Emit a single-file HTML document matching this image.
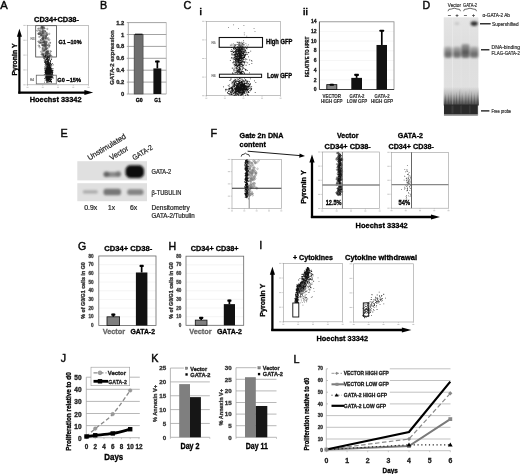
<!DOCTYPE html>
<html><head><meta charset="utf-8"><style>
html,body{margin:0;padding:0;background:#fff;width:520px;height:474px;overflow:hidden;}
svg{display:block;font-family:"Liberation Sans",sans-serif;will-change:transform;filter:blur(0.3px);}
</style></head><body>
<svg width="520" height="474" viewBox="0 0 520 474" font-family="Liberation Sans, sans-serif">
<text x="0.3" y="8.5" font-size="11.2" stroke="#111" stroke-width="0.45">A</text>
<text x="34" y="21.7" font-size="7.4" font-weight="bold" stroke="#000" stroke-width="0.32" textLength="45" lengthAdjust="spacingAndGlyphs">CD34+CD38-</text>
<rect x="27.5" y="25.4" width="61" height="59.4" fill="none" stroke="#9a9a9a" stroke-width="0.6"/>
<line x1="26.3" y1="84.8" x2="27.5" y2="84.8" stroke="#aaa" stroke-width="0.5"/>
<rect x="23.3" y="84.3" width="2.4" height="1" fill="#c8c8c8"/>
<line x1="26.3" y1="69.95" x2="27.5" y2="69.95" stroke="#aaa" stroke-width="0.5"/>
<rect x="23.3" y="69.45" width="2.4" height="1" fill="#c8c8c8"/>
<line x1="26.3" y1="55.1" x2="27.5" y2="55.1" stroke="#aaa" stroke-width="0.5"/>
<rect x="23.3" y="54.6" width="2.4" height="1" fill="#c8c8c8"/>
<line x1="26.3" y1="40.25" x2="27.5" y2="40.25" stroke="#aaa" stroke-width="0.5"/>
<rect x="23.3" y="39.75" width="2.4" height="1" fill="#c8c8c8"/>
<line x1="26.3" y1="25.4" x2="27.5" y2="25.4" stroke="#aaa" stroke-width="0.5"/>
<rect x="23.3" y="24.9" width="2.4" height="1" fill="#c8c8c8"/>
<line x1="27.5" y1="84.8" x2="27.5" y2="86" stroke="#aaa" stroke-width="0.5"/>
<rect x="26.5" y="86.8" width="2" height="1" fill="#c8c8c8"/>
<line x1="42.75" y1="84.8" x2="42.75" y2="86" stroke="#aaa" stroke-width="0.5"/>
<rect x="41.75" y="86.8" width="2" height="1" fill="#c8c8c8"/>
<line x1="58" y1="84.8" x2="58" y2="86" stroke="#aaa" stroke-width="0.5"/>
<rect x="57" y="86.8" width="2" height="1" fill="#c8c8c8"/>
<line x1="73.25" y1="84.8" x2="73.25" y2="86" stroke="#aaa" stroke-width="0.5"/>
<rect x="72.25" y="86.8" width="2" height="1" fill="#c8c8c8"/>
<line x1="88.5" y1="84.8" x2="88.5" y2="86" stroke="#aaa" stroke-width="0.5"/>
<rect x="87.5" y="86.8" width="2" height="1" fill="#c8c8c8"/>
<path d="M45.95 45.36a0.7 0.7 0 1 0 1.4 0a0.7 0.7 0 1 0 -1.4 0M46.37 53.33a0.7 0.7 0 1 0 1.4 0a0.7 0.7 0 1 0 -1.4 0M43.27 50.24a0.7 0.7 0 1 0 1.4 0a0.7 0.7 0 1 0 -1.4 0M38.58 33.67a0.7 0.7 0 1 0 1.4 0a0.7 0.7 0 1 0 -1.4 0M45.21 35.43a0.7 0.7 0 1 0 1.4 0a0.7 0.7 0 1 0 -1.4 0M47.84 53.26a0.7 0.7 0 1 0 1.4 0a0.7 0.7 0 1 0 -1.4 0M40.94 26.58a0.7 0.7 0 1 0 1.4 0a0.7 0.7 0 1 0 -1.4 0M46.46 52.19a0.7 0.7 0 1 0 1.4 0a0.7 0.7 0 1 0 -1.4 0M47 51.44a0.7 0.7 0 1 0 1.4 0a0.7 0.7 0 1 0 -1.4 0M45.65 41.58a0.7 0.7 0 1 0 1.4 0a0.7 0.7 0 1 0 -1.4 0M45.15 35.85a0.7 0.7 0 1 0 1.4 0a0.7 0.7 0 1 0 -1.4 0M41.32 35.61a0.7 0.7 0 1 0 1.4 0a0.7 0.7 0 1 0 -1.4 0M46.54 34.58a0.7 0.7 0 1 0 1.4 0a0.7 0.7 0 1 0 -1.4 0M39.94 40.16a0.7 0.7 0 1 0 1.4 0a0.7 0.7 0 1 0 -1.4 0M45.9 41.97a0.7 0.7 0 1 0 1.4 0a0.7 0.7 0 1 0 -1.4 0M45.12 42.96a0.7 0.7 0 1 0 1.4 0a0.7 0.7 0 1 0 -1.4 0M48.14 56.14a0.7 0.7 0 1 0 1.4 0a0.7 0.7 0 1 0 -1.4 0M49.94 51.18a0.7 0.7 0 1 0 1.4 0a0.7 0.7 0 1 0 -1.4 0M48.11 45.57a0.7 0.7 0 1 0 1.4 0a0.7 0.7 0 1 0 -1.4 0M42.66 56.78a0.7 0.7 0 1 0 1.4 0a0.7 0.7 0 1 0 -1.4 0M37.71 33.96a0.7 0.7 0 1 0 1.4 0a0.7 0.7 0 1 0 -1.4 0M44.23 30.94a0.7 0.7 0 1 0 1.4 0a0.7 0.7 0 1 0 -1.4 0M41.32 44.98a0.7 0.7 0 1 0 1.4 0a0.7 0.7 0 1 0 -1.4 0M41.46 28.41a0.7 0.7 0 1 0 1.4 0a0.7 0.7 0 1 0 -1.4 0M43.73 28.27a0.7 0.7 0 1 0 1.4 0a0.7 0.7 0 1 0 -1.4 0M39.18 42.26a0.7 0.7 0 1 0 1.4 0a0.7 0.7 0 1 0 -1.4 0M37.7 41.5a0.7 0.7 0 1 0 1.4 0a0.7 0.7 0 1 0 -1.4 0M46.13 54.62a0.7 0.7 0 1 0 1.4 0a0.7 0.7 0 1 0 -1.4 0M44.25 45.27a0.7 0.7 0 1 0 1.4 0a0.7 0.7 0 1 0 -1.4 0M42.95 41.96a0.7 0.7 0 1 0 1.4 0a0.7 0.7 0 1 0 -1.4 0M43.64 42.31a0.7 0.7 0 1 0 1.4 0a0.7 0.7 0 1 0 -1.4 0M40.09 34.66a0.7 0.7 0 1 0 1.4 0a0.7 0.7 0 1 0 -1.4 0M41.72 33.45a0.7 0.7 0 1 0 1.4 0a0.7 0.7 0 1 0 -1.4 0M41.79 48.06a0.7 0.7 0 1 0 1.4 0a0.7 0.7 0 1 0 -1.4 0M37.77 33.69a0.7 0.7 0 1 0 1.4 0a0.7 0.7 0 1 0 -1.4 0M44.33 37.89a0.7 0.7 0 1 0 1.4 0a0.7 0.7 0 1 0 -1.4 0M41.15 26.96a0.7 0.7 0 1 0 1.4 0a0.7 0.7 0 1 0 -1.4 0M46.13 51.34a0.7 0.7 0 1 0 1.4 0a0.7 0.7 0 1 0 -1.4 0M39.32 32.9a0.7 0.7 0 1 0 1.4 0a0.7 0.7 0 1 0 -1.4 0M40.73 34.94a0.7 0.7 0 1 0 1.4 0a0.7 0.7 0 1 0 -1.4 0M42.56 54.2a0.7 0.7 0 1 0 1.4 0a0.7 0.7 0 1 0 -1.4 0M41.2 41.97a0.7 0.7 0 1 0 1.4 0a0.7 0.7 0 1 0 -1.4 0M45.64 52.5a0.7 0.7 0 1 0 1.4 0a0.7 0.7 0 1 0 -1.4 0M42.06 45.36a0.7 0.7 0 1 0 1.4 0a0.7 0.7 0 1 0 -1.4 0M45.6 49.06a0.7 0.7 0 1 0 1.4 0a0.7 0.7 0 1 0 -1.4 0M42.63 30.24a0.7 0.7 0 1 0 1.4 0a0.7 0.7 0 1 0 -1.4 0M49.2 42.61a0.7 0.7 0 1 0 1.4 0a0.7 0.7 0 1 0 -1.4 0M39.82 42.77a0.7 0.7 0 1 0 1.4 0a0.7 0.7 0 1 0 -1.4 0M47.62 53.31a0.7 0.7 0 1 0 1.4 0a0.7 0.7 0 1 0 -1.4 0M42.68 37.32a0.7 0.7 0 1 0 1.4 0a0.7 0.7 0 1 0 -1.4 0M43.95 44.69a0.7 0.7 0 1 0 1.4 0a0.7 0.7 0 1 0 -1.4 0M37.65 28.55a0.7 0.7 0 1 0 1.4 0a0.7 0.7 0 1 0 -1.4 0M41.8 38.6a0.7 0.7 0 1 0 1.4 0a0.7 0.7 0 1 0 -1.4 0M44.76 36.42a0.7 0.7 0 1 0 1.4 0a0.7 0.7 0 1 0 -1.4 0M41.75 31.09a0.7 0.7 0 1 0 1.4 0a0.7 0.7 0 1 0 -1.4 0M45.19 51.34a0.7 0.7 0 1 0 1.4 0a0.7 0.7 0 1 0 -1.4 0M42.22 37.87a0.7 0.7 0 1 0 1.4 0a0.7 0.7 0 1 0 -1.4 0M48.82 55.72a0.7 0.7 0 1 0 1.4 0a0.7 0.7 0 1 0 -1.4 0M43.9 44.68a0.7 0.7 0 1 0 1.4 0a0.7 0.7 0 1 0 -1.4 0M38.08 45.59a0.7 0.7 0 1 0 1.4 0a0.7 0.7 0 1 0 -1.4 0M42.3 45.38a0.7 0.7 0 1 0 1.4 0a0.7 0.7 0 1 0 -1.4 0M39.03 47.3a0.7 0.7 0 1 0 1.4 0a0.7 0.7 0 1 0 -1.4 0M41.85 39.72a0.7 0.7 0 1 0 1.4 0a0.7 0.7 0 1 0 -1.4 0M45.98 34.61a0.7 0.7 0 1 0 1.4 0a0.7 0.7 0 1 0 -1.4 0M43.24 38.82a0.7 0.7 0 1 0 1.4 0a0.7 0.7 0 1 0 -1.4 0M38.57 30.65a0.7 0.7 0 1 0 1.4 0a0.7 0.7 0 1 0 -1.4 0M43.12 55.64a0.7 0.7 0 1 0 1.4 0a0.7 0.7 0 1 0 -1.4 0M45.32 33.64a0.7 0.7 0 1 0 1.4 0a0.7 0.7 0 1 0 -1.4 0M44.75 47.04a0.7 0.7 0 1 0 1.4 0a0.7 0.7 0 1 0 -1.4 0M42.78 35.64a0.7 0.7 0 1 0 1.4 0a0.7 0.7 0 1 0 -1.4 0M45.09 53.52a0.7 0.7 0 1 0 1.4 0a0.7 0.7 0 1 0 -1.4 0M44.38 46.79a0.7 0.7 0 1 0 1.4 0a0.7 0.7 0 1 0 -1.4 0M44.07 31.25a0.7 0.7 0 1 0 1.4 0a0.7 0.7 0 1 0 -1.4 0M46.59 52.33a0.7 0.7 0 1 0 1.4 0a0.7 0.7 0 1 0 -1.4 0M46.13 54.81a0.7 0.7 0 1 0 1.4 0a0.7 0.7 0 1 0 -1.4 0M42.55 54.07a0.7 0.7 0 1 0 1.4 0a0.7 0.7 0 1 0 -1.4 0M45.24 44.12a0.7 0.7 0 1 0 1.4 0a0.7 0.7 0 1 0 -1.4 0M40.11 31.84a0.7 0.7 0 1 0 1.4 0a0.7 0.7 0 1 0 -1.4 0M45.12 32.32a0.7 0.7 0 1 0 1.4 0a0.7 0.7 0 1 0 -1.4 0M42.04 54.82a0.7 0.7 0 1 0 1.4 0a0.7 0.7 0 1 0 -1.4 0M43.41 42.71a0.7 0.7 0 1 0 1.4 0a0.7 0.7 0 1 0 -1.4 0M42.09 32.74a0.7 0.7 0 1 0 1.4 0a0.7 0.7 0 1 0 -1.4 0M41.7 52.98a0.7 0.7 0 1 0 1.4 0a0.7 0.7 0 1 0 -1.4 0M48.84 45.34a0.7 0.7 0 1 0 1.4 0a0.7 0.7 0 1 0 -1.4 0M47.81 44.06a0.7 0.7 0 1 0 1.4 0a0.7 0.7 0 1 0 -1.4 0M41.74 38.84a0.7 0.7 0 1 0 1.4 0a0.7 0.7 0 1 0 -1.4 0M45.23 38.57a0.7 0.7 0 1 0 1.4 0a0.7 0.7 0 1 0 -1.4 0M43.4 33.64a0.7 0.7 0 1 0 1.4 0a0.7 0.7 0 1 0 -1.4 0M45.92 52.72a0.7 0.7 0 1 0 1.4 0a0.7 0.7 0 1 0 -1.4 0M43.24 41.22a0.7 0.7 0 1 0 1.4 0a0.7 0.7 0 1 0 -1.4 0M43.99 43.03a0.7 0.7 0 1 0 1.4 0a0.7 0.7 0 1 0 -1.4 0M39.84 36.3a0.7 0.7 0 1 0 1.4 0a0.7 0.7 0 1 0 -1.4 0M43.95 49.83a0.7 0.7 0 1 0 1.4 0a0.7 0.7 0 1 0 -1.4 0M40.93 27.38a0.7 0.7 0 1 0 1.4 0a0.7 0.7 0 1 0 -1.4 0M46.18 38.38a0.7 0.7 0 1 0 1.4 0a0.7 0.7 0 1 0 -1.4 0M42.34 27.42a0.7 0.7 0 1 0 1.4 0a0.7 0.7 0 1 0 -1.4 0M41.84 30.08a0.7 0.7 0 1 0 1.4 0a0.7 0.7 0 1 0 -1.4 0M49.78 55.1a0.7 0.7 0 1 0 1.4 0a0.7 0.7 0 1 0 -1.4 0M42.76 47.66a0.7 0.7 0 1 0 1.4 0a0.7 0.7 0 1 0 -1.4 0M42.18 39.69a0.7 0.7 0 1 0 1.4 0a0.7 0.7 0 1 0 -1.4 0M38.75 42.83a0.7 0.7 0 1 0 1.4 0a0.7 0.7 0 1 0 -1.4 0M49.46 53.17a0.7 0.7 0 1 0 1.4 0a0.7 0.7 0 1 0 -1.4 0M45.45 37.41a0.7 0.7 0 1 0 1.4 0a0.7 0.7 0 1 0 -1.4 0M46.43 44.73a0.7 0.7 0 1 0 1.4 0a0.7 0.7 0 1 0 -1.4 0M46.18 48.46a0.7 0.7 0 1 0 1.4 0a0.7 0.7 0 1 0 -1.4 0M43.2 37.14a0.7 0.7 0 1 0 1.4 0a0.7 0.7 0 1 0 -1.4 0M44.22 41.79a0.7 0.7 0 1 0 1.4 0a0.7 0.7 0 1 0 -1.4 0M44.06 49.45a0.7 0.7 0 1 0 1.4 0a0.7 0.7 0 1 0 -1.4 0M44.84 53.61a0.7 0.7 0 1 0 1.4 0a0.7 0.7 0 1 0 -1.4 0M42.13 31.91a0.7 0.7 0 1 0 1.4 0a0.7 0.7 0 1 0 -1.4 0M49.58 55.41a0.7 0.7 0 1 0 1.4 0a0.7 0.7 0 1 0 -1.4 0M42.82 26.67a0.7 0.7 0 1 0 1.4 0a0.7 0.7 0 1 0 -1.4 0M44.53 48.89a0.7 0.7 0 1 0 1.4 0a0.7 0.7 0 1 0 -1.4 0M43.38 51.14a0.7 0.7 0 1 0 1.4 0a0.7 0.7 0 1 0 -1.4 0M40.2 31.8a0.7 0.7 0 1 0 1.4 0a0.7 0.7 0 1 0 -1.4 0M47.51 38.16a0.7 0.7 0 1 0 1.4 0a0.7 0.7 0 1 0 -1.4 0M46.34 51.72a0.7 0.7 0 1 0 1.4 0a0.7 0.7 0 1 0 -1.4 0M41.55 26.89a0.7 0.7 0 1 0 1.4 0a0.7 0.7 0 1 0 -1.4 0M43.19 46.37a0.7 0.7 0 1 0 1.4 0a0.7 0.7 0 1 0 -1.4 0M41.87 50.25a0.7 0.7 0 1 0 1.4 0a0.7 0.7 0 1 0 -1.4 0M43.43 42.25a0.7 0.7 0 1 0 1.4 0a0.7 0.7 0 1 0 -1.4 0M46.93 48.02a0.7 0.7 0 1 0 1.4 0a0.7 0.7 0 1 0 -1.4 0M41.26 33.3a0.7 0.7 0 1 0 1.4 0a0.7 0.7 0 1 0 -1.4 0M41.58 33.65a0.7 0.7 0 1 0 1.4 0a0.7 0.7 0 1 0 -1.4 0M42.34 38.3a0.7 0.7 0 1 0 1.4 0a0.7 0.7 0 1 0 -1.4 0M42.4 32.18a0.7 0.7 0 1 0 1.4 0a0.7 0.7 0 1 0 -1.4 0M38.56 36.95a0.7 0.7 0 1 0 1.4 0a0.7 0.7 0 1 0 -1.4 0M44.93 54.5a0.7 0.7 0 1 0 1.4 0a0.7 0.7 0 1 0 -1.4 0M41.57 44a0.7 0.7 0 1 0 1.4 0a0.7 0.7 0 1 0 -1.4 0M45.22 37.19a0.7 0.7 0 1 0 1.4 0a0.7 0.7 0 1 0 -1.4 0M40.44 35.1a0.7 0.7 0 1 0 1.4 0a0.7 0.7 0 1 0 -1.4 0M47.14 55.51a0.7 0.7 0 1 0 1.4 0a0.7 0.7 0 1 0 -1.4 0M47.42 39.77a0.7 0.7 0 1 0 1.4 0a0.7 0.7 0 1 0 -1.4 0M44.87 56.38a0.7 0.7 0 1 0 1.4 0a0.7 0.7 0 1 0 -1.4 0M42 42.45a0.7 0.7 0 1 0 1.4 0a0.7 0.7 0 1 0 -1.4 0M44.16 43.28a0.7 0.7 0 1 0 1.4 0a0.7 0.7 0 1 0 -1.4 0M45.33 54.83a0.7 0.7 0 1 0 1.4 0a0.7 0.7 0 1 0 -1.4 0M41.96 49.21a0.7 0.7 0 1 0 1.4 0a0.7 0.7 0 1 0 -1.4 0M45.16 44.04a0.7 0.7 0 1 0 1.4 0a0.7 0.7 0 1 0 -1.4 0M48.66 39.77a0.7 0.7 0 1 0 1.4 0a0.7 0.7 0 1 0 -1.4 0M44.55 53.04a0.7 0.7 0 1 0 1.4 0a0.7 0.7 0 1 0 -1.4 0M42.6 38.98a0.7 0.7 0 1 0 1.4 0a0.7 0.7 0 1 0 -1.4 0M42.63 54.65a0.7 0.7 0 1 0 1.4 0a0.7 0.7 0 1 0 -1.4 0M42.47 28.54a0.7 0.7 0 1 0 1.4 0a0.7 0.7 0 1 0 -1.4 0M39.87 40.2a0.7 0.7 0 1 0 1.4 0a0.7 0.7 0 1 0 -1.4 0M40.65 42.53a0.7 0.7 0 1 0 1.4 0a0.7 0.7 0 1 0 -1.4 0M49.03 55.65a0.7 0.7 0 1 0 1.4 0a0.7 0.7 0 1 0 -1.4 0M39.98 34.44a0.7 0.7 0 1 0 1.4 0a0.7 0.7 0 1 0 -1.4 0M47.85 50.82a0.7 0.7 0 1 0 1.4 0a0.7 0.7 0 1 0 -1.4 0M48.46 46.82a0.7 0.7 0 1 0 1.4 0a0.7 0.7 0 1 0 -1.4 0M45.23 48.39a0.7 0.7 0 1 0 1.4 0a0.7 0.7 0 1 0 -1.4 0M45.63 45.61a0.7 0.7 0 1 0 1.4 0a0.7 0.7 0 1 0 -1.4 0M50.94 56.26a0.7 0.7 0 1 0 1.4 0a0.7 0.7 0 1 0 -1.4 0M42.27 36.98a0.7 0.7 0 1 0 1.4 0a0.7 0.7 0 1 0 -1.4 0M41.49 38.27a0.7 0.7 0 1 0 1.4 0a0.7 0.7 0 1 0 -1.4 0M38.56 33.12a0.7 0.7 0 1 0 1.4 0a0.7 0.7 0 1 0 -1.4 0M41.64 27.85a0.7 0.7 0 1 0 1.4 0a0.7 0.7 0 1 0 -1.4 0M46.25 33.08a0.7 0.7 0 1 0 1.4 0a0.7 0.7 0 1 0 -1.4 0M48.01 54.32a0.7 0.7 0 1 0 1.4 0a0.7 0.7 0 1 0 -1.4 0M42.54 51.17a0.7 0.7 0 1 0 1.4 0a0.7 0.7 0 1 0 -1.4 0M39.5 30.42a0.7 0.7 0 1 0 1.4 0a0.7 0.7 0 1 0 -1.4 0M42.66 45.19a0.7 0.7 0 1 0 1.4 0a0.7 0.7 0 1 0 -1.4 0M44.25 41.3a0.7 0.7 0 1 0 1.4 0a0.7 0.7 0 1 0 -1.4 0M43.42 44.63a0.7 0.7 0 1 0 1.4 0a0.7 0.7 0 1 0 -1.4 0M44.85 46.59a0.7 0.7 0 1 0 1.4 0a0.7 0.7 0 1 0 -1.4 0M43.48 35.71a0.7 0.7 0 1 0 1.4 0a0.7 0.7 0 1 0 -1.4 0M44.82 55.71a0.7 0.7 0 1 0 1.4 0a0.7 0.7 0 1 0 -1.4 0M43.29 40.7a0.7 0.7 0 1 0 1.4 0a0.7 0.7 0 1 0 -1.4 0M44.68 45.89a0.7 0.7 0 1 0 1.4 0a0.7 0.7 0 1 0 -1.4 0M43.93 45.45a0.7 0.7 0 1 0 1.4 0a0.7 0.7 0 1 0 -1.4 0M43.49 32.63a0.7 0.7 0 1 0 1.4 0a0.7 0.7 0 1 0 -1.4 0M46.63 28.93a0.7 0.7 0 1 0 1.4 0a0.7 0.7 0 1 0 -1.4 0M44.75 39.27a0.7 0.7 0 1 0 1.4 0a0.7 0.7 0 1 0 -1.4 0M44.89 49.7a0.7 0.7 0 1 0 1.4 0a0.7 0.7 0 1 0 -1.4 0M40.42 51.73a0.7 0.7 0 1 0 1.4 0a0.7 0.7 0 1 0 -1.4 0M45.63 48.07a0.7 0.7 0 1 0 1.4 0a0.7 0.7 0 1 0 -1.4 0M36.55 30.63a0.7 0.7 0 1 0 1.4 0a0.7 0.7 0 1 0 -1.4 0M41.61 54.52a0.7 0.7 0 1 0 1.4 0a0.7 0.7 0 1 0 -1.4 0M47.22 51.2a0.7 0.7 0 1 0 1.4 0a0.7 0.7 0 1 0 -1.4 0M47.16 53.52a0.7 0.7 0 1 0 1.4 0a0.7 0.7 0 1 0 -1.4 0M43.25 42.37a0.7 0.7 0 1 0 1.4 0a0.7 0.7 0 1 0 -1.4 0M40.8 54.34a0.7 0.7 0 1 0 1.4 0a0.7 0.7 0 1 0 -1.4 0M40.51 28.72a0.7 0.7 0 1 0 1.4 0a0.7 0.7 0 1 0 -1.4 0M39.6 28.12a0.7 0.7 0 1 0 1.4 0a0.7 0.7 0 1 0 -1.4 0M43.11 27.71a0.7 0.7 0 1 0 1.4 0a0.7 0.7 0 1 0 -1.4 0M48.53 33.83a0.7 0.7 0 1 0 1.4 0a0.7 0.7 0 1 0 -1.4 0M43 34.73a0.7 0.7 0 1 0 1.4 0a0.7 0.7 0 1 0 -1.4 0" fill="none" stroke="#444" stroke-width="0.4"/>
<path d="M46.65 45.36h0.8v0.8h-0.8zM47.07 53.33h0.8v0.8h-0.8zM43.97 50.24h0.8v0.8h-0.8zM39.28 33.67h0.8v0.8h-0.8zM45.91 35.43h0.8v0.8h-0.8zM48.54 53.26h0.8v0.8h-0.8zM41.64 26.58h0.8v0.8h-0.8zM47.16 52.19h0.8v0.8h-0.8zM47.7 51.44h0.8v0.8h-0.8zM46.35 41.58h0.8v0.8h-0.8zM45.85 35.85h0.8v0.8h-0.8zM42.02 35.61h0.8v0.8h-0.8zM47.24 34.58h0.8v0.8h-0.8zM40.64 40.16h0.8v0.8h-0.8zM46.6 41.97h0.8v0.8h-0.8zM45.82 42.96h0.8v0.8h-0.8zM48.84 56.14h0.8v0.8h-0.8zM50.64 51.18h0.8v0.8h-0.8zM48.81 45.57h0.8v0.8h-0.8zM43.36 56.78h0.8v0.8h-0.8zM38.41 33.96h0.8v0.8h-0.8zM44.93 30.94h0.8v0.8h-0.8zM42.02 44.98h0.8v0.8h-0.8zM42.16 28.41h0.8v0.8h-0.8zM44.43 28.27h0.8v0.8h-0.8zM39.88 42.26h0.8v0.8h-0.8zM38.4 41.5h0.8v0.8h-0.8zM46.83 54.62h0.8v0.8h-0.8zM44.95 45.27h0.8v0.8h-0.8zM43.65 41.96h0.8v0.8h-0.8zM44.34 42.31h0.8v0.8h-0.8zM40.79 34.66h0.8v0.8h-0.8zM42.42 33.45h0.8v0.8h-0.8zM42.49 48.06h0.8v0.8h-0.8zM38.47 33.69h0.8v0.8h-0.8zM45.03 37.89h0.8v0.8h-0.8zM41.85 26.96h0.8v0.8h-0.8zM46.83 51.34h0.8v0.8h-0.8zM40.02 32.9h0.8v0.8h-0.8zM41.43 34.94h0.8v0.8h-0.8zM43.26 54.2h0.8v0.8h-0.8zM41.9 41.97h0.8v0.8h-0.8zM46.34 52.5h0.8v0.8h-0.8zM42.76 45.36h0.8v0.8h-0.8zM46.3 49.06h0.8v0.8h-0.8zM43.33 30.24h0.8v0.8h-0.8zM49.9 42.61h0.8v0.8h-0.8zM40.52 42.77h0.8v0.8h-0.8zM48.32 53.31h0.8v0.8h-0.8zM43.38 37.32h0.8v0.8h-0.8zM44.65 44.69h0.8v0.8h-0.8zM38.35 28.55h0.8v0.8h-0.8zM42.5 38.6h0.8v0.8h-0.8zM45.46 36.42h0.8v0.8h-0.8zM42.45 31.09h0.8v0.8h-0.8zM45.89 51.34h0.8v0.8h-0.8zM42.92 37.87h0.8v0.8h-0.8zM49.52 55.72h0.8v0.8h-0.8zM44.6 44.68h0.8v0.8h-0.8zM38.78 45.59h0.8v0.8h-0.8z" fill="#444"/>
<path d="M47.25 57.58h0.8v0.8h-0.8zM49.82 65.86h0.8v0.8h-0.8zM51.2 64.53h0.8v0.8h-0.8zM46.71 56.41h0.8v0.8h-0.8zM43.91 58.33h0.8v0.8h-0.8zM45.03 55.42h0.8v0.8h-0.8zM45.69 64.07h0.8v0.8h-0.8zM47.02 64.5h0.8v0.8h-0.8zM48.12 65.88h0.8v0.8h-0.8zM44.01 62.17h0.8v0.8h-0.8zM48.08 61.84h0.8v0.8h-0.8zM44.95 62.34h0.8v0.8h-0.8zM47.86 61.6h0.8v0.8h-0.8zM47.74 64.94h0.8v0.8h-0.8zM46.88 61.78h0.8v0.8h-0.8zM46.88 58.16h0.8v0.8h-0.8zM46.35 61.21h0.8v0.8h-0.8zM45.49 56.36h0.8v0.8h-0.8zM44.73 63.98h0.8v0.8h-0.8zM47.49 62.52h0.8v0.8h-0.8zM50.27 60h0.8v0.8h-0.8zM51.14 64.43h0.8v0.8h-0.8zM49.88 63.36h0.8v0.8h-0.8zM48.2 59.48h0.8v0.8h-0.8zM45.47 55.19h0.8v0.8h-0.8zM49.15 56.98h0.8v0.8h-0.8zM46.68 57h0.8v0.8h-0.8zM46.84 59.05h0.8v0.8h-0.8zM46.68 60.02h0.8v0.8h-0.8zM48.05 64.87h0.8v0.8h-0.8zM46.18 58.2h0.8v0.8h-0.8zM47.71 65.25h0.8v0.8h-0.8zM45.68 62.5h0.8v0.8h-0.8zM47.15 64.63h0.8v0.8h-0.8zM50.98 59.17h0.8v0.8h-0.8zM47.27 64.11h0.8v0.8h-0.8zM47.77 58.05h0.8v0.8h-0.8zM47.92 56.64h0.8v0.8h-0.8zM45.81 63.83h0.8v0.8h-0.8zM47.18 63.07h0.8v0.8h-0.8zM48.38 57.11h0.8v0.8h-0.8zM47.36 57.59h0.8v0.8h-0.8zM48.12 65.24h0.8v0.8h-0.8zM49.54 58.55h0.8v0.8h-0.8zM46.4 62.03h0.8v0.8h-0.8zM46.83 57.02h0.8v0.8h-0.8zM46.84 63.65h0.8v0.8h-0.8zM49.21 55.74h0.8v0.8h-0.8zM43.96 61.31h0.8v0.8h-0.8zM45.41 55.34h0.8v0.8h-0.8zM46.43 60.4h0.8v0.8h-0.8zM48.9 64.13h0.8v0.8h-0.8zM47.66 56.39h0.8v0.8h-0.8zM49.28 58.61h0.8v0.8h-0.8zM44.97 63.2h0.8v0.8h-0.8zM48.69 61.89h0.8v0.8h-0.8zM46.47 58.8h0.8v0.8h-0.8zM46.31 61.6h0.8v0.8h-0.8zM48.1 60.18h0.8v0.8h-0.8zM46.23 64.47h0.8v0.8h-0.8zM43.41 57.95h0.8v0.8h-0.8zM47.01 63.09h0.8v0.8h-0.8zM44.91 62.03h0.8v0.8h-0.8zM46.51 63.16h0.8v0.8h-0.8zM47.7 58.88h0.8v0.8h-0.8zM48.12 62.76h0.8v0.8h-0.8zM50.25 63.24h0.8v0.8h-0.8zM46.74 59.37h0.8v0.8h-0.8zM43.93 55.73h0.8v0.8h-0.8zM46.66 66.19h0.8v0.8h-0.8zM46.01 63.14h0.8v0.8h-0.8zM44.74 58.39h0.8v0.8h-0.8zM48.34 62.63h0.8v0.8h-0.8zM45.82 58.47h0.8v0.8h-0.8zM43.84 60h0.8v0.8h-0.8zM48.97 65.39h0.8v0.8h-0.8zM46.98 60.78h0.8v0.8h-0.8zM47.54 57.19h0.8v0.8h-0.8zM47.14 57.88h0.8v0.8h-0.8zM47.69 56.18h0.8v0.8h-0.8zM46.89 57.81h0.8v0.8h-0.8zM49.01 58.35h0.8v0.8h-0.8zM47.48 56.87h0.8v0.8h-0.8zM47.26 55.92h0.8v0.8h-0.8zM47.9 60.45h0.8v0.8h-0.8zM44.35 57.32h0.8v0.8h-0.8zM47.33 63.64h0.8v0.8h-0.8zM47.44 64.02h0.8v0.8h-0.8zM47.26 58.32h0.8v0.8h-0.8zM45.05 60.78h0.8v0.8h-0.8zM50.04 61.05h0.8v0.8h-0.8zM46.79 55.71h0.8v0.8h-0.8zM44.63 55.93h0.8v0.8h-0.8zM44.92 64.92h0.8v0.8h-0.8zM46.73 59.76h0.8v0.8h-0.8zM47.55 63.39h0.8v0.8h-0.8zM45.38 54.95h0.8v0.8h-0.8zM47.55 61.53h0.8v0.8h-0.8zM46.71 64.77h0.8v0.8h-0.8zM48.74 65.05h0.8v0.8h-0.8zM45.28 54.99h0.8v0.8h-0.8zM47.22 61.26h0.8v0.8h-0.8zM48.72 59.07h0.8v0.8h-0.8zM52.01 63.31h0.8v0.8h-0.8zM44.9 56.09h0.8v0.8h-0.8zM46.11 58.44h0.8v0.8h-0.8zM46.29 63.77h0.8v0.8h-0.8zM48.54 60.04h0.8v0.8h-0.8zM45.23 59.9h0.8v0.8h-0.8zM47.13 65.7h0.8v0.8h-0.8zM46.93 58.07h0.8v0.8h-0.8zM44.9 55.97h0.8v0.8h-0.8zM45.46 59.11h0.8v0.8h-0.8zM45.92 56.92h0.8v0.8h-0.8zM43.05 55.49h0.8v0.8h-0.8zM44.89 61.43h0.8v0.8h-0.8zM47.23 65.69h0.8v0.8h-0.8zM47.62 61.16h0.8v0.8h-0.8zM47.15 63.13h0.8v0.8h-0.8zM43.97 58.75h0.8v0.8h-0.8zM46.57 62.17h0.8v0.8h-0.8zM48.99 63.75h0.8v0.8h-0.8zM48.33 61.15h0.8v0.8h-0.8zM47.57 63.64h0.8v0.8h-0.8zM45.82 61.27h0.8v0.8h-0.8zM47.87 57.21h0.8v0.8h-0.8zM46.39 61.43h0.8v0.8h-0.8zM45.25 60.26h0.8v0.8h-0.8zM45.39 55.92h0.8v0.8h-0.8zM49.89 61.7h0.8v0.8h-0.8zM48.1 62.88h0.8v0.8h-0.8zM48.67 56.67h0.8v0.8h-0.8zM46.5 60.63h0.8v0.8h-0.8zM49.2 62.71h0.8v0.8h-0.8zM46.08 59.32h0.8v0.8h-0.8zM46.64 58.11h0.8v0.8h-0.8zM51.29 58.38h0.8v0.8h-0.8zM48.62 60.08h0.8v0.8h-0.8zM46.68 62.02h0.8v0.8h-0.8zM47.19 60.13h0.8v0.8h-0.8zM47.22 55.69h0.8v0.8h-0.8zM49.78 64.79h0.8v0.8h-0.8zM47.05 64.63h0.8v0.8h-0.8zM43.69 56.44h0.8v0.8h-0.8zM46.4 57.06h0.8v0.8h-0.8zM46.79 57.06h0.8v0.8h-0.8zM47.96 64.18h0.8v0.8h-0.8zM50.1 64.98h0.8v0.8h-0.8zM47.1 55.77h0.8v0.8h-0.8zM48.38 59.53h0.8v0.8h-0.8zM44.92 57.21h0.8v0.8h-0.8zM48.68 60.23h0.8v0.8h-0.8zM51.45 64.65h0.8v0.8h-0.8zM47.92 56.06h0.8v0.8h-0.8zM47.19 56.76h0.8v0.8h-0.8zM47.49 60.77h0.8v0.8h-0.8zM50.32 60.74h0.8v0.8h-0.8zM46.04 64.07h0.8v0.8h-0.8zM46.97 58.82h0.8v0.8h-0.8zM47.83 73.41h0.8v0.8h-0.8zM49.71 64.21h0.8v0.8h-0.8zM47.74 70.18h0.8v0.8h-0.8zM47.03 73.47h0.8v0.8h-0.8zM47.87 67.72h0.8v0.8h-0.8zM46.09 69.36h0.8v0.8h-0.8zM48.49 71.46h0.8v0.8h-0.8zM52.2 74.44h0.8v0.8h-0.8zM50.13 72.31h0.8v0.8h-0.8zM46.53 69.27h0.8v0.8h-0.8zM46.9 76.31h0.8v0.8h-0.8zM47.65 70.73h0.8v0.8h-0.8zM49.91 70.9h0.8v0.8h-0.8zM46.99 67.21h0.8v0.8h-0.8zM47.2 69.7h0.8v0.8h-0.8zM49.72 75.74h0.8v0.8h-0.8zM49.68 66.21h0.8v0.8h-0.8zM47.7 72.7h0.8v0.8h-0.8zM46.51 76.01h0.8v0.8h-0.8zM45.82 71.42h0.8v0.8h-0.8zM47.18 74.01h0.8v0.8h-0.8zM44.73 68.31h0.8v0.8h-0.8zM49.5 78.5h0.8v0.8h-0.8zM47.29 77.62h0.8v0.8h-0.8zM49.07 73.99h0.8v0.8h-0.8zM51.29 65.63h0.8v0.8h-0.8zM50.18 68.61h0.8v0.8h-0.8zM46.46 77.1h0.8v0.8h-0.8zM49.69 80.2h0.8v0.8h-0.8zM50.15 74.25h0.8v0.8h-0.8zM47.11 78.24h0.8v0.8h-0.8zM46.77 70.45h0.8v0.8h-0.8zM48.12 72.2h0.8v0.8h-0.8zM45.74 73h0.8v0.8h-0.8zM50.65 74.78h0.8v0.8h-0.8zM44.45 66.58h0.8v0.8h-0.8zM46.53 76.95h0.8v0.8h-0.8zM47.87 78.55h0.8v0.8h-0.8zM47.94 68.18h0.8v0.8h-0.8zM48.57 67.31h0.8v0.8h-0.8zM48.73 74.47h0.8v0.8h-0.8zM47.96 70.25h0.8v0.8h-0.8zM50.12 63.04h0.8v0.8h-0.8zM44.88 76.4h0.8v0.8h-0.8zM48.3 73.65h0.8v0.8h-0.8zM47.16 71h0.8v0.8h-0.8zM48.51 81.88h0.8v0.8h-0.8zM48.65 73.58h0.8v0.8h-0.8zM46.84 69.84h0.8v0.8h-0.8zM47.27 73.42h0.8v0.8h-0.8zM49.57 68.63h0.8v0.8h-0.8zM48.86 69.8h0.8v0.8h-0.8zM47.21 74.62h0.8v0.8h-0.8zM51.56 70.67h0.8v0.8h-0.8zM51.99 71.11h0.8v0.8h-0.8zM45.96 80.01h0.8v0.8h-0.8zM48.78 76.61h0.8v0.8h-0.8zM52.31 76.37h0.8v0.8h-0.8zM49.55 75.22h0.8v0.8h-0.8zM48.65 75.03h0.8v0.8h-0.8zM47.97 79.12h0.8v0.8h-0.8zM47.43 72.92h0.8v0.8h-0.8zM47.96 80.79h0.8v0.8h-0.8zM47.42 69h0.8v0.8h-0.8zM49.49 71.93h0.8v0.8h-0.8zM47.66 67.21h0.8v0.8h-0.8zM47.59 71.56h0.8v0.8h-0.8zM46.38 75.18h0.8v0.8h-0.8zM48.22 79.1h0.8v0.8h-0.8zM46.87 70.21h0.8v0.8h-0.8zM48.01 73.02h0.8v0.8h-0.8zM49.97 71.49h0.8v0.8h-0.8zM48.89 69.9h0.8v0.8h-0.8zM49.11 68h0.8v0.8h-0.8zM48.87 73.25h0.8v0.8h-0.8zM48.39 65.73h0.8v0.8h-0.8zM48.1 73.46h0.8v0.8h-0.8zM47.81 73.09h0.8v0.8h-0.8zM49.51 70.24h0.8v0.8h-0.8zM46.57 68.75h0.8v0.8h-0.8zM50.45 67.19h0.8v0.8h-0.8zM48.35 80.86h0.8v0.8h-0.8zM47.1 67.36h0.8v0.8h-0.8zM47.52 79.54h0.8v0.8h-0.8zM47.22 75.52h0.8v0.8h-0.8zM48.56 71.47h0.8v0.8h-0.8zM47.15 68.14h0.8v0.8h-0.8zM50.13 77.38h0.8v0.8h-0.8zM47.05 80.26h0.8v0.8h-0.8zM44.66 69.08h0.8v0.8h-0.8zM47.13 71.75h0.8v0.8h-0.8zM45.09 77.42h0.8v0.8h-0.8zM48.24 74.41h0.8v0.8h-0.8zM49.99 81.4h0.8v0.8h-0.8zM49.34 70.61h0.8v0.8h-0.8zM46.16 75.28h0.8v0.8h-0.8zM47.08 67.75h0.8v0.8h-0.8zM51.15 81.8h0.8v0.8h-0.8zM48.81 69.93h0.8v0.8h-0.8zM48.31 63.73h0.8v0.8h-0.8zM49.99 72.47h0.8v0.8h-0.8zM52.22 72.41h0.8v0.8h-0.8zM50.37 81.05h0.8v0.8h-0.8zM48.52 71.58h0.8v0.8h-0.8zM48.87 72.95h0.8v0.8h-0.8zM49.29 75.49h0.8v0.8h-0.8zM47.32 79.66h0.8v0.8h-0.8zM46.61 72.73h0.8v0.8h-0.8zM48.38 77.37h0.8v0.8h-0.8zM46.78 75.18h0.8v0.8h-0.8zM48.2 71.76h0.8v0.8h-0.8zM48.45 73.33h0.8v0.8h-0.8zM52.05 73.12h0.8v0.8h-0.8zM46.94 69.15h0.8v0.8h-0.8zM48.11 78.1h0.8v0.8h-0.8zM48.04 67.18h0.8v0.8h-0.8zM49 77.92h0.8v0.8h-0.8zM49.97 77.01h0.8v0.8h-0.8zM47.52 72.61h0.8v0.8h-0.8zM46.99 69.79h0.8v0.8h-0.8zM45.67 72.05h0.8v0.8h-0.8zM46.82 74.99h0.8v0.8h-0.8zM49.16 76.12h0.8v0.8h-0.8zM48.37 74.21h0.8v0.8h-0.8zM46.68 77.17h0.8v0.8h-0.8zM47.7 70.66h0.8v0.8h-0.8zM48.35 73.99h0.8v0.8h-0.8zM49.11 66.41h0.8v0.8h-0.8zM47.35 76.21h0.8v0.8h-0.8zM47.9 73.64h0.8v0.8h-0.8zM45.39 71.25h0.8v0.8h-0.8zM46.46 77.88h0.8v0.8h-0.8zM50.89 75.9h0.8v0.8h-0.8zM47.76 73.17h0.8v0.8h-0.8zM48.65 66.89h0.8v0.8h-0.8zM47.7 77.48h0.8v0.8h-0.8zM48.2 70.82h0.8v0.8h-0.8zM48.29 73.31h0.8v0.8h-0.8zM48.17 71.95h0.8v0.8h-0.8zM45.3 74.47h0.8v0.8h-0.8zM48.06 75.71h0.8v0.8h-0.8zM46.93 78.41h0.8v0.8h-0.8zM47.42 68.85h0.8v0.8h-0.8zM48.66 79.6h0.8v0.8h-0.8zM49.33 69.09h0.8v0.8h-0.8zM49.73 74.16h0.8v0.8h-0.8zM47.51 77.87h0.8v0.8h-0.8zM49.78 76h0.8v0.8h-0.8zM50.18 69.06h0.8v0.8h-0.8zM50.12 70.05h0.8v0.8h-0.8zM50.52 71.06h0.8v0.8h-0.8zM48.07 72.79h0.8v0.8h-0.8zM48.02 77.82h0.8v0.8h-0.8zM49.62 67.57h0.8v0.8h-0.8zM46.11 74.96h0.8v0.8h-0.8zM48.64 75.56h0.8v0.8h-0.8zM47.45 75.34h0.8v0.8h-0.8zM47.71 74.96h0.8v0.8h-0.8zM45.51 79.38h0.8v0.8h-0.8zM46.88 75.05h0.8v0.8h-0.8zM48.27 76.6h0.8v0.8h-0.8zM49.72 75.37h0.8v0.8h-0.8zM49.88 80.53h0.8v0.8h-0.8zM48.17 65.02h0.8v0.8h-0.8zM48 78.38h0.8v0.8h-0.8zM46.97 71.9h0.8v0.8h-0.8zM48.94 71.82h0.8v0.8h-0.8zM47.9 68.93h0.8v0.8h-0.8zM49.27 65.15h0.8v0.8h-0.8zM51.1 71.4h0.8v0.8h-0.8zM48.25 70.11h0.8v0.8h-0.8zM45.9 75.08h0.8v0.8h-0.8zM46.92 66.82h0.8v0.8h-0.8zM45.97 79.01h0.8v0.8h-0.8zM46.38 74.14h0.8v0.8h-0.8zM50.39 71.96h0.8v0.8h-0.8zM48.66 70.02h0.8v0.8h-0.8zM45.87 69.69h0.8v0.8h-0.8zM49.35 68.25h0.8v0.8h-0.8zM50.32 70.71h0.8v0.8h-0.8zM47.72 73.03h0.8v0.8h-0.8zM47.22 72.26h0.8v0.8h-0.8zM47.76 67.06h0.8v0.8h-0.8zM48.76 71.88h0.8v0.8h-0.8zM49.32 69.25h0.8v0.8h-0.8zM50.19 73.67h0.8v0.8h-0.8zM50.24 80.83h0.8v0.8h-0.8zM50.2 75.63h0.8v0.8h-0.8zM50.48 71.68h0.8v0.8h-0.8zM49.36 66.18h0.8v0.8h-0.8zM45.85 67.06h0.8v0.8h-0.8zM48.09 65.92h0.8v0.8h-0.8zM48.8 76.05h0.8v0.8h-0.8zM47.69 69.79h0.8v0.8h-0.8zM49.76 73.26h0.8v0.8h-0.8zM47.72 70.39h0.8v0.8h-0.8zM46.82 73.38h0.8v0.8h-0.8zM50.61 78.89h0.8v0.8h-0.8zM49.37 70.12h0.8v0.8h-0.8zM48.65 71.57h0.8v0.8h-0.8zM49.78 69.61h0.8v0.8h-0.8zM50 76.67h0.8v0.8h-0.8zM48.85 68.69h0.8v0.8h-0.8zM44.37 68.24h0.8v0.8h-0.8zM47.22 67.17h0.8v0.8h-0.8zM47.57 67.08h0.8v0.8h-0.8zM46.73 74.98h0.8v0.8h-0.8zM50.21 68.82h0.8v0.8h-0.8zM47.52 77h0.8v0.8h-0.8zM46.48 74.05h0.8v0.8h-0.8zM51.54 68.37h0.8v0.8h-0.8zM47.58 71.84h0.8v0.8h-0.8zM46.33 72.02h0.8v0.8h-0.8zM48.68 70.1h0.8v0.8h-0.8zM48.98 81.11h0.8v0.8h-0.8zM47.17 64.99h0.8v0.8h-0.8zM49.56 74.6h0.8v0.8h-0.8zM47.52 74.39h0.8v0.8h-0.8zM46.82 70.57h0.8v0.8h-0.8zM48.59 73.63h0.8v0.8h-0.8zM49.53 76.69h0.8v0.8h-0.8zM47.29 73.64h0.8v0.8h-0.8zM48.83 74.75h0.8v0.8h-0.8zM48.15 75.91h0.8v0.8h-0.8zM52.82 64.47h0.8v0.8h-0.8zM47.17 79.21h0.8v0.8h-0.8zM48.22 77.12h0.8v0.8h-0.8zM48.1 77.26h0.8v0.8h-0.8zM49.45 67.09h0.8v0.8h-0.8zM49.73 72.5h0.8v0.8h-0.8zM50.33 69.59h0.8v0.8h-0.8zM48.83 70.53h0.8v0.8h-0.8zM47.34 77.06h0.8v0.8h-0.8zM47.44 69.62h0.8v0.8h-0.8zM49.12 72.45h0.8v0.8h-0.8zM49.23 64.98h0.8v0.8h-0.8zM50.54 72.33h0.8v0.8h-0.8zM48.97 73.38h0.8v0.8h-0.8zM50 70.04h0.8v0.8h-0.8zM50.73 69.98h0.8v0.8h-0.8zM48.56 80.92h0.8v0.8h-0.8zM45.92 67.92h0.8v0.8h-0.8zM46.41 68.59h0.8v0.8h-0.8zM46 69.6h0.8v0.8h-0.8zM50.85 78.04h0.8v0.8h-0.8zM46.94 81.83h0.8v0.8h-0.8zM50.27 74.4h0.8v0.8h-0.8zM49.24 69.99h0.8v0.8h-0.8zM51.04 71.2h0.8v0.8h-0.8zM49.9 77.47h0.8v0.8h-0.8zM48.14 69.17h0.8v0.8h-0.8zM47.98 79.1h0.8v0.8h-0.8zM48.44 78.95h0.8v0.8h-0.8zM48.58 73.29h0.8v0.8h-0.8zM47.45 75.71h0.8v0.8h-0.8zM48.25 76.15h0.8v0.8h-0.8zM50.87 79.53h0.8v0.8h-0.8zM45.58 68.58h0.8v0.8h-0.8zM48.71 77.96h0.8v0.8h-0.8zM46.85 71.42h0.8v0.8h-0.8zM48.6 69.78h0.8v0.8h-0.8zM49.64 73.43h0.8v0.8h-0.8zM48.21 72.1h0.8v0.8h-0.8zM49.54 68.85h0.8v0.8h-0.8zM45.76 66.29h0.8v0.8h-0.8zM50.07 69.04h0.8v0.8h-0.8zM47.33 79.1h0.8v0.8h-0.8zM49.3 81.24h0.8v0.8h-0.8zM48.59 75.73h0.8v0.8h-0.8zM44.16 77.98h0.8v0.8h-0.8zM47.09 70.83h0.8v0.8h-0.8zM48.65 72.68h0.8v0.8h-0.8zM50.79 74.19h0.8v0.8h-0.8zM48.76 68.46h0.8v0.8h-0.8zM48.71 68.84h0.8v0.8h-0.8zM46.04 73.41h0.8v0.8h-0.8zM50.59 71.65h0.8v0.8h-0.8zM51.19 68.53h0.8v0.8h-0.8zM48.35 74.62h0.8v0.8h-0.8zM47.95 71.89h0.8v0.8h-0.8zM45.71 77.29h0.8v0.8h-0.8zM49.71 72.98h0.8v0.8h-0.8zM52.62 71.74h0.8v0.8h-0.8zM49.45 73.54h0.8v0.8h-0.8zM50.32 72.28h0.8v0.8h-0.8zM49.17 70.19h0.8v0.8h-0.8zM46.72 71.31h0.8v0.8h-0.8zM50.44 76.15h0.8v0.8h-0.8zM46.32 75.72h0.8v0.8h-0.8zM47.96 78.4h0.8v0.8h-0.8zM48.75 65.89h0.8v0.8h-0.8zM49.71 71.35h0.8v0.8h-0.8zM48.97 71.26h0.8v0.8h-0.8zM48.92 73.72h0.8v0.8h-0.8zM47.08 71.1h0.8v0.8h-0.8zM46.24 70.84h0.8v0.8h-0.8zM48.4 76.29h0.8v0.8h-0.8zM47.16 73.75h0.8v0.8h-0.8zM46.21 68.1h0.8v0.8h-0.8zM46.27 78.6h0.8v0.8h-0.8zM47.52 77.19h0.8v0.8h-0.8zM45.34 70.59h0.8v0.8h-0.8zM46.14 76.49h0.8v0.8h-0.8zM45.68 69.91h0.8v0.8h-0.8zM48.59 77.73h0.8v0.8h-0.8zM48.95 72.09h0.8v0.8h-0.8zM51.51 69.63h0.8v0.8h-0.8zM45.9 71.43h0.8v0.8h-0.8zM47.21 69.78h0.8v0.8h-0.8zM49.76 73.81h0.8v0.8h-0.8zM47.95 73.74h0.8v0.8h-0.8zM47.78 73.15h0.8v0.8h-0.8zM51.03 70.66h0.8v0.8h-0.8zM46.45 73.39h0.8v0.8h-0.8zM46.19 65.04h0.8v0.8h-0.8zM48.84 74.03h0.8v0.8h-0.8zM48.79 77.75h0.8v0.8h-0.8zM46.11 74.15h0.8v0.8h-0.8zM46.72 71.36h0.8v0.8h-0.8zM49.16 72.24h0.8v0.8h-0.8zM49.22 72.44h0.8v0.8h-0.8zM47.27 70.69h0.8v0.8h-0.8zM49.3 70.55h0.8v0.8h-0.8zM49.21 69.12h0.8v0.8h-0.8zM45.45 77.99h0.8v0.8h-0.8zM47.8 72.93h0.8v0.8h-0.8zM48.96 77.02h0.8v0.8h-0.8zM47.38 71.95h0.8v0.8h-0.8zM44.88 73.3h0.8v0.8h-0.8zM47.85 72.28h0.8v0.8h-0.8zM49.5 74.94h0.8v0.8h-0.8zM50.83 76.47h0.8v0.8h-0.8zM44.79 74.01h0.8v0.8h-0.8zM52.48 70.17h0.8v0.8h-0.8zM46.5 69.72h0.8v0.8h-0.8zM49.83 79.97h0.8v0.8h-0.8zM50.27 71.82h0.8v0.8h-0.8zM49.87 71.78h0.8v0.8h-0.8zM48.54 79.15h0.8v0.8h-0.8zM46.44 77.57h0.8v0.8h-0.8zM49.3 75.24h0.8v0.8h-0.8zM47.16 71.32h0.8v0.8h-0.8zM52.83 74.65h0.8v0.8h-0.8zM49.43 75.3h0.8v0.8h-0.8zM51.21 72.28h0.8v0.8h-0.8zM46.84 67.06h0.8v0.8h-0.8zM50.65 67.39h0.8v0.8h-0.8zM50.84 74.71h0.8v0.8h-0.8zM50.79 74.65h0.8v0.8h-0.8zM48.27 71.99h0.8v0.8h-0.8zM46.38 68.08h0.8v0.8h-0.8zM48.02 66.95h0.8v0.8h-0.8zM44.78 71.62h0.8v0.8h-0.8zM45.58 66.88h0.8v0.8h-0.8zM48.45 76.78h0.8v0.8h-0.8zM46.71 77.84h0.8v0.8h-0.8zM48.13 76.69h0.8v0.8h-0.8zM51.39 70.51h0.8v0.8h-0.8zM50.38 69.34h0.8v0.8h-0.8zM50.23 70.5h0.8v0.8h-0.8zM47.05 72.26h0.8v0.8h-0.8zM47.76 77.06h0.8v0.8h-0.8zM49.76 75.57h0.8v0.8h-0.8zM46.31 75.47h0.8v0.8h-0.8zM47.85 73.9h0.8v0.8h-0.8zM46.19 75.78h0.8v0.8h-0.8zM48.49 79.08h0.8v0.8h-0.8zM50.91 68.53h0.8v0.8h-0.8zM47.1 71.08h0.8v0.8h-0.8zM48.66 67.17h0.8v0.8h-0.8zM46.86 79.8h0.8v0.8h-0.8zM46.46 78.45h0.8v0.8h-0.8zM46.32 76.16h0.8v0.8h-0.8zM50.63 67.97h0.8v0.8h-0.8zM52.08 73.73h0.8v0.8h-0.8zM49.07 72.01h0.8v0.8h-0.8zM47.15 73.34h0.8v0.8h-0.8zM49.43 72.21h0.8v0.8h-0.8zM47.77 75.18h0.8v0.8h-0.8zM49.58 71.34h0.8v0.8h-0.8zM48.77 76.59h0.8v0.8h-0.8zM48.75 74.01h0.8v0.8h-0.8zM49.27 71.77h0.8v0.8h-0.8zM47.37 72.53h0.8v0.8h-0.8zM47.65 71.15h0.8v0.8h-0.8zM45.55 76.42h0.8v0.8h-0.8zM47.59 71.86h0.8v0.8h-0.8zM46.02 74.24h0.8v0.8h-0.8zM48.07 71.35h0.8v0.8h-0.8zM46.77 66.76h0.8v0.8h-0.8zM48.46 76.81h0.8v0.8h-0.8zM49.03 68.56h0.8v0.8h-0.8zM46.03 75.85h0.8v0.8h-0.8zM47 74.76h0.8v0.8h-0.8zM46.79 66.04h0.8v0.8h-0.8zM49.49 69.03h0.8v0.8h-0.8zM51.03 70.84h0.8v0.8h-0.8zM49.66 69.55h0.8v0.8h-0.8zM47.74 68.04h0.8v0.8h-0.8zM50.64 76.11h0.8v0.8h-0.8zM45.88 71.99h0.8v0.8h-0.8zM50.7 74.62h0.8v0.8h-0.8zM47.25 71.19h0.8v0.8h-0.8zM43.85 74.28h0.8v0.8h-0.8zM52.54 69.85h0.8v0.8h-0.8zM50.82 72.89h0.8v0.8h-0.8zM46.65 75.44h0.8v0.8h-0.8zM48.57 73.19h0.8v0.8h-0.8zM47.96 71.08h0.8v0.8h-0.8zM48.46 68.44h0.8v0.8h-0.8zM45.93 73.7h0.8v0.8h-0.8zM47.21 74.45h0.8v0.8h-0.8zM49.05 71.91h0.8v0.8h-0.8zM48.66 69.77h0.8v0.8h-0.8zM50.22 75.28h0.8v0.8h-0.8zM52.06 71.73h0.8v0.8h-0.8zM47.15 74.41h0.8v0.8h-0.8zM48.71 74.59h0.8v0.8h-0.8zM45.23 62.22h0.8v0.8h-0.8zM46.29 73.52h0.8v0.8h-0.8zM50.43 70.03h0.8v0.8h-0.8zM46.79 78.82h0.8v0.8h-0.8zM49.15 71.93h0.8v0.8h-0.8zM48.2 69.73h0.8v0.8h-0.8zM46.63 72.08h0.8v0.8h-0.8zM47.74 73.7h0.8v0.8h-0.8zM47.48 70.65h0.8v0.8h-0.8zM47.52 72.78h0.8v0.8h-0.8zM49.51 67.31h0.8v0.8h-0.8zM49.34 72.05h0.8v0.8h-0.8zM47.38 76.26h0.8v0.8h-0.8zM46.85 81.27h0.8v0.8h-0.8zM48.75 75.97h0.8v0.8h-0.8zM48.14 74.14h0.8v0.8h-0.8zM49.95 77.97h0.8v0.8h-0.8zM52.55 77.28h0.8v0.8h-0.8zM49.65 79.99h0.8v0.8h-0.8zM48.24 77.55h0.8v0.8h-0.8zM48.02 72.5h0.8v0.8h-0.8zM46.93 74.09h0.8v0.8h-0.8zM46.85 73.75h0.8v0.8h-0.8zM46.69 74.27h0.8v0.8h-0.8zM47.67 73.84h0.8v0.8h-0.8zM47.62 69.71h0.8v0.8h-0.8zM49.49 64.16h0.8v0.8h-0.8zM47.66 70.18h0.8v0.8h-0.8zM47.98 64.49h0.8v0.8h-0.8zM46.35 73.29h0.8v0.8h-0.8zM50.93 73.02h0.8v0.8h-0.8zM49.11 65.96h0.8v0.8h-0.8zM51.16 75.89h0.8v0.8h-0.8zM49.58 76.64h0.8v0.8h-0.8zM50.68 73.4h0.8v0.8h-0.8zM47.9 80h0.8v0.8h-0.8zM49.45 80.86h0.8v0.8h-0.8zM52.63 67.93h0.8v0.8h-0.8zM46.34 77.35h0.8v0.8h-0.8zM50.18 74.85h0.8v0.8h-0.8zM51.02 74.76h0.8v0.8h-0.8zM48.97 76.92h0.8v0.8h-0.8zM49.52 69.98h0.8v0.8h-0.8zM50.35 70.51h0.8v0.8h-0.8zM47.23 69.53h0.8v0.8h-0.8zM48.97 69.83h0.8v0.8h-0.8zM46.88 72.59h0.8v0.8h-0.8zM47.19 66.9h0.8v0.8h-0.8zM47.29 68.61h0.8v0.8h-0.8zM48.07 75.43h0.8v0.8h-0.8zM48.54 72.7h0.8v0.8h-0.8zM49.04 74.61h0.8v0.8h-0.8zM45.98 65.07h0.8v0.8h-0.8zM51.54 69.71h0.8v0.8h-0.8zM50.19 70.67h0.8v0.8h-0.8zM49.49 73.14h0.8v0.8h-0.8zM47.71 70.54h0.8v0.8h-0.8zM48.15 76.92h0.8v0.8h-0.8zM49.2 72.76h0.8v0.8h-0.8zM48.97 73.07h0.8v0.8h-0.8zM45.55 73.06h0.8v0.8h-0.8zM49.51 75.97h0.8v0.8h-0.8zM45.27 77.71h0.8v0.8h-0.8zM49.93 74.93h0.8v0.8h-0.8zM48.91 73.65h0.8v0.8h-0.8zM48.12 73.18h0.8v0.8h-0.8zM50.55 75.19h0.8v0.8h-0.8zM46.36 77.26h0.8v0.8h-0.8zM48.57 76.97h0.8v0.8h-0.8zM50.7 74.58h0.8v0.8h-0.8zM47.98 76.68h0.8v0.8h-0.8zM47.61 73.5h0.8v0.8h-0.8zM48.49 78.26h0.8v0.8h-0.8zM47.57 72.89h0.8v0.8h-0.8zM50.84 64.28h0.8v0.8h-0.8zM46.81 78.62h0.8v0.8h-0.8zM49.74 73.45h0.8v0.8h-0.8zM46.24 68.08h0.8v0.8h-0.8zM49.4 72.17h0.8v0.8h-0.8zM48.13 69.29h0.8v0.8h-0.8zM44.05 81.82h0.8v0.8h-0.8zM48.29 75.09h0.8v0.8h-0.8zM46.55 66.41h0.8v0.8h-0.8zM47.57 75.29h0.8v0.8h-0.8zM50.83 71.33h0.8v0.8h-0.8zM46.46 81.05h0.8v0.8h-0.8zM46.56 68.58h0.8v0.8h-0.8zM50.67 63.56h0.8v0.8h-0.8zM48.49 73.28h0.8v0.8h-0.8zM50.84 71.54h0.8v0.8h-0.8zM48.83 71.25h0.8v0.8h-0.8zM46.85 64.01h0.8v0.8h-0.8zM48.19 74.79h0.8v0.8h-0.8zM50.32 80.03h0.8v0.8h-0.8zM49.85 64.98h0.8v0.8h-0.8zM48.3 77.92h0.8v0.8h-0.8zM48.38 70.61h0.8v0.8h-0.8zM47.35 74.83h0.8v0.8h-0.8zM51.48 72.21h0.8v0.8h-0.8zM48.31 77.64h0.8v0.8h-0.8zM46.44 75.21h0.8v0.8h-0.8zM47.52 70.51h0.8v0.8h-0.8zM49.49 75.98h0.8v0.8h-0.8zM49.36 70.86h0.8v0.8h-0.8zM48.07 65.49h0.8v0.8h-0.8zM47.2 81.53h0.8v0.8h-0.8zM48.34 71.53h0.8v0.8h-0.8zM45.55 70.44h0.8v0.8h-0.8zM46.16 74.42h0.8v0.8h-0.8zM49.61 66.45h0.8v0.8h-0.8zM47.51 67.31h0.8v0.8h-0.8zM48.92 70.9h0.8v0.8h-0.8zM50.3 70.82h0.8v0.8h-0.8zM49.37 73.3h0.8v0.8h-0.8zM48.33 77.71h0.8v0.8h-0.8zM51.8 71.01h0.8v0.8h-0.8zM49.4 75.07h0.8v0.8h-0.8zM47.72 75.53h0.8v0.8h-0.8zM49.5 68.45h0.8v0.8h-0.8zM48.97 73.96h0.8v0.8h-0.8zM46.89 69.04h0.8v0.8h-0.8zM48.42 77.47h0.8v0.8h-0.8zM48.03 74.91h0.8v0.8h-0.8zM45.07 73.07h0.8v0.8h-0.8zM48.02 67.37h0.8v0.8h-0.8zM47.83 73.49h0.8v0.8h-0.8zM47.58 69.78h0.8v0.8h-0.8zM45.59 75.97h0.8v0.8h-0.8zM47.72 72.5h0.8v0.8h-0.8zM48.23 69.59h0.8v0.8h-0.8zM48.47 76.89h0.8v0.8h-0.8zM46.43 76.03h0.8v0.8h-0.8zM49.34 70.51h0.8v0.8h-0.8zM46.3 77.88h0.8v0.8h-0.8zM47.93 71.75h0.8v0.8h-0.8zM50.45 71.7h0.8v0.8h-0.8zM47.16 73.52h0.8v0.8h-0.8zM47.46 69.84h0.8v0.8h-0.8zM50.07 71.15h0.8v0.8h-0.8zM47.67 72.33h0.8v0.8h-0.8zM47.81 79.43h0.8v0.8h-0.8zM48.66 79.3h0.8v0.8h-0.8zM50.03 71.91h0.8v0.8h-0.8zM44.68 79.76h0.8v0.8h-0.8zM46.94 72.82h0.8v0.8h-0.8zM46.64 74.6h0.8v0.8h-0.8zM46.52 76.71h0.8v0.8h-0.8zM46.9 74.23h0.8v0.8h-0.8zM48.79 74.02h0.8v0.8h-0.8zM46.84 67.97h0.8v0.8h-0.8zM48.5 78.48h0.8v0.8h-0.8zM48.96 71.27h0.8v0.8h-0.8zM47.1 71.72h0.8v0.8h-0.8zM50.98 77.2h0.8v0.8h-0.8zM48.83 76.44h0.8v0.8h-0.8zM47.26 76.36h0.8v0.8h-0.8zM48.19 77.11h0.8v0.8h-0.8zM46.8 80.1h0.8v0.8h-0.8zM48.74 72.81h0.8v0.8h-0.8zM49.71 76.94h0.8v0.8h-0.8zM46.96 69.88h0.8v0.8h-0.8zM47.96 71.51h0.8v0.8h-0.8zM50.12 77.44h0.8v0.8h-0.8zM47.49 74.64h0.8v0.8h-0.8zM48.61 67.4h0.8v0.8h-0.8zM46.63 74.52h0.8v0.8h-0.8zM46.96 72.23h0.8v0.8h-0.8zM47.46 69.56h0.8v0.8h-0.8zM51.78 74.82h0.8v0.8h-0.8zM47.65 71.3h0.8v0.8h-0.8zM47.45 66.4h0.8v0.8h-0.8zM47.4 68.33h0.8v0.8h-0.8zM48.04 80.43h0.8v0.8h-0.8zM49.35 66.64h0.8v0.8h-0.8zM48.6 73.94h0.8v0.8h-0.8zM51.59 75.56h0.8v0.8h-0.8zM48.64 75.68h0.8v0.8h-0.8zM50.62 67.85h0.8v0.8h-0.8zM48.74 71.65h0.8v0.8h-0.8zM49.27 73.59h0.8v0.8h-0.8zM45.99 76.36h0.8v0.8h-0.8zM48.1 70.29h0.8v0.8h-0.8zM48.19 68.11h0.8v0.8h-0.8zM47.91 77.21h0.8v0.8h-0.8zM44.86 77.64h0.8v0.8h-0.8zM49.71 74.55h0.8v0.8h-0.8zM47.68 70.44h0.8v0.8h-0.8zM47.6 74.71h0.8v0.8h-0.8zM47.89 73.46h0.8v0.8h-0.8zM47.94 76.52h0.8v0.8h-0.8zM48.95 67.75h0.8v0.8h-0.8zM46.27 73.49h0.8v0.8h-0.8zM46.81 72.33h0.8v0.8h-0.8zM48.77 68.34h0.8v0.8h-0.8zM48.53 73.91h0.8v0.8h-0.8zM47.7 73.15h0.8v0.8h-0.8zM47.38 71.28h0.8v0.8h-0.8zM46.96 74.66h0.8v0.8h-0.8zM48.21 67.04h0.8v0.8h-0.8zM50.19 72.77h0.8v0.8h-0.8zM46.61 74.81h0.8v0.8h-0.8zM50.74 74.19h0.8v0.8h-0.8zM49.65 77.52h0.8v0.8h-0.8zM47.58 67.96h0.8v0.8h-0.8zM49.55 66.67h0.8v0.8h-0.8zM45.95 74h0.8v0.8h-0.8zM45.53 74.91h0.8v0.8h-0.8zM46.24 81.9h0.8v0.8h-0.8zM47.64 75.59h0.8v0.8h-0.8zM47.78 69.33h0.8v0.8h-0.8zM47.48 76.39h0.8v0.8h-0.8zM48.46 69.45h0.8v0.8h-0.8zM44.88 66.76h0.8v0.8h-0.8zM46.03 74.37h0.8v0.8h-0.8zM47.24 76h0.8v0.8h-0.8zM47.64 75.37h0.8v0.8h-0.8zM46.45 80.61h0.8v0.8h-0.8zM46.11 74.19h0.8v0.8h-0.8zM46.69 78.11h0.8v0.8h-0.8zM48.28 68.69h0.8v0.8h-0.8zM49.24 67.15h0.8v0.8h-0.8zM49.2 78.99h0.8v0.8h-0.8zM46.71 79.19h0.8v0.8h-0.8zM47.03 75.15h0.8v0.8h-0.8zM46.83 73.95h0.8v0.8h-0.8zM49.02 73.7h0.8v0.8h-0.8zM45.04 70.11h0.8v0.8h-0.8zM50.28 79.46h0.8v0.8h-0.8zM47.52 75.77h0.8v0.8h-0.8zM47.05 75.12h0.8v0.8h-0.8zM48.84 74.58h0.8v0.8h-0.8zM49.95 77.4h0.8v0.8h-0.8zM48.85 75.12h0.8v0.8h-0.8zM49.98 76.13h0.8v0.8h-0.8zM48.51 68.09h0.8v0.8h-0.8zM50.27 75.14h0.8v0.8h-0.8zM48.14 70.82h0.8v0.8h-0.8zM50.6 72.46h0.8v0.8h-0.8zM48.56 76.75h0.8v0.8h-0.8zM48.44 77.02h0.8v0.8h-0.8zM46.83 75.62h0.8v0.8h-0.8zM47.84 66.21h0.8v0.8h-0.8zM49.54 75.11h0.8v0.8h-0.8zM46.2 68.03h0.8v0.8h-0.8zM49.34 69.54h0.8v0.8h-0.8zM48.86 75.3h0.8v0.8h-0.8zM48.74 71.76h0.8v0.8h-0.8zM44.77 76.4h0.8v0.8h-0.8zM49.34 76.26h0.8v0.8h-0.8zM47.08 76.04h0.8v0.8h-0.8zM48.44 69.24h0.8v0.8h-0.8zM44.5 70.3h0.8v0.8h-0.8zM49.37 68.53h0.8v0.8h-0.8zM47.24 70.76h0.8v0.8h-0.8zM49.69 68.41h0.8v0.8h-0.8zM45.35 70.23h0.8v0.8h-0.8zM49.41 72.12h0.8v0.8h-0.8zM47.92 68.8h0.8v0.8h-0.8zM49.59 67.04h0.8v0.8h-0.8zM46.82 67.28h0.8v0.8h-0.8zM47.31 74.91h0.8v0.8h-0.8zM51.89 73.25h0.8v0.8h-0.8zM46.97 77.31h0.8v0.8h-0.8zM47.17 77.39h0.8v0.8h-0.8zM47.86 71.57h0.8v0.8h-0.8zM46.66 75.81h0.8v0.8h-0.8zM50.2 66.95h0.8v0.8h-0.8zM47.17 78.02h0.8v0.8h-0.8zM45.54 72.1h0.8v0.8h-0.8zM50.18 68.11h0.8v0.8h-0.8zM50.07 74.6h0.8v0.8h-0.8zM49.61 65.15h0.8v0.8h-0.8zM50.15 69.73h0.8v0.8h-0.8zM46.91 76.14h0.8v0.8h-0.8zM48.03 73.32h0.8v0.8h-0.8zM46.09 70.94h0.8v0.8h-0.8zM46.03 76.99h0.8v0.8h-0.8zM49.87 68.64h0.8v0.8h-0.8zM47.22 74.2h0.8v0.8h-0.8zM51.95 70.91h0.8v0.8h-0.8zM48.42 69.44h0.8v0.8h-0.8zM47.28 74.95h0.8v0.8h-0.8zM49.58 68.83h0.8v0.8h-0.8zM51.18 80.99h0.8v0.8h-0.8zM49.08 70.54h0.8v0.8h-0.8zM46.35 81.36h0.8v0.8h-0.8zM48.89 68.41h0.8v0.8h-0.8zM50.5 75.54h0.8v0.8h-0.8zM47.51 67.96h0.8v0.8h-0.8zM47.06 67.37h0.8v0.8h-0.8zM49.93 73.67h0.8v0.8h-0.8zM48.52 75.85h0.8v0.8h-0.8zM46.54 67.65h0.8v0.8h-0.8zM47.69 77.97h0.8v0.8h-0.8zM47.09 69.65h0.8v0.8h-0.8zM48.77 73.55h0.8v0.8h-0.8zM48.48 74.6h0.8v0.8h-0.8zM50.14 75.5h0.8v0.8h-0.8zM49.44 65.45h0.8v0.8h-0.8zM45.8 79.8h0.8v0.8h-0.8zM48.95 75.36h0.8v0.8h-0.8zM49.74 71.21h0.8v0.8h-0.8zM49.03 68.7h0.8v0.8h-0.8zM49.95 65.88h0.8v0.8h-0.8zM47.42 67.28h0.8v0.8h-0.8zM46.78 75.29h0.8v0.8h-0.8zM49.79 71.57h0.8v0.8h-0.8zM46.6 68.25h0.8v0.8h-0.8zM44.84 70.79h0.8v0.8h-0.8zM49.94 79.57h0.8v0.8h-0.8zM47.14 71.61h0.8v0.8h-0.8zM47.81 70.55h0.8v0.8h-0.8zM46.06 78.67h0.8v0.8h-0.8zM46.18 74.94h0.8v0.8h-0.8zM46.45 73.19h0.8v0.8h-0.8zM47.72 70.45h0.8v0.8h-0.8zM48.89 66.48h0.8v0.8h-0.8zM44.62 68.08h0.8v0.8h-0.8zM49.5 70.98h0.8v0.8h-0.8zM46.41 72.08h0.8v0.8h-0.8zM46.59 74.5h0.8v0.8h-0.8zM49.38 75.32h0.8v0.8h-0.8zM48.18 73.94h0.8v0.8h-0.8zM45.84 73.93h0.8v0.8h-0.8zM51.25 68.77h0.8v0.8h-0.8zM46.92 63.95h0.8v0.8h-0.8zM48.7 70.81h0.8v0.8h-0.8zM48.62 68.99h0.8v0.8h-0.8zM50.56 70.26h0.8v0.8h-0.8zM47.57 71.85h0.8v0.8h-0.8zM49.91 67.78h0.8v0.8h-0.8zM47.11 68.34h0.8v0.8h-0.8zM50.1 72.58h0.8v0.8h-0.8zM47.08 73.49h0.8v0.8h-0.8zM47.72 70.24h0.8v0.8h-0.8zM51.33 75.09h0.8v0.8h-0.8zM48.81 72.08h0.8v0.8h-0.8zM48.48 68.72h0.8v0.8h-0.8zM51.89 73.17h0.8v0.8h-0.8zM48.88 80.91h0.8v0.8h-0.8zM46.99 70.17h0.8v0.8h-0.8zM49.48 77.9h0.8v0.8h-0.8zM46.41 78.79h0.8v0.8h-0.8zM50.11 79.29h0.8v0.8h-0.8zM50.23 69.54h0.8v0.8h-0.8zM47.38 81.46h0.8v0.8h-0.8zM47.3 73.49h0.8v0.8h-0.8zM48.58 71.93h0.8v0.8h-0.8zM48.32 72.03h0.8v0.8h-0.8zM46.74 75.53h0.8v0.8h-0.8zM49.21 73.21h0.8v0.8h-0.8zM45.03 72.26h0.8v0.8h-0.8zM47.61 78.39h0.8v0.8h-0.8zM47.65 69.96h0.8v0.8h-0.8zM47.86 68.62h0.8v0.8h-0.8zM48.79 76.33h0.8v0.8h-0.8zM46.34 75.96h0.8v0.8h-0.8zM49.24 77.59h0.8v0.8h-0.8zM48.01 68.5h0.8v0.8h-0.8zM47.26 77.54h0.8v0.8h-0.8zM46.11 75.02h0.8v0.8h-0.8zM46.41 80.4h0.8v0.8h-0.8zM48.88 67.76h0.8v0.8h-0.8zM46.76 73.92h0.8v0.8h-0.8zM48.4 71.83h0.8v0.8h-0.8zM50 66.32h0.8v0.8h-0.8zM49.95 70h0.8v0.8h-0.8zM50.8 77.73h0.8v0.8h-0.8zM47.83 71.03h0.8v0.8h-0.8zM46.56 69.97h0.8v0.8h-0.8zM49.93 76.65h0.8v0.8h-0.8zM48.8 77.15h0.8v0.8h-0.8zM50.1 77.14h0.8v0.8h-0.8zM48.32 69.68h0.8v0.8h-0.8zM50.21 72.76h0.8v0.8h-0.8zM49.65 77.33h0.8v0.8h-0.8zM49.45 70.24h0.8v0.8h-0.8zM49.11 69.85h0.8v0.8h-0.8zM48.94 76.48h0.8v0.8h-0.8zM48.67 79.56h0.8v0.8h-0.8zM48.66 68.16h0.8v0.8h-0.8zM49.88 62.09h0.8v0.8h-0.8zM47.48 66.91h0.8v0.8h-0.8zM51.08 68.75h0.8v0.8h-0.8zM48.13 72.42h0.8v0.8h-0.8zM49.88 75.59h0.8v0.8h-0.8zM48.16 72.38h0.8v0.8h-0.8zM47.91 70.06h0.8v0.8h-0.8zM51.55 73.64h0.8v0.8h-0.8zM47.81 68.96h0.8v0.8h-0.8zM46.26 72.8h0.8v0.8h-0.8zM47.16 70.31h0.8v0.8h-0.8zM51.75 76.43h0.8v0.8h-0.8zM48.63 69.49h0.8v0.8h-0.8zM49.8 68.81h0.8v0.8h-0.8zM46.7 71.16h0.8v0.8h-0.8zM48.86 66.09h0.8v0.8h-0.8zM49.37 69.93h0.8v0.8h-0.8zM51.18 69.9h0.8v0.8h-0.8zM47.19 76.71h0.8v0.8h-0.8zM49.27 71.21h0.8v0.8h-0.8zM48.78 69.68h0.8v0.8h-0.8zM46.67 67.37h0.8v0.8h-0.8zM48.27 68.06h0.8v0.8h-0.8zM47.88 72.72h0.8v0.8h-0.8zM44.58 72.1h0.8v0.8h-0.8zM49.26 77.76h0.8v0.8h-0.8zM49.16 70.36h0.8v0.8h-0.8zM47.6 77.45h0.8v0.8h-0.8zM46.16 74.08h0.8v0.8h-0.8zM50.67 72.98h0.8v0.8h-0.8zM48.73 64.57h0.8v0.8h-0.8zM49.93 67.58h0.8v0.8h-0.8zM50.56 76.11h0.8v0.8h-0.8zM47.47 78.87h0.8v0.8h-0.8zM49.6 73.87h0.8v0.8h-0.8zM47.91 76.2h0.8v0.8h-0.8zM48.2 71.29h0.8v0.8h-0.8zM48.16 71.44h0.8v0.8h-0.8zM48.3 70.22h0.8v0.8h-0.8zM50.08 77.09h0.8v0.8h-0.8zM48.5 74.44h0.8v0.8h-0.8zM48.05 72.02h0.8v0.8h-0.8zM47.86 71.62h0.8v0.8h-0.8zM48.85 75.34h0.8v0.8h-0.8zM46.87 74.36h0.8v0.8h-0.8zM47.5 69.51h0.8v0.8h-0.8zM48.22 80.21h0.8v0.8h-0.8zM47.39 74.08h0.8v0.8h-0.8zM48.11 73.04h0.8v0.8h-0.8zM47.32 79.2h0.8v0.8h-0.8zM51.51 77.3h0.8v0.8h-0.8zM50.43 72.63h0.8v0.8h-0.8zM49.02 75.25h0.8v0.8h-0.8zM48.21 68.51h0.8v0.8h-0.8zM51.81 70.31h0.8v0.8h-0.8zM48.82 63.51h0.8v0.8h-0.8zM48.16 78.13h0.8v0.8h-0.8zM48.79 65.03h0.8v0.8h-0.8zM48.79 75.86h0.8v0.8h-0.8zM50.56 69.51h0.8v0.8h-0.8zM48.27 68.89h0.8v0.8h-0.8zM51.66 72.18h0.8v0.8h-0.8zM46.89 74.12h0.8v0.8h-0.8zM49.41 75.57h0.8v0.8h-0.8zM46.7 80.44h0.8v0.8h-0.8zM51.21 74.51h0.8v0.8h-0.8zM47.77 76.7h0.8v0.8h-0.8zM48.21 70.49h0.8v0.8h-0.8zM49.78 76h0.8v0.8h-0.8zM50.31 73.64h0.8v0.8h-0.8zM46.52 71.05h0.8v0.8h-0.8zM47.75 72.6h0.8v0.8h-0.8zM46.07 72.74h0.8v0.8h-0.8zM48.52 73.8h0.8v0.8h-0.8zM48.14 74.69h0.8v0.8h-0.8zM47.74 70.86h0.8v0.8h-0.8zM47.2 69.89h0.8v0.8h-0.8zM47.68 76.14h0.8v0.8h-0.8zM47.11 65.87h0.8v0.8h-0.8zM49.15 70.4h0.8v0.8h-0.8zM50.73 79.52h0.8v0.8h-0.8zM48.11 70.09h0.8v0.8h-0.8zM47.63 75.89h0.8v0.8h-0.8zM49.09 66.07h0.8v0.8h-0.8zM48.07 62.13h0.8v0.8h-0.8zM46.64 79.03h0.8v0.8h-0.8zM49.41 79.54h0.8v0.8h-0.8zM48.46 76.85h0.8v0.8h-0.8zM48.04 72.07h0.8v0.8h-0.8zM48.89 74.5h0.8v0.8h-0.8zM47.91 69.23h0.8v0.8h-0.8zM45.81 76.4h0.8v0.8h-0.8zM49.25 68.3h0.8v0.8h-0.8zM48.76 71.85h0.8v0.8h-0.8zM48.05 77.18h0.8v0.8h-0.8zM49.88 68.32h0.8v0.8h-0.8zM50.25 71.47h0.8v0.8h-0.8zM46.55 73.69h0.8v0.8h-0.8zM47.05 67.36h0.8v0.8h-0.8zM50.78 77.89h0.8v0.8h-0.8zM50.57 74.43h0.8v0.8h-0.8zM47.12 66.63h0.8v0.8h-0.8zM46.41 72.8h0.8v0.8h-0.8zM47.28 69.74h0.8v0.8h-0.8zM47.5 70.24h0.8v0.8h-0.8zM45.77 73.32h0.8v0.8h-0.8zM48.35 70.02h0.8v0.8h-0.8zM46.25 77.05h0.8v0.8h-0.8zM46.36 70.04h0.8v0.8h-0.8zM49.77 77.12h0.8v0.8h-0.8zM47.21 72.82h0.8v0.8h-0.8zM48.19 76.59h0.8v0.8h-0.8zM49.31 70.73h0.8v0.8h-0.8zM49.6 70.88h0.8v0.8h-0.8zM47.76 68.16h0.8v0.8h-0.8zM48.37 75.43h0.8v0.8h-0.8zM46.98 76.94h0.8v0.8h-0.8zM51.1 81.9h0.8v0.8h-0.8zM49.34 78.42h0.8v0.8h-0.8zM46.53 74.05h0.8v0.8h-0.8zM48.31 72.11h0.8v0.8h-0.8zM49.44 74.63h0.8v0.8h-0.8zM49.07 72.88h0.8v0.8h-0.8zM51.23 79.15h0.8v0.8h-0.8zM50.5 76.96h0.8v0.8h-0.8zM47.44 69.49h0.8v0.8h-0.8zM48.16 70.11h0.8v0.8h-0.8zM46.25 78.74h0.8v0.8h-0.8zM48.7 74.29h0.8v0.8h-0.8zM48.54 72.03h0.8v0.8h-0.8zM52.63 77.98h0.8v0.8h-0.8z" fill="#111"/>
<rect x="35.7" y="25.7" width="20.7" height="31.3" fill="none" stroke="#444" stroke-width="0.8"/>
<rect x="36.3" y="75.2" width="20" height="8.7" fill="none" stroke="#666" stroke-width="0.8"/>
<text x="30.5" y="40" font-size="3.2" fill="#777" stroke="#777" stroke-width="0.2">R3</text>
<text x="30" y="80.5" font-size="3.2" fill="#777" stroke="#777" stroke-width="0.2">R4</text>
<text x="58.4" y="44.1" font-size="5.9" font-weight="bold" stroke="#000" stroke-width="0.32" textLength="23.2" lengthAdjust="spacingAndGlyphs">G1 ~10%</text>
<text x="57.3" y="82" font-size="5.9" font-weight="bold" stroke="#000" stroke-width="0.32" textLength="23.6" lengthAdjust="spacingAndGlyphs">G0 ~15%</text>
<line x1="19.4" y1="93.6" x2="19.4" y2="35.8" stroke="#000" stroke-width="2.2"/>
<path d="M19.4 28.8L16.9 36.8L21.9 36.8z" fill="#000"/>
<line x1="18.3" y1="92.6" x2="85.4" y2="92.6" stroke="#000" stroke-width="2.2"/>
<path d="M93.2 92.6L84.4 90.1L84.4 95.1z" fill="#000"/>
<text x="16.8" y="75.6" font-size="7.6" font-weight="bold" stroke="#000" stroke-width="0.32" textLength="32.3" lengthAdjust="spacingAndGlyphs" transform="rotate(-90 16.8 75.6)">Pyronin Y</text>
<text x="29.7" y="101.5" font-size="8" font-weight="bold" stroke="#000" stroke-width="0.32" textLength="51.8" lengthAdjust="spacingAndGlyphs">Hoechst 33342</text>
<text x="100.1" y="8.5" font-size="10.8" stroke="#111" stroke-width="0.45">B</text>
<line x1="126.8" y1="94" x2="166.3" y2="94" stroke="#8c8c8c" stroke-width="0.8"/>
<text x="124.2" y="96" font-size="5.8" font-weight="bold" fill="#222" stroke="#222" stroke-width="0.32" text-anchor="end">0</text>
<line x1="126.8" y1="82.1" x2="166.3" y2="82.1" stroke="#8c8c8c" stroke-width="0.8"/>
<text x="124.2" y="84.1" font-size="5.8" font-weight="bold" fill="#222" stroke="#222" stroke-width="0.32" text-anchor="end">0.2</text>
<line x1="126.8" y1="70.2" x2="166.3" y2="70.2" stroke="#8c8c8c" stroke-width="0.8"/>
<text x="124.2" y="72.2" font-size="5.8" font-weight="bold" fill="#222" stroke="#222" stroke-width="0.32" text-anchor="end">0.4</text>
<line x1="126.8" y1="58.3" x2="166.3" y2="58.3" stroke="#8c8c8c" stroke-width="0.8"/>
<text x="124.2" y="60.3" font-size="5.8" font-weight="bold" fill="#222" stroke="#222" stroke-width="0.32" text-anchor="end">0.6</text>
<line x1="126.8" y1="46.4" x2="166.3" y2="46.4" stroke="#8c8c8c" stroke-width="0.8"/>
<text x="124.2" y="48.4" font-size="5.8" font-weight="bold" fill="#222" stroke="#222" stroke-width="0.32" text-anchor="end">0.8</text>
<line x1="126.8" y1="34.5" x2="166.3" y2="34.5" stroke="#8c8c8c" stroke-width="0.8"/>
<text x="124.2" y="36.5" font-size="5.8" font-weight="bold" fill="#222" stroke="#222" stroke-width="0.32" text-anchor="end">1</text>
<line x1="126.8" y1="22.6" x2="166.3" y2="22.6" stroke="#8c8c8c" stroke-width="0.8"/>
<text x="124.2" y="24.6" font-size="5.8" font-weight="bold" fill="#222" stroke="#222" stroke-width="0.32" text-anchor="end">1.2</text>
<line x1="128.3" y1="22.5" x2="128.3" y2="94" stroke="#999" stroke-width="0.8"/>
<line x1="166.3" y1="22.5" x2="166.3" y2="94" stroke="#aaa" stroke-width="0.7"/>
<rect x="134.1" y="34.5" width="9" height="59.5" fill="#6e6e6e" stroke="#333" stroke-width="0.5"/>
<line x1="135" y1="34.2" x2="142.5" y2="34.2" stroke="#000" stroke-width="1"/>
<rect x="153.4" y="68.41" width="7.9" height="25.59" fill="#111"/>
<line x1="157.35" y1="68.41" x2="157.35" y2="60.68" stroke="#000" stroke-width="1.7"/>
<rect x="155.05" y="60.38" width="4.6" height="2.2" fill="#000" rx="0.6"/>
<text x="139.2" y="101.8" font-size="6" font-weight="bold" stroke="#000" stroke-width="0.32" textLength="7" lengthAdjust="spacingAndGlyphs" text-anchor="middle">G0</text>
<text x="157.6" y="101.8" font-size="6" font-weight="bold" stroke="#000" stroke-width="0.32" textLength="6.5" lengthAdjust="spacingAndGlyphs" text-anchor="middle">G1</text>
<text x="113.9" y="84.8" font-size="6.2" font-weight="bold" fill="#333" stroke="#333" stroke-width="0.32" textLength="54.5" lengthAdjust="spacingAndGlyphs" transform="rotate(-90 113.9 84.8)">GATA-2 expression</text>
<text x="183.4" y="8.5" font-size="10.8" stroke="#111" stroke-width="0.45">C</text>
<text x="199.5" y="14.6" font-size="8.6" font-weight="bold" stroke="#000" stroke-width="0.32">i</text>
<rect x="206.3" y="21.3" width="74.3" height="74.4" fill="none" stroke="#9a9a9a" stroke-width="0.6"/>
<line x1="205.1" y1="95.7" x2="206.3" y2="95.7" stroke="#aaa" stroke-width="0.5"/>
<rect x="202.1" y="95.2" width="2.4" height="1" fill="#c8c8c8"/>
<line x1="205.1" y1="77.1" x2="206.3" y2="77.1" stroke="#aaa" stroke-width="0.5"/>
<rect x="202.1" y="76.6" width="2.4" height="1" fill="#c8c8c8"/>
<line x1="205.1" y1="58.5" x2="206.3" y2="58.5" stroke="#aaa" stroke-width="0.5"/>
<rect x="202.1" y="58" width="2.4" height="1" fill="#c8c8c8"/>
<line x1="205.1" y1="39.9" x2="206.3" y2="39.9" stroke="#aaa" stroke-width="0.5"/>
<rect x="202.1" y="39.4" width="2.4" height="1" fill="#c8c8c8"/>
<line x1="205.1" y1="21.3" x2="206.3" y2="21.3" stroke="#aaa" stroke-width="0.5"/>
<rect x="202.1" y="20.8" width="2.4" height="1" fill="#c8c8c8"/>
<line x1="206.3" y1="95.7" x2="206.3" y2="96.9" stroke="#aaa" stroke-width="0.5"/>
<rect x="205.3" y="97.7" width="2" height="1" fill="#c8c8c8"/>
<line x1="224.88" y1="95.7" x2="224.88" y2="96.9" stroke="#aaa" stroke-width="0.5"/>
<rect x="223.88" y="97.7" width="2" height="1" fill="#c8c8c8"/>
<line x1="243.45" y1="95.7" x2="243.45" y2="96.9" stroke="#aaa" stroke-width="0.5"/>
<rect x="242.45" y="97.7" width="2" height="1" fill="#c8c8c8"/>
<line x1="262.03" y1="95.7" x2="262.03" y2="96.9" stroke="#aaa" stroke-width="0.5"/>
<rect x="261.03" y="97.7" width="2" height="1" fill="#c8c8c8"/>
<line x1="280.6" y1="95.7" x2="280.6" y2="96.9" stroke="#aaa" stroke-width="0.5"/>
<rect x="279.6" y="97.7" width="2" height="1" fill="#c8c8c8"/>
<path d="M253.65 28.05h0.8v0.8h-0.8zM238.1 27.91h0.8v0.8h-0.8zM246.37 35.65h0.8v0.8h-0.8zM254.59 31.29h0.8v0.8h-0.8zM243.86 32.42h0.8v0.8h-0.8zM243.49 25.25h0.8v0.8h-0.8zM228.13 26.96h0.8v0.8h-0.8zM243.9 34.41h0.8v0.8h-0.8zM233.23 24.56h0.8v0.8h-0.8zM241.51 44.84h0.8v0.8h-0.8zM241.76 43.35h0.8v0.8h-0.8zM240.04 44.58h0.8v0.8h-0.8zM243.17 40.02h0.8v0.8h-0.8zM243.69 44.63h0.8v0.8h-0.8zM234.56 45.37h0.8v0.8h-0.8zM243.51 42.4h0.8v0.8h-0.8zM241.45 41.76h0.8v0.8h-0.8zM241.27 43.76h0.8v0.8h-0.8zM235.04 45.57h0.8v0.8h-0.8zM246.43 44.65h0.8v0.8h-0.8zM240.46 45.45h0.8v0.8h-0.8zM234.11 45.77h0.8v0.8h-0.8zM240.82 46.86h0.8v0.8h-0.8zM238.12 45.37h0.8v0.8h-0.8zM232.5 44.79h0.8v0.8h-0.8zM230.8 44.85h0.8v0.8h-0.8zM240.53 46.13h0.8v0.8h-0.8zM239.32 42.5h0.8v0.8h-0.8zM238.55 43.23h0.8v0.8h-0.8zM240.58 45.16h0.8v0.8h-0.8zM241.78 43.25h0.8v0.8h-0.8zM231.51 43.75h0.8v0.8h-0.8zM238.36 42.59h0.8v0.8h-0.8zM236.35 43.98h0.8v0.8h-0.8zM234.81 45.35h0.8v0.8h-0.8zM237.42 46.49h0.8v0.8h-0.8zM239.03 44.52h0.8v0.8h-0.8zM233.97 44.35h0.8v0.8h-0.8zM247.16 46.5h0.8v0.8h-0.8zM235.49 45.49h0.8v0.8h-0.8zM233.09 43.5h0.8v0.8h-0.8zM241.77 44.19h0.8v0.8h-0.8zM241.26 44.86h0.8v0.8h-0.8zM243.29 41.74h0.8v0.8h-0.8zM235.19 44h0.8v0.8h-0.8zM237.19 45.95h0.8v0.8h-0.8zM242.21 44.78h0.8v0.8h-0.8zM241.87 43.81h0.8v0.8h-0.8zM239.41 45.86h0.8v0.8h-0.8zM243.05 44.68h0.8v0.8h-0.8zM239.81 42.22h0.8v0.8h-0.8zM242.9 46.39h0.8v0.8h-0.8zM234.17 45.89h0.8v0.8h-0.8zM233.52 45.69h0.8v0.8h-0.8zM242.45 46.52h0.8v0.8h-0.8zM234.22 46.7h0.8v0.8h-0.8zM238.35 44.46h0.8v0.8h-0.8zM239.13 41.78h0.8v0.8h-0.8zM237.65 41.73h0.8v0.8h-0.8zM244.79 45.92h0.8v0.8h-0.8zM229.89 44.7h0.8v0.8h-0.8zM242.86 43.63h0.8v0.8h-0.8zM248.22 44.56h0.8v0.8h-0.8zM239.59 44.55h0.8v0.8h-0.8zM239.43 43.83h0.8v0.8h-0.8zM242.26 43.1h0.8v0.8h-0.8zM234.99 44.96h0.8v0.8h-0.8zM239.83 43.29h0.8v0.8h-0.8zM238.79 41.9h0.8v0.8h-0.8zM241.63 43.05h0.8v0.8h-0.8zM240.1 45.94h0.8v0.8h-0.8zM242.01 46.02h0.8v0.8h-0.8zM237.9 44.06h0.8v0.8h-0.8zM239.69 44.6h0.8v0.8h-0.8zM236.95 43.89h0.8v0.8h-0.8zM236.98 42.28h0.8v0.8h-0.8zM238.96 45.25h0.8v0.8h-0.8zM245.47 42.99h0.8v0.8h-0.8zM238.99 44.22h0.8v0.8h-0.8zM234.24 46.27h0.8v0.8h-0.8zM243.69 44.01h0.8v0.8h-0.8zM236.66 41.72h0.8v0.8h-0.8zM241.43 42.6h0.8v0.8h-0.8zM239.44 44.7h0.8v0.8h-0.8zM240.45 45.19h0.8v0.8h-0.8z" fill="#555"/>
<path d="M238.66 53.62h0.8v0.8h-0.8zM242.61 49.2h0.8v0.8h-0.8zM242.57 61.73h0.8v0.8h-0.8zM240.16 57.11h0.8v0.8h-0.8zM239.1 58.07h0.8v0.8h-0.8zM238.09 47.02h0.8v0.8h-0.8zM240.98 48.05h0.8v0.8h-0.8zM242.31 57.86h0.8v0.8h-0.8zM239.22 52.13h0.8v0.8h-0.8zM240.62 51.84h0.8v0.8h-0.8zM237.83 54.5h0.8v0.8h-0.8zM233.92 47.35h0.8v0.8h-0.8zM235.4 56.48h0.8v0.8h-0.8zM241.76 53.08h0.8v0.8h-0.8zM240.61 55.16h0.8v0.8h-0.8zM244.72 49.98h0.8v0.8h-0.8zM239.2 55.31h0.8v0.8h-0.8zM242.11 49.83h0.8v0.8h-0.8zM243.76 57.29h0.8v0.8h-0.8zM242.58 58.08h0.8v0.8h-0.8zM236.81 57.1h0.8v0.8h-0.8zM238.34 55.32h0.8v0.8h-0.8zM239.47 55.85h0.8v0.8h-0.8zM240.71 56.76h0.8v0.8h-0.8zM242.69 51.77h0.8v0.8h-0.8zM237.27 53.43h0.8v0.8h-0.8zM246.1 51.72h0.8v0.8h-0.8zM237.95 46.74h0.8v0.8h-0.8zM238.27 50.58h0.8v0.8h-0.8zM238.14 55.96h0.8v0.8h-0.8zM236.45 59.38h0.8v0.8h-0.8zM240.5 50.2h0.8v0.8h-0.8zM239.07 48.93h0.8v0.8h-0.8zM244.98 59.53h0.8v0.8h-0.8zM241.19 49.03h0.8v0.8h-0.8zM238.2 53.23h0.8v0.8h-0.8zM233.91 49.02h0.8v0.8h-0.8zM238.68 57.43h0.8v0.8h-0.8zM235.94 60.62h0.8v0.8h-0.8zM242.43 46.54h0.8v0.8h-0.8zM238.89 60.02h0.8v0.8h-0.8zM245 51.73h0.8v0.8h-0.8zM241.65 59.69h0.8v0.8h-0.8zM242.01 51.29h0.8v0.8h-0.8zM239.75 55.26h0.8v0.8h-0.8zM241.35 57.17h0.8v0.8h-0.8zM236.44 60.76h0.8v0.8h-0.8zM240.77 56.13h0.8v0.8h-0.8zM248.44 51.93h0.8v0.8h-0.8zM238.68 50.66h0.8v0.8h-0.8zM238.08 51.67h0.8v0.8h-0.8zM236.51 49.26h0.8v0.8h-0.8zM233.79 51.76h0.8v0.8h-0.8zM239.22 53.8h0.8v0.8h-0.8zM240.08 52.87h0.8v0.8h-0.8zM248.03 56.41h0.8v0.8h-0.8zM235.8 50.84h0.8v0.8h-0.8zM242.8 55.54h0.8v0.8h-0.8zM241.25 47.48h0.8v0.8h-0.8zM240.44 50.29h0.8v0.8h-0.8zM238.92 59.46h0.8v0.8h-0.8zM244.73 55.67h0.8v0.8h-0.8zM241.22 47.71h0.8v0.8h-0.8zM240.25 52.73h0.8v0.8h-0.8zM243.5 57.27h0.8v0.8h-0.8zM242.24 55.23h0.8v0.8h-0.8zM240.67 54.72h0.8v0.8h-0.8zM240.19 49.14h0.8v0.8h-0.8zM245.33 50.13h0.8v0.8h-0.8zM240.84 53.43h0.8v0.8h-0.8zM238.69 57.14h0.8v0.8h-0.8zM235.92 49.27h0.8v0.8h-0.8zM237.77 47.95h0.8v0.8h-0.8zM235.23 58.15h0.8v0.8h-0.8zM239.4 48.81h0.8v0.8h-0.8zM239.94 57.85h0.8v0.8h-0.8zM231.63 54.09h0.8v0.8h-0.8zM239.08 56.96h0.8v0.8h-0.8zM241.35 60.85h0.8v0.8h-0.8zM239.61 56.1h0.8v0.8h-0.8zM235.57 56.49h0.8v0.8h-0.8zM243.58 48.87h0.8v0.8h-0.8zM236.5 49.87h0.8v0.8h-0.8zM234.59 55.9h0.8v0.8h-0.8zM235.12 59.9h0.8v0.8h-0.8zM238.96 59.26h0.8v0.8h-0.8zM243.2 54.4h0.8v0.8h-0.8zM239.76 53.91h0.8v0.8h-0.8zM234.71 57.53h0.8v0.8h-0.8zM236.64 53.09h0.8v0.8h-0.8zM235.78 52.72h0.8v0.8h-0.8zM238.36 48.29h0.8v0.8h-0.8zM232.62 57.46h0.8v0.8h-0.8zM239.41 48.18h0.8v0.8h-0.8zM241.33 55.31h0.8v0.8h-0.8zM238.47 46.61h0.8v0.8h-0.8zM240.66 57.93h0.8v0.8h-0.8zM235.63 48.37h0.8v0.8h-0.8zM233.77 56.8h0.8v0.8h-0.8zM243.17 51.02h0.8v0.8h-0.8zM242.71 58.3h0.8v0.8h-0.8zM237.36 49.38h0.8v0.8h-0.8zM243.34 53.3h0.8v0.8h-0.8zM237.83 50.85h0.8v0.8h-0.8zM240.74 54.39h0.8v0.8h-0.8zM237.38 54.95h0.8v0.8h-0.8zM241.87 48.02h0.8v0.8h-0.8zM236.21 55.58h0.8v0.8h-0.8zM235.63 49.42h0.8v0.8h-0.8zM233.78 48.48h0.8v0.8h-0.8zM239.93 53.03h0.8v0.8h-0.8zM238.81 49.93h0.8v0.8h-0.8zM244.18 56.32h0.8v0.8h-0.8zM237.48 57.45h0.8v0.8h-0.8zM244.12 55.53h0.8v0.8h-0.8zM240.22 50.83h0.8v0.8h-0.8zM232.74 54.73h0.8v0.8h-0.8zM236.84 58.13h0.8v0.8h-0.8zM241.21 51.33h0.8v0.8h-0.8zM239.06 48.21h0.8v0.8h-0.8zM234.08 53.92h0.8v0.8h-0.8zM241.44 48.82h0.8v0.8h-0.8zM236.74 54.41h0.8v0.8h-0.8zM243.76 54.04h0.8v0.8h-0.8zM238.73 46.77h0.8v0.8h-0.8zM242.71 60.76h0.8v0.8h-0.8zM236.67 57.87h0.8v0.8h-0.8zM233.93 56.82h0.8v0.8h-0.8zM235 47.67h0.8v0.8h-0.8zM236.82 51.17h0.8v0.8h-0.8zM235.31 50.54h0.8v0.8h-0.8zM243.32 51.13h0.8v0.8h-0.8zM243.82 47.94h0.8v0.8h-0.8zM239.98 54.96h0.8v0.8h-0.8zM235.28 54.03h0.8v0.8h-0.8zM238.57 54.64h0.8v0.8h-0.8zM236.53 50.72h0.8v0.8h-0.8zM244.23 58.81h0.8v0.8h-0.8zM240.14 53.84h0.8v0.8h-0.8zM237.56 50.12h0.8v0.8h-0.8zM231.76 52.74h0.8v0.8h-0.8zM236.22 57.34h0.8v0.8h-0.8zM234.98 51.65h0.8v0.8h-0.8zM240.33 51.87h0.8v0.8h-0.8zM239.35 50.02h0.8v0.8h-0.8zM236.11 55.99h0.8v0.8h-0.8zM237.6 50.99h0.8v0.8h-0.8zM244.64 50.28h0.8v0.8h-0.8zM235.55 49.66h0.8v0.8h-0.8zM235.7 55.5h0.8v0.8h-0.8zM238.18 50.6h0.8v0.8h-0.8zM237.46 55.8h0.8v0.8h-0.8zM240.91 49.84h0.8v0.8h-0.8zM245.24 54.61h0.8v0.8h-0.8zM232.59 54.68h0.8v0.8h-0.8zM238.93 58.42h0.8v0.8h-0.8zM239.15 57.7h0.8v0.8h-0.8zM238.7 50.41h0.8v0.8h-0.8zM238.33 52.25h0.8v0.8h-0.8zM237.77 47.19h0.8v0.8h-0.8zM242.62 60.55h0.8v0.8h-0.8zM237.33 54.99h0.8v0.8h-0.8zM238.54 59.27h0.8v0.8h-0.8zM239 51.56h0.8v0.8h-0.8zM238.38 59.89h0.8v0.8h-0.8zM242.6 53.42h0.8v0.8h-0.8zM238.97 53.6h0.8v0.8h-0.8zM239.63 53.25h0.8v0.8h-0.8zM238.81 55.9h0.8v0.8h-0.8zM235.39 55.4h0.8v0.8h-0.8zM235.22 57.89h0.8v0.8h-0.8zM239.69 50.62h0.8v0.8h-0.8zM236.43 50.9h0.8v0.8h-0.8zM235.18 60.77h0.8v0.8h-0.8zM239.86 57.14h0.8v0.8h-0.8zM240.89 51.48h0.8v0.8h-0.8zM245.08 53.73h0.8v0.8h-0.8zM239.12 55.42h0.8v0.8h-0.8zM238.62 52.64h0.8v0.8h-0.8zM242.84 47.39h0.8v0.8h-0.8zM239.25 49.44h0.8v0.8h-0.8zM236.83 47.35h0.8v0.8h-0.8zM246.9 53.97h0.8v0.8h-0.8zM235.13 56.69h0.8v0.8h-0.8zM238.65 57.61h0.8v0.8h-0.8zM242.05 49.7h0.8v0.8h-0.8zM235.15 54.06h0.8v0.8h-0.8zM238.63 55.49h0.8v0.8h-0.8zM240.39 50.7h0.8v0.8h-0.8zM247.65 52.33h0.8v0.8h-0.8zM238.83 53.92h0.8v0.8h-0.8zM241.37 56.97h0.8v0.8h-0.8zM239.29 51.04h0.8v0.8h-0.8zM234.67 53.19h0.8v0.8h-0.8zM239.39 52.89h0.8v0.8h-0.8zM240.6 58.37h0.8v0.8h-0.8zM242.65 58.38h0.8v0.8h-0.8zM240.47 56.09h0.8v0.8h-0.8zM240.12 53.24h0.8v0.8h-0.8zM235.05 50.3h0.8v0.8h-0.8zM238.52 52.28h0.8v0.8h-0.8zM239.79 55.76h0.8v0.8h-0.8zM237.56 49.47h0.8v0.8h-0.8zM239.35 57.2h0.8v0.8h-0.8zM236.03 48.57h0.8v0.8h-0.8zM246.75 48.45h0.8v0.8h-0.8zM240.44 46.82h0.8v0.8h-0.8zM238.16 58.09h0.8v0.8h-0.8zM243.55 52.1h0.8v0.8h-0.8zM240.57 53.98h0.8v0.8h-0.8zM239.28 58.21h0.8v0.8h-0.8zM238.19 58.67h0.8v0.8h-0.8zM239.45 50.73h0.8v0.8h-0.8zM235.4 58.98h0.8v0.8h-0.8zM241.43 54.73h0.8v0.8h-0.8zM236.43 53.01h0.8v0.8h-0.8zM240.93 54.99h0.8v0.8h-0.8zM239.47 46.58h0.8v0.8h-0.8zM242.94 49.46h0.8v0.8h-0.8zM238.94 52.51h0.8v0.8h-0.8zM242.68 55.74h0.8v0.8h-0.8zM235.68 51.33h0.8v0.8h-0.8zM241.19 52.43h0.8v0.8h-0.8zM238.19 57.36h0.8v0.8h-0.8zM239.7 59.35h0.8v0.8h-0.8zM239.26 56.45h0.8v0.8h-0.8zM242.37 58.71h0.8v0.8h-0.8zM231.73 51.18h0.8v0.8h-0.8zM240.16 51.62h0.8v0.8h-0.8zM233.62 54.43h0.8v0.8h-0.8zM243.34 51.65h0.8v0.8h-0.8zM231.9 50.72h0.8v0.8h-0.8zM235.39 60.43h0.8v0.8h-0.8zM232.97 52.09h0.8v0.8h-0.8zM244.9 48.65h0.8v0.8h-0.8zM234.36 55.19h0.8v0.8h-0.8zM239.41 61.26h0.8v0.8h-0.8zM237.07 53.36h0.8v0.8h-0.8zM232.52 58.54h0.8v0.8h-0.8zM237.79 51.03h0.8v0.8h-0.8zM241.39 50.79h0.8v0.8h-0.8zM238.34 49.9h0.8v0.8h-0.8zM242.39 52.35h0.8v0.8h-0.8zM237.7 61.26h0.8v0.8h-0.8zM239.02 47.8h0.8v0.8h-0.8zM237.61 60.37h0.8v0.8h-0.8zM240.24 48.46h0.8v0.8h-0.8zM245.84 51.95h0.8v0.8h-0.8zM240.3 56.76h0.8v0.8h-0.8zM239.7 55.84h0.8v0.8h-0.8zM236.77 54.27h0.8v0.8h-0.8zM244.27 54.63h0.8v0.8h-0.8zM235 48.4h0.8v0.8h-0.8zM238.65 52.04h0.8v0.8h-0.8zM237.47 53.85h0.8v0.8h-0.8zM246.04 47.84h0.8v0.8h-0.8zM230.48 50.85h0.8v0.8h-0.8zM240.3 47.19h0.8v0.8h-0.8zM241.57 57.42h0.8v0.8h-0.8zM234.97 51.82h0.8v0.8h-0.8zM236.68 55.53h0.8v0.8h-0.8zM240.56 49.92h0.8v0.8h-0.8zM244.87 50.74h0.8v0.8h-0.8zM235.69 58.8h0.8v0.8h-0.8zM233.31 48.63h0.8v0.8h-0.8zM244.49 54.83h0.8v0.8h-0.8zM237.79 47.86h0.8v0.8h-0.8zM231.03 51.02h0.8v0.8h-0.8zM244.23 57.1h0.8v0.8h-0.8zM238.29 49.32h0.8v0.8h-0.8zM243.05 56.95h0.8v0.8h-0.8zM238.84 49.93h0.8v0.8h-0.8zM237.65 59.71h0.8v0.8h-0.8zM237.37 58.96h0.8v0.8h-0.8zM244.3 50.88h0.8v0.8h-0.8zM244.16 52.04h0.8v0.8h-0.8zM231.3 49.26h0.8v0.8h-0.8zM235.63 53.9h0.8v0.8h-0.8zM245.4 58.17h0.8v0.8h-0.8zM234.1 57.13h0.8v0.8h-0.8zM239.02 47.04h0.8v0.8h-0.8zM238.61 49.13h0.8v0.8h-0.8zM237.88 53.26h0.8v0.8h-0.8zM237.36 54.1h0.8v0.8h-0.8zM240.2 49.96h0.8v0.8h-0.8zM236.07 57.8h0.8v0.8h-0.8zM238.48 53.12h0.8v0.8h-0.8zM240.34 51.28h0.8v0.8h-0.8zM238.61 53.08h0.8v0.8h-0.8zM240.93 56.03h0.8v0.8h-0.8zM240.46 49.35h0.8v0.8h-0.8zM242.92 53.1h0.8v0.8h-0.8zM240.82 57.32h0.8v0.8h-0.8zM245.46 53.87h0.8v0.8h-0.8zM243.84 54.67h0.8v0.8h-0.8zM238.85 51.43h0.8v0.8h-0.8zM237.51 54.42h0.8v0.8h-0.8zM242.18 53.25h0.8v0.8h-0.8zM240.86 59.55h0.8v0.8h-0.8zM238.66 56.26h0.8v0.8h-0.8zM233.68 51.9h0.8v0.8h-0.8zM240.25 56.22h0.8v0.8h-0.8zM241.78 56.4h0.8v0.8h-0.8zM241.89 48.87h0.8v0.8h-0.8zM242.73 47.86h0.8v0.8h-0.8zM237.08 57.17h0.8v0.8h-0.8zM240.4 48.21h0.8v0.8h-0.8zM240.5 50.93h0.8v0.8h-0.8zM236.11 53.99h0.8v0.8h-0.8zM236.87 58.51h0.8v0.8h-0.8zM231.54 52.92h0.8v0.8h-0.8zM235.7 52.55h0.8v0.8h-0.8zM232.51 50.53h0.8v0.8h-0.8zM240.57 60.34h0.8v0.8h-0.8zM239.22 57.8h0.8v0.8h-0.8zM242.29 52.57h0.8v0.8h-0.8zM240.28 46.72h0.8v0.8h-0.8zM236.71 49.44h0.8v0.8h-0.8zM240.25 55.61h0.8v0.8h-0.8zM237.59 49.75h0.8v0.8h-0.8zM241.19 57.02h0.8v0.8h-0.8zM240.14 54.63h0.8v0.8h-0.8zM235.44 54.32h0.8v0.8h-0.8zM239.01 55.94h0.8v0.8h-0.8zM239.2 55.24h0.8v0.8h-0.8zM237.89 49.15h0.8v0.8h-0.8zM242.22 51.53h0.8v0.8h-0.8zM237.68 47.56h0.8v0.8h-0.8zM237.74 50.86h0.8v0.8h-0.8zM230.91 57.8h0.8v0.8h-0.8zM238.54 52.28h0.8v0.8h-0.8zM237.43 49.35h0.8v0.8h-0.8zM231.22 47.05h0.8v0.8h-0.8zM240.04 55.41h0.8v0.8h-0.8zM241.13 57.59h0.8v0.8h-0.8zM236.36 59.3h0.8v0.8h-0.8zM237.66 53.24h0.8v0.8h-0.8zM235.52 57.7h0.8v0.8h-0.8zM241.75 48.35h0.8v0.8h-0.8zM233.54 53.76h0.8v0.8h-0.8zM237.87 49.95h0.8v0.8h-0.8zM246.02 53.78h0.8v0.8h-0.8zM239.19 56.38h0.8v0.8h-0.8zM240.68 57.81h0.8v0.8h-0.8zM238.47 48.55h0.8v0.8h-0.8zM234.77 58.7h0.8v0.8h-0.8zM238.88 50.87h0.8v0.8h-0.8zM240.46 48.38h0.8v0.8h-0.8zM235.32 52.23h0.8v0.8h-0.8zM243.48 53.02h0.8v0.8h-0.8zM242.85 54.3h0.8v0.8h-0.8zM233.3 52.1h0.8v0.8h-0.8zM235.49 55.41h0.8v0.8h-0.8zM233.19 51.58h0.8v0.8h-0.8zM242.86 53.02h0.8v0.8h-0.8zM241.2 46.52h0.8v0.8h-0.8zM241.53 53.19h0.8v0.8h-0.8zM235.84 49.17h0.8v0.8h-0.8zM234.8 50.98h0.8v0.8h-0.8zM239.28 52.58h0.8v0.8h-0.8zM239.36 53.86h0.8v0.8h-0.8zM241.32 51.64h0.8v0.8h-0.8zM239.82 55.13h0.8v0.8h-0.8zM235.26 54.62h0.8v0.8h-0.8zM231.39 57.02h0.8v0.8h-0.8zM238.07 58.85h0.8v0.8h-0.8zM239.59 55.23h0.8v0.8h-0.8zM238.06 52.91h0.8v0.8h-0.8zM237.46 48.36h0.8v0.8h-0.8zM236.51 48.74h0.8v0.8h-0.8zM241.58 50.9h0.8v0.8h-0.8zM238.81 54.2h0.8v0.8h-0.8zM239.44 53.99h0.8v0.8h-0.8zM235.5 53.02h0.8v0.8h-0.8zM236.77 52.31h0.8v0.8h-0.8zM239.59 55.84h0.8v0.8h-0.8zM235.38 53.94h0.8v0.8h-0.8zM234.47 54.34h0.8v0.8h-0.8zM237.82 54.39h0.8v0.8h-0.8zM243.32 50.54h0.8v0.8h-0.8zM239.69 48.36h0.8v0.8h-0.8zM244.25 55.21h0.8v0.8h-0.8zM238.53 54.88h0.8v0.8h-0.8zM237.88 52.01h0.8v0.8h-0.8zM233.99 51.13h0.8v0.8h-0.8zM244.17 49.58h0.8v0.8h-0.8zM240.18 52.02h0.8v0.8h-0.8zM241.64 54.19h0.8v0.8h-0.8zM241.54 47.81h0.8v0.8h-0.8zM238.97 53.53h0.8v0.8h-0.8zM238.26 61.09h0.8v0.8h-0.8zM239.43 57.2h0.8v0.8h-0.8zM241.42 55.84h0.8v0.8h-0.8zM240.65 55.67h0.8v0.8h-0.8zM240.77 53.5h0.8v0.8h-0.8zM239.55 57.31h0.8v0.8h-0.8zM236.23 52.3h0.8v0.8h-0.8zM238.06 51.1h0.8v0.8h-0.8zM235.61 53.46h0.8v0.8h-0.8zM242.62 57.08h0.8v0.8h-0.8zM231.43 54.49h0.8v0.8h-0.8zM238.22 56.04h0.8v0.8h-0.8zM237.77 58.37h0.8v0.8h-0.8zM238.94 59.01h0.8v0.8h-0.8zM243.64 51.57h0.8v0.8h-0.8zM238.42 49.18h0.8v0.8h-0.8zM241.21 54.25h0.8v0.8h-0.8zM239.36 48.56h0.8v0.8h-0.8zM237.66 56.27h0.8v0.8h-0.8zM250.34 50.64h0.8v0.8h-0.8zM239.26 57.32h0.8v0.8h-0.8zM237.07 59.13h0.8v0.8h-0.8zM240.37 54.32h0.8v0.8h-0.8zM240.47 49.86h0.8v0.8h-0.8zM241.78 46.66h0.8v0.8h-0.8zM239.51 50.22h0.8v0.8h-0.8zM233.85 52.01h0.8v0.8h-0.8zM240.91 57.65h0.8v0.8h-0.8zM237.97 57.73h0.8v0.8h-0.8zM236.94 55.69h0.8v0.8h-0.8zM236.38 55.46h0.8v0.8h-0.8zM238.87 52.94h0.8v0.8h-0.8zM233.77 47.71h0.8v0.8h-0.8zM239.18 55.41h0.8v0.8h-0.8zM239.45 54.73h0.8v0.8h-0.8zM234.97 56.29h0.8v0.8h-0.8zM235.91 56.28h0.8v0.8h-0.8zM242.27 54.92h0.8v0.8h-0.8zM229.9 60.03h0.8v0.8h-0.8zM237.76 46.95h0.8v0.8h-0.8zM233.02 47.86h0.8v0.8h-0.8zM237.45 51.31h0.8v0.8h-0.8zM242.05 50.05h0.8v0.8h-0.8zM236.73 56.12h0.8v0.8h-0.8zM235.87 58.67h0.8v0.8h-0.8zM239.91 71.47h0.8v0.8h-0.8zM238.56 63.53h0.8v0.8h-0.8zM239.02 68.6h0.8v0.8h-0.8zM237.07 64.4h0.8v0.8h-0.8zM238.43 71.87h0.8v0.8h-0.8zM237.92 62.12h0.8v0.8h-0.8zM239.24 65.58h0.8v0.8h-0.8zM242.14 65.75h0.8v0.8h-0.8zM239.39 71.43h0.8v0.8h-0.8zM234.08 58.8h0.8v0.8h-0.8zM235.9 64.18h0.8v0.8h-0.8zM234.31 65.68h0.8v0.8h-0.8zM236.38 68.78h0.8v0.8h-0.8zM239.84 60.28h0.8v0.8h-0.8zM239.47 66.98h0.8v0.8h-0.8zM236.89 67.95h0.8v0.8h-0.8zM239.14 69.35h0.8v0.8h-0.8zM236.43 61.15h0.8v0.8h-0.8zM234.73 65h0.8v0.8h-0.8zM234.76 62.95h0.8v0.8h-0.8zM236.19 63.72h0.8v0.8h-0.8zM242.1 64.82h0.8v0.8h-0.8zM234.99 72.45h0.8v0.8h-0.8zM241.6 57.91h0.8v0.8h-0.8zM241.91 73.28h0.8v0.8h-0.8zM237.9 57.75h0.8v0.8h-0.8zM238.25 59.56h0.8v0.8h-0.8zM236.8 61.65h0.8v0.8h-0.8zM238.34 62.38h0.8v0.8h-0.8zM240.16 72.84h0.8v0.8h-0.8zM238.48 71.48h0.8v0.8h-0.8zM241.05 73.09h0.8v0.8h-0.8zM241.49 63.63h0.8v0.8h-0.8zM239.26 57.22h0.8v0.8h-0.8zM239.28 67.6h0.8v0.8h-0.8zM238.3 72.16h0.8v0.8h-0.8zM239.28 59.41h0.8v0.8h-0.8zM235.56 71.68h0.8v0.8h-0.8zM239.42 56.57h0.8v0.8h-0.8zM238.97 69.01h0.8v0.8h-0.8zM236.18 64.77h0.8v0.8h-0.8zM244.04 73.31h0.8v0.8h-0.8zM235.93 71.63h0.8v0.8h-0.8zM236.12 58.4h0.8v0.8h-0.8zM239.14 65.28h0.8v0.8h-0.8zM233.36 62.38h0.8v0.8h-0.8zM236.35 64.75h0.8v0.8h-0.8zM234.41 59.16h0.8v0.8h-0.8zM235.89 62.52h0.8v0.8h-0.8zM238.06 65.21h0.8v0.8h-0.8zM239.19 58.27h0.8v0.8h-0.8zM241.27 65.89h0.8v0.8h-0.8zM240.54 73.03h0.8v0.8h-0.8zM241.44 58.83h0.8v0.8h-0.8zM239.98 72.99h0.8v0.8h-0.8zM237.19 66.23h0.8v0.8h-0.8zM241.28 61.6h0.8v0.8h-0.8zM237.19 73.33h0.8v0.8h-0.8zM236.81 65.57h0.8v0.8h-0.8zM242.37 64.66h0.8v0.8h-0.8zM240.44 64.42h0.8v0.8h-0.8zM239.02 72.63h0.8v0.8h-0.8zM240.32 60.05h0.8v0.8h-0.8zM240.66 62.47h0.8v0.8h-0.8zM234.85 61.58h0.8v0.8h-0.8zM238.12 58.83h0.8v0.8h-0.8zM235.38 72.5h0.8v0.8h-0.8zM238.72 65.54h0.8v0.8h-0.8zM236.67 66.63h0.8v0.8h-0.8zM241.97 72.98h0.8v0.8h-0.8zM239.75 66.21h0.8v0.8h-0.8zM236.28 61.67h0.8v0.8h-0.8zM238.36 66.94h0.8v0.8h-0.8zM235.26 65.36h0.8v0.8h-0.8zM238.49 61.95h0.8v0.8h-0.8zM239.8 61.59h0.8v0.8h-0.8zM239.08 63.41h0.8v0.8h-0.8zM233.42 69.07h0.8v0.8h-0.8zM237.5 60.4h0.8v0.8h-0.8zM239.78 73.3h0.8v0.8h-0.8zM239.17 61.77h0.8v0.8h-0.8zM241.39 62.32h0.8v0.8h-0.8zM235.03 60.39h0.8v0.8h-0.8zM239.75 63.97h0.8v0.8h-0.8zM236.7 63.12h0.8v0.8h-0.8zM238.93 68.09h0.8v0.8h-0.8zM239.5 72.16h0.8v0.8h-0.8zM240.16 62.86h0.8v0.8h-0.8zM236.93 71.43h0.8v0.8h-0.8zM238.86 62.52h0.8v0.8h-0.8zM235.36 65.05h0.8v0.8h-0.8zM234.7 59.33h0.8v0.8h-0.8zM239.88 72.86h0.8v0.8h-0.8zM238.25 63.71h0.8v0.8h-0.8zM234.21 69.65h0.8v0.8h-0.8zM236.14 58.77h0.8v0.8h-0.8zM238.47 68.96h0.8v0.8h-0.8zM242.41 61.79h0.8v0.8h-0.8zM241.11 64.55h0.8v0.8h-0.8zM240.49 68.71h0.8v0.8h-0.8zM233.73 61.36h0.8v0.8h-0.8zM238.15 68.87h0.8v0.8h-0.8zM239.67 71.77h0.8v0.8h-0.8zM239.39 60.64h0.8v0.8h-0.8zM239.48 64.84h0.8v0.8h-0.8zM237.76 61.55h0.8v0.8h-0.8zM242.93 59.27h0.8v0.8h-0.8zM242.23 65.33h0.8v0.8h-0.8zM238.15 65.49h0.8v0.8h-0.8zM235.87 67.55h0.8v0.8h-0.8zM243.77 72.62h0.8v0.8h-0.8zM236.98 69.94h0.8v0.8h-0.8zM241.49 63.01h0.8v0.8h-0.8zM243.36 65.42h0.8v0.8h-0.8zM235.96 67.96h0.8v0.8h-0.8zM239.19 70.55h0.8v0.8h-0.8zM237.51 69.16h0.8v0.8h-0.8zM239.74 66.39h0.8v0.8h-0.8zM239.19 60.32h0.8v0.8h-0.8zM243.49 72.02h0.8v0.8h-0.8zM239.91 62.14h0.8v0.8h-0.8zM238.37 64.67h0.8v0.8h-0.8zM241.36 71.24h0.8v0.8h-0.8zM237.66 61.29h0.8v0.8h-0.8zM237.49 73.48h0.8v0.8h-0.8zM244.19 62.43h0.8v0.8h-0.8zM236.22 59.09h0.8v0.8h-0.8zM237.13 65.99h0.8v0.8h-0.8zM238.54 71.53h0.8v0.8h-0.8zM235.64 65.49h0.8v0.8h-0.8zM232.95 70.56h0.8v0.8h-0.8zM241.13 64.06h0.8v0.8h-0.8zM236.39 71.15h0.8v0.8h-0.8zM236.95 60.51h0.8v0.8h-0.8zM237.41 62h0.8v0.8h-0.8zM235.81 60.32h0.8v0.8h-0.8zM235.63 69.63h0.8v0.8h-0.8zM238.81 66.92h0.8v0.8h-0.8zM244.65 68.72h0.8v0.8h-0.8zM240.29 61.71h0.8v0.8h-0.8zM240.36 69.53h0.8v0.8h-0.8zM238.29 59.65h0.8v0.8h-0.8zM235.3 62.42h0.8v0.8h-0.8zM240.44 72.01h0.8v0.8h-0.8zM237.84 70.79h0.8v0.8h-0.8zM238.53 71.47h0.8v0.8h-0.8zM238.14 60.82h0.8v0.8h-0.8zM236.89 66.18h0.8v0.8h-0.8zM234.4 58.94h0.8v0.8h-0.8zM239.9 64.28h0.8v0.8h-0.8zM234.81 67.51h0.8v0.8h-0.8zM235.3 62.59h0.8v0.8h-0.8zM237.62 64.58h0.8v0.8h-0.8zM236.55 63.16h0.8v0.8h-0.8zM239.04 59.81h0.8v0.8h-0.8zM240.98 57.85h0.8v0.8h-0.8zM239.07 69.31h0.8v0.8h-0.8zM238.86 58.46h0.8v0.8h-0.8zM240.67 72.91h0.8v0.8h-0.8zM233.65 73.64h0.8v0.8h-0.8zM239.38 69.78h0.8v0.8h-0.8zM235.92 57.71h0.8v0.8h-0.8zM235.15 60.17h0.8v0.8h-0.8zM238.39 62.61h0.8v0.8h-0.8zM237.36 60.45h0.8v0.8h-0.8zM239.87 58.1h0.8v0.8h-0.8zM241.3 71.94h0.8v0.8h-0.8zM232.39 73.04h0.8v0.8h-0.8zM238.24 70.52h0.8v0.8h-0.8zM243.46 61.32h0.8v0.8h-0.8zM240.69 70.96h0.8v0.8h-0.8zM242.19 70.74h0.8v0.8h-0.8zM238.64 63.48h0.8v0.8h-0.8zM234.63 59.31h0.8v0.8h-0.8zM235.44 60.04h0.8v0.8h-0.8zM240.24 63.22h0.8v0.8h-0.8zM240.92 70.53h0.8v0.8h-0.8zM236.45 59.45h0.8v0.8h-0.8zM237.69 65.39h0.8v0.8h-0.8zM239.06 62.95h0.8v0.8h-0.8zM233.89 71.79h0.8v0.8h-0.8zM237.45 60.9h0.8v0.8h-0.8zM242.62 68.23h0.8v0.8h-0.8zM244.06 62.82h0.8v0.8h-0.8zM238.13 68.63h0.8v0.8h-0.8zM243.19 71.25h0.8v0.8h-0.8zM237.06 71.84h0.8v0.8h-0.8zM236.32 71.98h0.8v0.8h-0.8zM232.56 62.31h0.8v0.8h-0.8zM240.86 62.32h0.8v0.8h-0.8zM237.39 59.9h0.8v0.8h-0.8zM244.46 61.24h0.8v0.8h-0.8zM239.22 59.3h0.8v0.8h-0.8zM238.92 71.1h0.8v0.8h-0.8zM233.66 57.77h0.8v0.8h-0.8zM242.27 61.64h0.8v0.8h-0.8zM237.48 70.79h0.8v0.8h-0.8zM238.01 70.19h0.8v0.8h-0.8zM232.71 73.87h0.8v0.8h-0.8zM240.8 64.4h0.8v0.8h-0.8zM240.92 59.42h0.8v0.8h-0.8zM236.86 70.66h0.8v0.8h-0.8zM238.62 62.42h0.8v0.8h-0.8zM239.45 70.2h0.8v0.8h-0.8zM240.86 59.42h0.8v0.8h-0.8zM238.63 59.1h0.8v0.8h-0.8zM242.89 66.99h0.8v0.8h-0.8zM237.79 68.72h0.8v0.8h-0.8zM236.83 66.54h0.8v0.8h-0.8zM237.19 66.5h0.8v0.8h-0.8zM231.81 67.66h0.8v0.8h-0.8zM236.27 61.45h0.8v0.8h-0.8zM240.98 57.89h0.8v0.8h-0.8zM239.08 64.19h0.8v0.8h-0.8zM236.28 67h0.8v0.8h-0.8zM239.29 61.53h0.8v0.8h-0.8zM233.13 60.75h0.8v0.8h-0.8zM237.66 64.82h0.8v0.8h-0.8zM239.76 64.56h0.8v0.8h-0.8zM240.2 62.88h0.8v0.8h-0.8zM236.44 71.9h0.8v0.8h-0.8zM240.83 73.85h0.8v0.8h-0.8zM243.22 58.5h0.8v0.8h-0.8zM237.3 66.56h0.8v0.8h-0.8zM240.31 62.03h0.8v0.8h-0.8zM234.34 64.1h0.8v0.8h-0.8zM233.26 58.77h0.8v0.8h-0.8zM245.05 84.9h0.8v0.8h-0.8zM235.82 83.48h0.8v0.8h-0.8zM243.06 88.75h0.8v0.8h-0.8zM243.25 92.23h0.8v0.8h-0.8zM249.93 78.42h0.8v0.8h-0.8zM230.18 91.51h0.8v0.8h-0.8zM238.88 87.24h0.8v0.8h-0.8zM244.94 87.44h0.8v0.8h-0.8zM233.8 83.19h0.8v0.8h-0.8zM238.74 88.83h0.8v0.8h-0.8zM250.02 83.06h0.8v0.8h-0.8zM246.65 83.63h0.8v0.8h-0.8zM235.61 85.71h0.8v0.8h-0.8zM246.7 82.59h0.8v0.8h-0.8zM245.54 93.79h0.8v0.8h-0.8zM243.58 82.19h0.8v0.8h-0.8zM241.68 84.48h0.8v0.8h-0.8zM240.99 86.23h0.8v0.8h-0.8zM235.66 87.51h0.8v0.8h-0.8zM237.36 90.67h0.8v0.8h-0.8zM243.37 90.77h0.8v0.8h-0.8zM240.53 86.29h0.8v0.8h-0.8zM248.75 85.96h0.8v0.8h-0.8zM238.25 87.64h0.8v0.8h-0.8zM228.31 90.79h0.8v0.8h-0.8zM238.25 90.29h0.8v0.8h-0.8zM241.19 85.43h0.8v0.8h-0.8zM241.7 79.26h0.8v0.8h-0.8zM235.91 91.31h0.8v0.8h-0.8zM247.05 88.55h0.8v0.8h-0.8zM236.67 88.86h0.8v0.8h-0.8zM243.28 85.41h0.8v0.8h-0.8zM238.48 83.5h0.8v0.8h-0.8zM234.11 86.17h0.8v0.8h-0.8zM246.66 86.61h0.8v0.8h-0.8zM227.81 85h0.8v0.8h-0.8zM235.78 81.67h0.8v0.8h-0.8zM241.95 86.25h0.8v0.8h-0.8zM238.16 89.81h0.8v0.8h-0.8zM243.48 85.52h0.8v0.8h-0.8zM239.4 87.59h0.8v0.8h-0.8zM237.7 79.22h0.8v0.8h-0.8zM250.26 86.67h0.8v0.8h-0.8zM238.83 87.01h0.8v0.8h-0.8zM239.13 82.6h0.8v0.8h-0.8zM234.68 80.58h0.8v0.8h-0.8zM236.3 89.15h0.8v0.8h-0.8zM243.01 84.26h0.8v0.8h-0.8zM242.6 89.45h0.8v0.8h-0.8zM239.9 85.82h0.8v0.8h-0.8zM236.53 89.99h0.8v0.8h-0.8zM243.19 86.14h0.8v0.8h-0.8zM231.72 81.47h0.8v0.8h-0.8zM238.26 87.15h0.8v0.8h-0.8zM238.69 86.19h0.8v0.8h-0.8zM235.84 90.13h0.8v0.8h-0.8zM240.64 85.7h0.8v0.8h-0.8zM236.7 85.93h0.8v0.8h-0.8zM236.06 90.94h0.8v0.8h-0.8zM248.57 92.17h0.8v0.8h-0.8zM243.48 90.54h0.8v0.8h-0.8zM245.68 91.65h0.8v0.8h-0.8zM240.17 89.32h0.8v0.8h-0.8zM244.56 90.58h0.8v0.8h-0.8zM243.68 91.01h0.8v0.8h-0.8zM245.76 89.12h0.8v0.8h-0.8zM251.31 87.75h0.8v0.8h-0.8zM238.85 88.07h0.8v0.8h-0.8zM239.7 87.55h0.8v0.8h-0.8zM223.07 86.55h0.8v0.8h-0.8zM233.25 86.04h0.8v0.8h-0.8zM240.04 87.37h0.8v0.8h-0.8zM243 88.48h0.8v0.8h-0.8zM237.19 82.98h0.8v0.8h-0.8zM245.41 79.58h0.8v0.8h-0.8zM246.13 88.68h0.8v0.8h-0.8zM237.98 81.08h0.8v0.8h-0.8zM246.81 88.53h0.8v0.8h-0.8zM248.38 88.06h0.8v0.8h-0.8zM242.2 92.11h0.8v0.8h-0.8zM235.27 94.18h0.8v0.8h-0.8zM247.03 88.97h0.8v0.8h-0.8zM239.2 85.28h0.8v0.8h-0.8zM238.17 82.8h0.8v0.8h-0.8zM240.54 84.33h0.8v0.8h-0.8zM237.41 87.66h0.8v0.8h-0.8zM245.14 79.22h0.8v0.8h-0.8zM243.72 87.8h0.8v0.8h-0.8zM245.85 87.45h0.8v0.8h-0.8zM242.79 90.08h0.8v0.8h-0.8zM236.19 86.16h0.8v0.8h-0.8zM239.23 87.91h0.8v0.8h-0.8zM244.2 84.56h0.8v0.8h-0.8zM238.05 85.64h0.8v0.8h-0.8zM254.02 80.41h0.8v0.8h-0.8zM238.84 87.99h0.8v0.8h-0.8zM237.19 93.69h0.8v0.8h-0.8zM245.51 88.15h0.8v0.8h-0.8zM243.59 88.96h0.8v0.8h-0.8zM239.87 83.57h0.8v0.8h-0.8zM238.89 93.23h0.8v0.8h-0.8zM242.05 84.43h0.8v0.8h-0.8zM244.01 90.71h0.8v0.8h-0.8zM243.66 87.93h0.8v0.8h-0.8zM238.55 83.66h0.8v0.8h-0.8zM242.07 91.61h0.8v0.8h-0.8zM244.05 87.56h0.8v0.8h-0.8zM243.67 88.21h0.8v0.8h-0.8zM225.19 89.31h0.8v0.8h-0.8zM235.73 87.41h0.8v0.8h-0.8zM236.28 85.99h0.8v0.8h-0.8zM238.89 89.36h0.8v0.8h-0.8zM240.86 85.88h0.8v0.8h-0.8zM244.42 87.76h0.8v0.8h-0.8zM242.96 84.83h0.8v0.8h-0.8zM239.39 81.54h0.8v0.8h-0.8zM240.11 84.81h0.8v0.8h-0.8zM248.44 85.52h0.8v0.8h-0.8zM237.06 87.56h0.8v0.8h-0.8zM241.46 92.24h0.8v0.8h-0.8zM247.51 80.74h0.8v0.8h-0.8zM241.66 88.01h0.8v0.8h-0.8zM230.19 78.65h0.8v0.8h-0.8zM241.8 83.32h0.8v0.8h-0.8zM238.14 85.47h0.8v0.8h-0.8zM239.46 78.49h0.8v0.8h-0.8zM245.04 80.07h0.8v0.8h-0.8zM242.25 88.12h0.8v0.8h-0.8zM238.73 87.81h0.8v0.8h-0.8zM244.28 87.04h0.8v0.8h-0.8zM242.09 84.29h0.8v0.8h-0.8zM241.44 86.86h0.8v0.8h-0.8zM241.21 84.05h0.8v0.8h-0.8zM238.37 94.21h0.8v0.8h-0.8zM237.8 89.96h0.8v0.8h-0.8zM240.12 86.02h0.8v0.8h-0.8zM235.42 92.27h0.8v0.8h-0.8zM233.96 88.13h0.8v0.8h-0.8zM246.24 90.07h0.8v0.8h-0.8zM238.85 88.44h0.8v0.8h-0.8zM239.88 83.39h0.8v0.8h-0.8zM239.35 91.38h0.8v0.8h-0.8zM240.11 88.14h0.8v0.8h-0.8zM240.11 83.46h0.8v0.8h-0.8zM240.31 84.45h0.8v0.8h-0.8zM236.14 91.32h0.8v0.8h-0.8zM244.47 86.02h0.8v0.8h-0.8zM236.68 87.69h0.8v0.8h-0.8zM244.97 90.12h0.8v0.8h-0.8zM230.79 88.01h0.8v0.8h-0.8zM234.9 81.39h0.8v0.8h-0.8zM244.76 90.05h0.8v0.8h-0.8zM239.29 91.25h0.8v0.8h-0.8zM236.78 90.97h0.8v0.8h-0.8zM241.8 93.97h0.8v0.8h-0.8zM234.98 88.96h0.8v0.8h-0.8zM240.37 90.61h0.8v0.8h-0.8zM229.37 93.86h0.8v0.8h-0.8zM237.83 86.34h0.8v0.8h-0.8zM236.88 94.45h0.8v0.8h-0.8zM242.59 94.44h0.8v0.8h-0.8zM244.2 90.63h0.8v0.8h-0.8zM235.9 94.86h0.8v0.8h-0.8zM247.72 90.91h0.8v0.8h-0.8zM237.16 83.98h0.8v0.8h-0.8zM230.13 92.05h0.8v0.8h-0.8zM228.58 88.81h0.8v0.8h-0.8zM247.39 89.15h0.8v0.8h-0.8zM239.58 88.12h0.8v0.8h-0.8zM236.89 92.94h0.8v0.8h-0.8zM236.41 89.71h0.8v0.8h-0.8zM234.76 84.72h0.8v0.8h-0.8zM246.49 89.44h0.8v0.8h-0.8zM239.6 90.42h0.8v0.8h-0.8zM248.59 84.6h0.8v0.8h-0.8zM239.04 85.76h0.8v0.8h-0.8zM228.72 85.97h0.8v0.8h-0.8zM244.05 85.07h0.8v0.8h-0.8zM238.23 88.9h0.8v0.8h-0.8zM238.86 91.57h0.8v0.8h-0.8zM247.52 95.07h0.8v0.8h-0.8zM238.74 92.28h0.8v0.8h-0.8zM245.58 91.59h0.8v0.8h-0.8zM239.98 92.07h0.8v0.8h-0.8zM236.39 92.84h0.8v0.8h-0.8zM242.44 85.99h0.8v0.8h-0.8zM237.12 90.27h0.8v0.8h-0.8zM245.9 88.79h0.8v0.8h-0.8zM244.61 86.98h0.8v0.8h-0.8zM240.3 85.68h0.8v0.8h-0.8zM242.93 85.48h0.8v0.8h-0.8zM242.71 86.43h0.8v0.8h-0.8zM238.68 82.56h0.8v0.8h-0.8zM244.3 89.59h0.8v0.8h-0.8zM238.91 87.41h0.8v0.8h-0.8zM242.96 87.92h0.8v0.8h-0.8zM235.44 88.85h0.8v0.8h-0.8zM240.49 90.4h0.8v0.8h-0.8zM242 85.13h0.8v0.8h-0.8zM236.22 87.07h0.8v0.8h-0.8zM238.01 81.07h0.8v0.8h-0.8zM237.45 78.62h0.8v0.8h-0.8zM243.51 79.74h0.8v0.8h-0.8zM236.56 93.65h0.8v0.8h-0.8zM242.12 80.19h0.8v0.8h-0.8zM247.34 89.39h0.8v0.8h-0.8zM241.73 93.41h0.8v0.8h-0.8zM232.29 85.67h0.8v0.8h-0.8zM240.63 94.02h0.8v0.8h-0.8zM245.02 94.89h0.8v0.8h-0.8zM238.66 91.28h0.8v0.8h-0.8zM243 89.99h0.8v0.8h-0.8zM242.06 84.59h0.8v0.8h-0.8zM238.78 89.6h0.8v0.8h-0.8zM237.58 85.74h0.8v0.8h-0.8zM238.81 82.3h0.8v0.8h-0.8zM240.34 82.41h0.8v0.8h-0.8zM242.06 85.36h0.8v0.8h-0.8zM238.6 87.43h0.8v0.8h-0.8zM240.36 84.87h0.8v0.8h-0.8zM241.91 88.08h0.8v0.8h-0.8zM232.25 86.58h0.8v0.8h-0.8zM236.37 85.9h0.8v0.8h-0.8zM236.22 82.69h0.8v0.8h-0.8zM239.08 81.89h0.8v0.8h-0.8zM238.74 84.57h0.8v0.8h-0.8zM238.82 88.72h0.8v0.8h-0.8zM243.29 91.76h0.8v0.8h-0.8zM241.4 94.85h0.8v0.8h-0.8zM232.18 89.5h0.8v0.8h-0.8zM240.13 87.21h0.8v0.8h-0.8zM234.66 82.26h0.8v0.8h-0.8zM248.24 87.57h0.8v0.8h-0.8zM237.88 78.99h0.8v0.8h-0.8zM238.18 86.37h0.8v0.8h-0.8zM240.48 94.08h0.8v0.8h-0.8zM239.11 88.89h0.8v0.8h-0.8zM239.8 92.09h0.8v0.8h-0.8zM247.5 86.05h0.8v0.8h-0.8zM241.16 82.07h0.8v0.8h-0.8zM244.09 85.66h0.8v0.8h-0.8zM245.49 85.99h0.8v0.8h-0.8zM235.4 92.41h0.8v0.8h-0.8zM243.39 84.63h0.8v0.8h-0.8zM244.68 86.15h0.8v0.8h-0.8zM235.94 87.01h0.8v0.8h-0.8zM244.01 86.2h0.8v0.8h-0.8zM242.07 82.62h0.8v0.8h-0.8zM237.51 87.97h0.8v0.8h-0.8zM251.04 89.04h0.8v0.8h-0.8zM242.81 89.14h0.8v0.8h-0.8zM238.94 82.77h0.8v0.8h-0.8zM241.02 87.15h0.8v0.8h-0.8zM244.46 80.64h0.8v0.8h-0.8zM245.51 91.26h0.8v0.8h-0.8zM242.88 83.53h0.8v0.8h-0.8zM245.93 86.51h0.8v0.8h-0.8zM247.15 85.81h0.8v0.8h-0.8zM234.17 85.28h0.8v0.8h-0.8zM237.76 83.37h0.8v0.8h-0.8zM235.58 80.54h0.8v0.8h-0.8zM240.56 94.54h0.8v0.8h-0.8zM247.02 88.64h0.8v0.8h-0.8zM243.23 88.68h0.8v0.8h-0.8zM238.69 87.22h0.8v0.8h-0.8zM245.03 89.83h0.8v0.8h-0.8zM237.54 87.7h0.8v0.8h-0.8zM239.63 92.37h0.8v0.8h-0.8zM241.56 89.63h0.8v0.8h-0.8zM231.35 88.88h0.8v0.8h-0.8zM243.84 86.6h0.8v0.8h-0.8zM241.74 88.74h0.8v0.8h-0.8zM242.82 92.28h0.8v0.8h-0.8zM235.4 79.32h0.8v0.8h-0.8zM236.41 87.11h0.8v0.8h-0.8zM237.23 85.96h0.8v0.8h-0.8zM241.3 86.43h0.8v0.8h-0.8zM240.43 79.72h0.8v0.8h-0.8zM240.71 90.55h0.8v0.8h-0.8zM248.7 84.25h0.8v0.8h-0.8zM246.36 86.72h0.8v0.8h-0.8zM236.64 85.61h0.8v0.8h-0.8zM236.96 80.95h0.8v0.8h-0.8zM248.33 85.85h0.8v0.8h-0.8zM238.57 80.26h0.8v0.8h-0.8zM246.71 83.86h0.8v0.8h-0.8zM247.77 86.37h0.8v0.8h-0.8zM237.49 87.61h0.8v0.8h-0.8zM238.8 87.85h0.8v0.8h-0.8zM240.49 87.08h0.8v0.8h-0.8zM235.4 89.37h0.8v0.8h-0.8zM238.17 82.75h0.8v0.8h-0.8zM244.19 85.18h0.8v0.8h-0.8zM237.95 85h0.8v0.8h-0.8zM239.11 86.92h0.8v0.8h-0.8zM237.86 85.22h0.8v0.8h-0.8zM233.54 84.21h0.8v0.8h-0.8zM247.22 94.23h0.8v0.8h-0.8zM228.85 87.81h0.8v0.8h-0.8zM236.96 86.28h0.8v0.8h-0.8zM242.78 86.62h0.8v0.8h-0.8zM233.4 86.77h0.8v0.8h-0.8zM243 93.21h0.8v0.8h-0.8zM246.11 89.55h0.8v0.8h-0.8zM235.97 92.13h0.8v0.8h-0.8zM234.76 88.94h0.8v0.8h-0.8zM242.53 91.87h0.8v0.8h-0.8zM241.13 87.76h0.8v0.8h-0.8zM246.65 80.77h0.8v0.8h-0.8zM242.36 89.99h0.8v0.8h-0.8zM246.55 85.24h0.8v0.8h-0.8zM243.14 80.47h0.8v0.8h-0.8zM234.33 85.17h0.8v0.8h-0.8zM241.35 91.87h0.8v0.8h-0.8zM242.44 92.45h0.8v0.8h-0.8zM233.15 90.53h0.8v0.8h-0.8zM246.49 83.45h0.8v0.8h-0.8zM241.86 82.97h0.8v0.8h-0.8zM235.79 87.33h0.8v0.8h-0.8zM240.44 81.87h0.8v0.8h-0.8zM241.53 92.92h0.8v0.8h-0.8zM238.53 89.43h0.8v0.8h-0.8zM240.48 91.2h0.8v0.8h-0.8zM229.92 88.01h0.8v0.8h-0.8zM246.63 87.38h0.8v0.8h-0.8zM234.74 88.35h0.8v0.8h-0.8zM229.62 80.1h0.8v0.8h-0.8zM235.48 91.63h0.8v0.8h-0.8zM236.08 91.31h0.8v0.8h-0.8zM242.7 86.09h0.8v0.8h-0.8zM235.7 87.61h0.8v0.8h-0.8zM241.45 88.86h0.8v0.8h-0.8zM235.48 93.94h0.8v0.8h-0.8zM250.68 89.39h0.8v0.8h-0.8zM242.71 87.83h0.8v0.8h-0.8zM249.48 85.63h0.8v0.8h-0.8zM235.22 81.65h0.8v0.8h-0.8zM243.27 85.28h0.8v0.8h-0.8zM235.5 87.95h0.8v0.8h-0.8zM242.86 86.66h0.8v0.8h-0.8zM243.34 87.97h0.8v0.8h-0.8zM232.43 90.66h0.8v0.8h-0.8zM234.63 89.42h0.8v0.8h-0.8zM234.48 88.78h0.8v0.8h-0.8zM232.86 90.3h0.8v0.8h-0.8zM236.57 88.42h0.8v0.8h-0.8zM235.47 87.56h0.8v0.8h-0.8zM233.14 89.56h0.8v0.8h-0.8zM240.54 80.77h0.8v0.8h-0.8zM242.69 92.69h0.8v0.8h-0.8zM233.76 82.53h0.8v0.8h-0.8zM237.4 91.03h0.8v0.8h-0.8zM240.11 87.74h0.8v0.8h-0.8zM238.95 92.12h0.8v0.8h-0.8zM236.7 87.83h0.8v0.8h-0.8zM243.95 83.91h0.8v0.8h-0.8zM244.13 91.99h0.8v0.8h-0.8zM243.32 88.43h0.8v0.8h-0.8zM239.06 88.17h0.8v0.8h-0.8zM249.59 88.02h0.8v0.8h-0.8zM248.41 91.7h0.8v0.8h-0.8zM238.13 90.97h0.8v0.8h-0.8zM239.48 88.62h0.8v0.8h-0.8zM245.76 81.5h0.8v0.8h-0.8zM236.22 86.09h0.8v0.8h-0.8zM241.97 88.13h0.8v0.8h-0.8zM240.27 94.89h0.8v0.8h-0.8zM236.68 89.25h0.8v0.8h-0.8zM238.94 87.34h0.8v0.8h-0.8zM232.51 92.49h0.8v0.8h-0.8zM237.44 87.27h0.8v0.8h-0.8zM230.47 87.6h0.8v0.8h-0.8zM250.99 88.34h0.8v0.8h-0.8zM247.27 81.72h0.8v0.8h-0.8zM245.94 91.54h0.8v0.8h-0.8zM241.49 89.42h0.8v0.8h-0.8zM244.84 86.59h0.8v0.8h-0.8zM246.15 83.15h0.8v0.8h-0.8zM244.92 88.57h0.8v0.8h-0.8zM244.45 93.32h0.8v0.8h-0.8zM235.66 85.15h0.8v0.8h-0.8zM242.09 83.47h0.8v0.8h-0.8zM237.47 89.4h0.8v0.8h-0.8zM234.37 81.34h0.8v0.8h-0.8zM234.55 78.84h0.8v0.8h-0.8zM242.08 85.94h0.8v0.8h-0.8zM245.08 84.96h0.8v0.8h-0.8zM233.46 86.62h0.8v0.8h-0.8zM248.4 85.52h0.8v0.8h-0.8zM247.08 89.06h0.8v0.8h-0.8zM238.2 86.84h0.8v0.8h-0.8zM237.8 85.33h0.8v0.8h-0.8zM239.67 85.9h0.8v0.8h-0.8zM244.73 90.25h0.8v0.8h-0.8zM238.18 91.56h0.8v0.8h-0.8zM234.7 91.35h0.8v0.8h-0.8zM241.66 90.52h0.8v0.8h-0.8zM240.69 83.72h0.8v0.8h-0.8zM245.57 86.47h0.8v0.8h-0.8zM241.47 88.56h0.8v0.8h-0.8zM243.75 81.26h0.8v0.8h-0.8zM242.37 93.42h0.8v0.8h-0.8zM243.5 88.95h0.8v0.8h-0.8zM240.7 85.25h0.8v0.8h-0.8zM236.02 88.39h0.8v0.8h-0.8zM238.92 86.35h0.8v0.8h-0.8zM239.65 84.7h0.8v0.8h-0.8zM246.04 89.76h0.8v0.8h-0.8zM247.81 85.92h0.8v0.8h-0.8zM242.02 82.09h0.8v0.8h-0.8zM236.39 85.2h0.8v0.8h-0.8zM236.5 87.28h0.8v0.8h-0.8zM239.1 83.42h0.8v0.8h-0.8zM246.67 92.79h0.8v0.8h-0.8zM241.61 83.39h0.8v0.8h-0.8zM239.73 94.77h0.8v0.8h-0.8zM236.33 91.32h0.8v0.8h-0.8zM244.24 83.98h0.8v0.8h-0.8zM241.39 88.27h0.8v0.8h-0.8zM239.76 92.48h0.8v0.8h-0.8zM240.5 86.99h0.8v0.8h-0.8zM248.1 82.98h0.8v0.8h-0.8zM239.23 88.2h0.8v0.8h-0.8zM245.96 81.8h0.8v0.8h-0.8zM240.25 89.98h0.8v0.8h-0.8zM244.24 87.8h0.8v0.8h-0.8zM239.41 87.29h0.8v0.8h-0.8zM236.02 86.2h0.8v0.8h-0.8zM238.71 86.49h0.8v0.8h-0.8zM235.65 91.92h0.8v0.8h-0.8zM242.45 90.15h0.8v0.8h-0.8zM240.07 83.78h0.8v0.8h-0.8zM242.73 94h0.8v0.8h-0.8zM243.97 82.58h0.8v0.8h-0.8zM225.02 90.42h0.8v0.8h-0.8zM241.5 88.51h0.8v0.8h-0.8zM231.35 92.57h0.8v0.8h-0.8zM240.8 89.2h0.8v0.8h-0.8zM235.79 92h0.8v0.8h-0.8zM240.5 87.68h0.8v0.8h-0.8zM246.55 91.67h0.8v0.8h-0.8zM231.8 89.16h0.8v0.8h-0.8zM239.62 85h0.8v0.8h-0.8zM230.92 92.56h0.8v0.8h-0.8zM243.11 89.64h0.8v0.8h-0.8zM240.16 88.49h0.8v0.8h-0.8zM237.56 85.52h0.8v0.8h-0.8zM236.54 89.58h0.8v0.8h-0.8zM255.42 81.89h0.8v0.8h-0.8zM238.11 82.32h0.8v0.8h-0.8zM231.36 90.64h0.8v0.8h-0.8zM235.53 81.57h0.8v0.8h-0.8zM238.24 93.54h0.8v0.8h-0.8zM238.15 86.7h0.8v0.8h-0.8zM239.62 88.79h0.8v0.8h-0.8zM234.97 88.1h0.8v0.8h-0.8zM242.6 89.48h0.8v0.8h-0.8zM237.68 86.68h0.8v0.8h-0.8zM233.47 86.33h0.8v0.8h-0.8zM236.09 87.29h0.8v0.8h-0.8zM238.15 92h0.8v0.8h-0.8zM244.07 92.33h0.8v0.8h-0.8zM242.33 92.9h0.8v0.8h-0.8zM238.38 89.26h0.8v0.8h-0.8zM240.09 87h0.8v0.8h-0.8zM241.03 81.08h0.8v0.8h-0.8zM249.79 90.37h0.8v0.8h-0.8zM237.04 91.17h0.8v0.8h-0.8zM242.24 86.19h0.8v0.8h-0.8zM243.49 91.03h0.8v0.8h-0.8zM235.43 92.96h0.8v0.8h-0.8zM240.91 88.18h0.8v0.8h-0.8zM240.78 92.03h0.8v0.8h-0.8zM237.74 89.04h0.8v0.8h-0.8zM242.72 80.87h0.8v0.8h-0.8zM244.94 85.92h0.8v0.8h-0.8zM245.43 86.17h0.8v0.8h-0.8zM239.08 89.92h0.8v0.8h-0.8zM240.91 84.35h0.8v0.8h-0.8zM251.28 86.05h0.8v0.8h-0.8zM234.7 83.96h0.8v0.8h-0.8zM241.06 87.65h0.8v0.8h-0.8zM244.27 88.09h0.8v0.8h-0.8zM240.72 91.71h0.8v0.8h-0.8zM243.15 91h0.8v0.8h-0.8zM240.83 88.47h0.8v0.8h-0.8zM243.62 88.77h0.8v0.8h-0.8zM246.16 88.24h0.8v0.8h-0.8zM238.94 88.26h0.8v0.8h-0.8zM240.95 93.99h0.8v0.8h-0.8zM239.73 77.86h0.8v0.8h-0.8zM238.06 87.11h0.8v0.8h-0.8zM239.91 89.06h0.8v0.8h-0.8zM234.57 92.33h0.8v0.8h-0.8zM243.57 83.43h0.8v0.8h-0.8zM248.17 89.2h0.8v0.8h-0.8zM248.18 91.26h0.8v0.8h-0.8zM246.12 86.03h0.8v0.8h-0.8zM235.37 80.17h0.8v0.8h-0.8zM247.29 86.37h0.8v0.8h-0.8zM236.57 83.01h0.8v0.8h-0.8zM239.75 90.41h0.8v0.8h-0.8zM248.86 84.4h0.8v0.8h-0.8zM234.85 94.93h0.8v0.8h-0.8zM244.04 88.37h0.8v0.8h-0.8zM241.35 84.59h0.8v0.8h-0.8zM239.27 85.79h0.8v0.8h-0.8zM235.8 83.44h0.8v0.8h-0.8zM242.03 89.37h0.8v0.8h-0.8zM237.77 93.77h0.8v0.8h-0.8zM245.02 86.95h0.8v0.8h-0.8zM245.88 91.51h0.8v0.8h-0.8zM233.38 84.04h0.8v0.8h-0.8zM237.57 89.04h0.8v0.8h-0.8zM234.33 82.19h0.8v0.8h-0.8zM234.63 92.74h0.8v0.8h-0.8zM240.43 92.5h0.8v0.8h-0.8zM239 80.29h0.8v0.8h-0.8zM232.07 82.07h0.8v0.8h-0.8zM237.42 83.9h0.8v0.8h-0.8zM242.49 91.68h0.8v0.8h-0.8zM234.21 86.09h0.8v0.8h-0.8zM235.57 87.14h0.8v0.8h-0.8zM247.62 90.64h0.8v0.8h-0.8zM246.32 88.28h0.8v0.8h-0.8zM232.22 88.71h0.8v0.8h-0.8zM233.52 86.52h0.8v0.8h-0.8zM241.81 92.3h0.8v0.8h-0.8zM234.28 84.69h0.8v0.8h-0.8zM238.79 94.51h0.8v0.8h-0.8zM237.83 86.45h0.8v0.8h-0.8zM242.69 84.61h0.8v0.8h-0.8zM227.86 90.39h0.8v0.8h-0.8zM229.43 89.61h0.8v0.8h-0.8zM234.11 79.88h0.8v0.8h-0.8zM244.87 88.69h0.8v0.8h-0.8zM239.26 82.4h0.8v0.8h-0.8zM231.8 84.48h0.8v0.8h-0.8zM242.37 90.95h0.8v0.8h-0.8zM243.4 84.35h0.8v0.8h-0.8zM238.82 89.22h0.8v0.8h-0.8zM238.41 86.28h0.8v0.8h-0.8zM245.81 87.41h0.8v0.8h-0.8zM240.73 83.09h0.8v0.8h-0.8zM242.56 83.37h0.8v0.8h-0.8zM239.77 84.16h0.8v0.8h-0.8zM238.17 88.29h0.8v0.8h-0.8zM235.6 87.77h0.8v0.8h-0.8zM241.23 91.66h0.8v0.8h-0.8zM238.56 88.45h0.8v0.8h-0.8zM238.83 88.29h0.8v0.8h-0.8zM244.46 89.07h0.8v0.8h-0.8zM242.34 87.25h0.8v0.8h-0.8zM244.18 88.94h0.8v0.8h-0.8zM232.44 90.9h0.8v0.8h-0.8zM242.68 90.9h0.8v0.8h-0.8zM237.17 85.59h0.8v0.8h-0.8zM236.12 80.69h0.8v0.8h-0.8zM235.91 84.53h0.8v0.8h-0.8zM245.81 88.89h0.8v0.8h-0.8zM243.97 77.8h0.8v0.8h-0.8zM236.56 85.86h0.8v0.8h-0.8zM234.54 89.55h0.8v0.8h-0.8zM240.07 85.5h0.8v0.8h-0.8zM237.79 83.28h0.8v0.8h-0.8zM247.97 94.77h0.8v0.8h-0.8zM232.99 93.29h0.8v0.8h-0.8zM231.22 86.71h0.8v0.8h-0.8zM238.77 93.04h0.8v0.8h-0.8zM240.05 92.94h0.8v0.8h-0.8zM240.64 83.22h0.8v0.8h-0.8zM249.95 83.99h0.8v0.8h-0.8zM238.36 86.68h0.8v0.8h-0.8zM237.39 83.35h0.8v0.8h-0.8zM231.56 88.04h0.8v0.8h-0.8zM241.17 82.47h0.8v0.8h-0.8zM244.1 87.7h0.8v0.8h-0.8zM238.75 92.06h0.8v0.8h-0.8zM245.67 88.58h0.8v0.8h-0.8zM240.15 86.67h0.8v0.8h-0.8zM247.27 93.9h0.8v0.8h-0.8zM241.6 84.13h0.8v0.8h-0.8zM234.93 91.59h0.8v0.8h-0.8zM236.94 86.51h0.8v0.8h-0.8zM232.64 88.58h0.8v0.8h-0.8zM231.66 87.84h0.8v0.8h-0.8zM241.28 88.22h0.8v0.8h-0.8zM244.17 87.49h0.8v0.8h-0.8zM249.38 84.58h0.8v0.8h-0.8zM239.74 85.43h0.8v0.8h-0.8zM238.86 89.47h0.8v0.8h-0.8zM234.68 87.27h0.8v0.8h-0.8zM244.74 83.04h0.8v0.8h-0.8zM241.87 84.87h0.8v0.8h-0.8zM237.14 84.92h0.8v0.8h-0.8zM243.3 87.47h0.8v0.8h-0.8zM242.69 88.4h0.8v0.8h-0.8zM231.02 88.04h0.8v0.8h-0.8zM243.56 85.06h0.8v0.8h-0.8zM240.65 87.75h0.8v0.8h-0.8zM238.12 82.2h0.8v0.8h-0.8zM248.39 87.45h0.8v0.8h-0.8zM247.37 81.05h0.8v0.8h-0.8zM248.76 83.87h0.8v0.8h-0.8zM234.49 82.83h0.8v0.8h-0.8zM236.86 90.17h0.8v0.8h-0.8zM244.35 82.81h0.8v0.8h-0.8zM234.2 88.74h0.8v0.8h-0.8zM236.54 85.68h0.8v0.8h-0.8zM231.34 82.69h0.8v0.8h-0.8zM248.89 81.33h0.8v0.8h-0.8zM245.1 89.47h0.8v0.8h-0.8zM242.2 89.16h0.8v0.8h-0.8zM241.05 90.71h0.8v0.8h-0.8zM238 94.93h0.8v0.8h-0.8zM238.09 88.69h0.8v0.8h-0.8zM242.96 88.72h0.8v0.8h-0.8zM236.58 87.1h0.8v0.8h-0.8zM245.89 88.01h0.8v0.8h-0.8zM237.64 86.19h0.8v0.8h-0.8zM235.81 84.01h0.8v0.8h-0.8zM239.31 80.13h0.8v0.8h-0.8zM242.66 88.59h0.8v0.8h-0.8zM238.01 89.34h0.8v0.8h-0.8zM229.2 88.17h0.8v0.8h-0.8zM242.63 83.72h0.8v0.8h-0.8zM233.54 86.79h0.8v0.8h-0.8zM245.19 85.71h0.8v0.8h-0.8zM232.56 83.25h0.8v0.8h-0.8zM231.05 87.36h0.8v0.8h-0.8zM241.48 85.91h0.8v0.8h-0.8zM242.04 85.33h0.8v0.8h-0.8zM240.51 90.26h0.8v0.8h-0.8zM234.17 83.29h0.8v0.8h-0.8zM244.26 89.28h0.8v0.8h-0.8zM232.97 85.08h0.8v0.8h-0.8zM237.77 89.22h0.8v0.8h-0.8zM236.22 87.79h0.8v0.8h-0.8zM238.19 88.47h0.8v0.8h-0.8zM244.09 83.59h0.8v0.8h-0.8zM236.96 84.4h0.8v0.8h-0.8zM242.71 84.07h0.8v0.8h-0.8zM243.33 88.19h0.8v0.8h-0.8zM231.79 90.48h0.8v0.8h-0.8zM234.4 91.8h0.8v0.8h-0.8zM238.16 85.48h0.8v0.8h-0.8zM237.16 87.82h0.8v0.8h-0.8zM241.48 81.02h0.8v0.8h-0.8zM230.73 78.62h0.8v0.8h-0.8zM243.46 84.02h0.8v0.8h-0.8zM243.57 84.81h0.8v0.8h-0.8zM239.19 81.27h0.8v0.8h-0.8zM233.36 80.37h0.8v0.8h-0.8zM240.03 89.59h0.8v0.8h-0.8zM237.42 84.25h0.8v0.8h-0.8zM242.72 80.75h0.8v0.8h-0.8zM243.5 88.14h0.8v0.8h-0.8zM237.92 86.18h0.8v0.8h-0.8zM246.92 90.15h0.8v0.8h-0.8zM228.94 84.41h0.8v0.8h-0.8zM235.12 93.77h0.8v0.8h-0.8zM242.36 81.29h0.8v0.8h-0.8zM232.75 82.21h0.8v0.8h-0.8zM243.53 86.87h0.8v0.8h-0.8zM234.16 84.37h0.8v0.8h-0.8zM240.45 93.04h0.8v0.8h-0.8zM235.61 81.02h0.8v0.8h-0.8zM237.88 84.49h0.8v0.8h-0.8zM240.84 88.35h0.8v0.8h-0.8zM239.5 89.64h0.8v0.8h-0.8zM238.17 91.39h0.8v0.8h-0.8zM250.33 88.76h0.8v0.8h-0.8zM235.34 85.5h0.8v0.8h-0.8zM244.45 88.08h0.8v0.8h-0.8zM243.94 90.79h0.8v0.8h-0.8zM245.87 86.12h0.8v0.8h-0.8zM248.58 86.2h0.8v0.8h-0.8zM235.49 85.52h0.8v0.8h-0.8zM245.09 84.8h0.8v0.8h-0.8zM245.47 82.86h0.8v0.8h-0.8zM240 85.15h0.8v0.8h-0.8zM241.18 81.18h0.8v0.8h-0.8zM225.59 88.87h0.8v0.8h-0.8zM237.25 81h0.8v0.8h-0.8zM231.42 94.12h0.8v0.8h-0.8zM237.43 91.75h0.8v0.8h-0.8zM241.38 86.5h0.8v0.8h-0.8zM242.76 84.99h0.8v0.8h-0.8zM247.83 92.21h0.8v0.8h-0.8zM231.54 88.05h0.8v0.8h-0.8zM240.21 89.56h0.8v0.8h-0.8zM244.13 84.46h0.8v0.8h-0.8zM233.69 91.57h0.8v0.8h-0.8zM239.81 84.13h0.8v0.8h-0.8zM249.05 87.74h0.8v0.8h-0.8zM246.32 80.42h0.8v0.8h-0.8zM242.59 84.7h0.8v0.8h-0.8zM227.45 89.31h0.8v0.8h-0.8zM239.37 85.52h0.8v0.8h-0.8zM241.85 85.53h0.8v0.8h-0.8zM238.52 90.45h0.8v0.8h-0.8zM239.69 87.01h0.8v0.8h-0.8zM254.8 92.25h0.8v0.8h-0.8zM238.97 77.67h0.8v0.8h-0.8zM235.35 89.57h0.8v0.8h-0.8zM241.17 89.32h0.8v0.8h-0.8zM238.48 81.15h0.8v0.8h-0.8zM238.51 82.13h0.8v0.8h-0.8zM239.58 90.8h0.8v0.8h-0.8zM243.72 83.04h0.8v0.8h-0.8zM241.14 84.76h0.8v0.8h-0.8zM234.23 89.68h0.8v0.8h-0.8zM239.36 85.97h0.8v0.8h-0.8zM242.28 89.19h0.8v0.8h-0.8zM237.75 83.83h0.8v0.8h-0.8zM245.51 88.47h0.8v0.8h-0.8zM243.73 91.6h0.8v0.8h-0.8zM235.24 88.59h0.8v0.8h-0.8zM241.54 78.55h0.8v0.8h-0.8zM249.52 89.88h0.8v0.8h-0.8zM247.49 87.52h0.8v0.8h-0.8zM239.73 83.68h0.8v0.8h-0.8zM244.31 92.84h0.8v0.8h-0.8zM236.77 80.34h0.8v0.8h-0.8zM233.05 94.75h0.8v0.8h-0.8zM242.66 84.77h0.8v0.8h-0.8zM241.18 93.56h0.8v0.8h-0.8zM242.47 87.11h0.8v0.8h-0.8zM239.88 81.99h0.8v0.8h-0.8zM241.56 87.66h0.8v0.8h-0.8zM237.54 88.61h0.8v0.8h-0.8zM242.27 89.44h0.8v0.8h-0.8zM244 91.51h0.8v0.8h-0.8zM239.72 83.71h0.8v0.8h-0.8zM243.91 89.24h0.8v0.8h-0.8zM231.5 90.22h0.8v0.8h-0.8zM236.23 86.2h0.8v0.8h-0.8zM246.93 83.55h0.8v0.8h-0.8zM248.46 83.47h0.8v0.8h-0.8zM241.2 90.27h0.8v0.8h-0.8zM239.5 90.46h0.8v0.8h-0.8zM233.91 83.98h0.8v0.8h-0.8zM241.75 81.95h0.8v0.8h-0.8zM243.74 92.22h0.8v0.8h-0.8zM232.89 81.09h0.8v0.8h-0.8zM242.68 87.92h0.8v0.8h-0.8zM242.36 84.07h0.8v0.8h-0.8zM242.12 80.29h0.8v0.8h-0.8zM234.59 87.77h0.8v0.8h-0.8zM242.6 86.52h0.8v0.8h-0.8zM232.81 93.01h0.8v0.8h-0.8zM240.65 86.53h0.8v0.8h-0.8zM234.41 91.36h0.8v0.8h-0.8zM246.46 91.44h0.8v0.8h-0.8zM245.54 85.19h0.8v0.8h-0.8zM230.24 92.07h0.8v0.8h-0.8zM237.64 89h0.8v0.8h-0.8zM231.74 91.75h0.8v0.8h-0.8zM232.76 93.27h0.8v0.8h-0.8zM231.96 89.09h0.8v0.8h-0.8zM232.43 87.54h0.8v0.8h-0.8zM231.03 92.13h0.8v0.8h-0.8zM235.07 91.77h0.8v0.8h-0.8zM236.58 93.27h0.8v0.8h-0.8zM231.72 91.09h0.8v0.8h-0.8zM228.71 89.26h0.8v0.8h-0.8zM232.98 89.78h0.8v0.8h-0.8zM228.39 88.31h0.8v0.8h-0.8zM230.92 88.51h0.8v0.8h-0.8zM236.51 89.47h0.8v0.8h-0.8zM239.76 89.67h0.8v0.8h-0.8zM233.95 93.64h0.8v0.8h-0.8zM229.65 87.82h0.8v0.8h-0.8zM235.16 90.75h0.8v0.8h-0.8zM226.13 89.41h0.8v0.8h-0.8zM230.76 94.57h0.8v0.8h-0.8zM237.38 91.52h0.8v0.8h-0.8zM235.06 89.94h0.8v0.8h-0.8zM228.71 92.9h0.8v0.8h-0.8zM227.87 91.04h0.8v0.8h-0.8zM235.38 89.69h0.8v0.8h-0.8zM232.69 94.69h0.8v0.8h-0.8zM231.06 92.64h0.8v0.8h-0.8zM234.06 95.18h0.8v0.8h-0.8zM231.12 93.75h0.8v0.8h-0.8zM227.09 92.81h0.8v0.8h-0.8zM235.25 91.21h0.8v0.8h-0.8zM230.9 88.18h0.8v0.8h-0.8zM229.84 92.65h0.8v0.8h-0.8zM228.85 91.06h0.8v0.8h-0.8zM233.58 92.56h0.8v0.8h-0.8zM230.43 90.86h0.8v0.8h-0.8zM234.7 89.17h0.8v0.8h-0.8zM232.03 88.39h0.8v0.8h-0.8zM236.06 92.63h0.8v0.8h-0.8zM231.68 94.1h0.8v0.8h-0.8zM230.88 90.17h0.8v0.8h-0.8zM226.95 92.02h0.8v0.8h-0.8zM229.55 94.33h0.8v0.8h-0.8zM234.98 88.82h0.8v0.8h-0.8zM241.95 90.05h0.8v0.8h-0.8zM229.1 88.11h0.8v0.8h-0.8zM229.74 93.82h0.8v0.8h-0.8zM233.84 91.54h0.8v0.8h-0.8zM234.26 89.75h0.8v0.8h-0.8zM230.81 86.78h0.8v0.8h-0.8zM233.07 90.45h0.8v0.8h-0.8zM228.03 93.37h0.8v0.8h-0.8zM231.94 90.16h0.8v0.8h-0.8zM235.52 89.84h0.8v0.8h-0.8zM237.71 92.49h0.8v0.8h-0.8zM232.33 87.84h0.8v0.8h-0.8zM232.06 91.03h0.8v0.8h-0.8zM234.19 92.38h0.8v0.8h-0.8zM236.14 88.96h0.8v0.8h-0.8zM242.24 60.9h0.8v0.8h-0.8zM240.17 68.73h0.8v0.8h-0.8zM239.36 62.02h0.8v0.8h-0.8zM242 71.38h0.8v0.8h-0.8zM242.09 68.86h0.8v0.8h-0.8zM235.25 64.21h0.8v0.8h-0.8zM243.44 62.27h0.8v0.8h-0.8zM247.45 74.13h0.8v0.8h-0.8zM248.84 64.13h0.8v0.8h-0.8zM235.73 70.18h0.8v0.8h-0.8zM247.29 62.5h0.8v0.8h-0.8zM240.6 68.77h0.8v0.8h-0.8zM243.69 68.04h0.8v0.8h-0.8zM245.72 61.82h0.8v0.8h-0.8zM251.43 63.26h0.8v0.8h-0.8zM234.51 67.83h0.8v0.8h-0.8zM244.37 61.73h0.8v0.8h-0.8zM239.96 68.22h0.8v0.8h-0.8zM239.56 64.42h0.8v0.8h-0.8zM245.67 64.83h0.8v0.8h-0.8zM234.76 61.7h0.8v0.8h-0.8zM239.11 60.04h0.8v0.8h-0.8zM242.15 68.62h0.8v0.8h-0.8zM232.4 62.45h0.8v0.8h-0.8zM245.94 69.57h0.8v0.8h-0.8zM240.36 73.4h0.8v0.8h-0.8zM241.77 66.83h0.8v0.8h-0.8zM242.8 55.13h0.8v0.8h-0.8zM251.55 60.78h0.8v0.8h-0.8zM241.03 72.16h0.8v0.8h-0.8zM238.69 64.05h0.8v0.8h-0.8zM251.15 60.26h0.8v0.8h-0.8zM237.83 65.22h0.8v0.8h-0.8zM237.69 69.33h0.8v0.8h-0.8zM232.57 67.64h0.8v0.8h-0.8zM247.24 70.32h0.8v0.8h-0.8zM242.43 60.14h0.8v0.8h-0.8zM243.62 63.95h0.8v0.8h-0.8zM241.8 64.11h0.8v0.8h-0.8zM240.02 65.7h0.8v0.8h-0.8zM236.18 64.22h0.8v0.8h-0.8zM243.39 56.57h0.8v0.8h-0.8zM241.56 75.47h0.8v0.8h-0.8zM250.51 76.62h0.8v0.8h-0.8zM236.31 77.49h0.8v0.8h-0.8zM237.93 71.46h0.8v0.8h-0.8zM234.77 62.5h0.8v0.8h-0.8zM249.01 72.5h0.8v0.8h-0.8zM233.51 64.48h0.8v0.8h-0.8zM245.41 70.1h0.8v0.8h-0.8zM249.37 59.62h0.8v0.8h-0.8zM240 61.8h0.8v0.8h-0.8zM245.13 69.09h0.8v0.8h-0.8zM238.54 65.7h0.8v0.8h-0.8zM240.89 57h0.8v0.8h-0.8zM236.27 65.69h0.8v0.8h-0.8zM246.44 59.29h0.8v0.8h-0.8zM242.95 64.92h0.8v0.8h-0.8zM237.73 62.18h0.8v0.8h-0.8zM237.8 65.42h0.8v0.8h-0.8zM232.12 72.56h0.8v0.8h-0.8zM239.74 72.38h0.8v0.8h-0.8z" fill="#111"/>
<rect x="219.2" y="37.5" width="43.3" height="9.8" fill="none" stroke="#111" stroke-width="1.1"/>
<rect x="219.4" y="74.2" width="42.2" height="3.2" fill="#fff" stroke="#111" stroke-width="1"/>
<text x="211.5" y="43.5" font-size="3.2" fill="#777" stroke="#777" stroke-width="0.2">R5</text>
<text x="211.5" y="77" font-size="3.2" fill="#777" stroke="#777" stroke-width="0.2">R6</text>
<text x="266" y="44.2" font-size="7.3" font-weight="bold" stroke="#000" stroke-width="0.32" textLength="26.5" lengthAdjust="spacingAndGlyphs">High GFP</text>
<text x="267" y="77.7" font-size="7.3" font-weight="bold" stroke="#000" stroke-width="0.32" textLength="25" lengthAdjust="spacingAndGlyphs">Low GFP</text>
<text x="303" y="14.5" font-size="8.6" font-weight="bold" stroke="#000" stroke-width="0.32">ii</text>
<text x="316.6" y="91.2" font-size="5" font-weight="bold" fill="#222" stroke="#222" stroke-width="0.32" text-anchor="end">0</text>
<line x1="319.4" y1="79.82" x2="394" y2="79.82" stroke="#ececec" stroke-width="0.5"/>
<text x="316.6" y="81.52" font-size="5" font-weight="bold" fill="#222" stroke="#222" stroke-width="0.32" text-anchor="end">2</text>
<line x1="319.4" y1="70.14" x2="394" y2="70.14" stroke="#ececec" stroke-width="0.5"/>
<text x="316.6" y="71.84" font-size="5" font-weight="bold" fill="#222" stroke="#222" stroke-width="0.32" text-anchor="end">4</text>
<line x1="319.4" y1="60.46" x2="394" y2="60.46" stroke="#ececec" stroke-width="0.5"/>
<text x="316.6" y="62.16" font-size="5" font-weight="bold" fill="#222" stroke="#222" stroke-width="0.32" text-anchor="end">6</text>
<line x1="319.4" y1="50.78" x2="394" y2="50.78" stroke="#ececec" stroke-width="0.5"/>
<text x="316.6" y="52.48" font-size="5" font-weight="bold" fill="#222" stroke="#222" stroke-width="0.32" text-anchor="end">8</text>
<line x1="319.4" y1="41.1" x2="394" y2="41.1" stroke="#ececec" stroke-width="0.5"/>
<text x="316.6" y="42.8" font-size="5" font-weight="bold" fill="#222" stroke="#222" stroke-width="0.32" text-anchor="end">10</text>
<line x1="319.4" y1="31.42" x2="394" y2="31.42" stroke="#ececec" stroke-width="0.5"/>
<text x="316.6" y="33.12" font-size="5" font-weight="bold" fill="#222" stroke="#222" stroke-width="0.32" text-anchor="end">12</text>
<line x1="319.4" y1="21.74" x2="394" y2="21.74" stroke="#ececec" stroke-width="0.5"/>
<text x="316.6" y="23.44" font-size="5" font-weight="bold" fill="#222" stroke="#222" stroke-width="0.32" text-anchor="end">14</text>
<rect x="319.4" y="21.8" width="74.6" height="67.7" fill="none" stroke="#8a8a8a" stroke-width="0.8"/>
<line x1="319.4" y1="89.5" x2="394" y2="89.5" stroke="#333" stroke-width="0.9"/>
<line x1="319.4" y1="21.8" x2="319.4" y2="89.5" stroke="#444" stroke-width="0.9"/>
<rect x="326.8" y="84.66" width="10" height="4.84" fill="#888" stroke="#111" stroke-width="0.9"/>
<line x1="331.8" y1="84.66" x2="331.8" y2="83.93" stroke="#000" stroke-width="1.7"/>
<rect x="329.75" y="83.63" width="4.1" height="2.2" fill="#000" rx="0.6"/>
<rect x="351.3" y="77.88" width="10.7" height="11.62" fill="#111"/>
<line x1="356.6" y1="77.88" x2="356.6" y2="74.01" stroke="#000" stroke-width="1.7"/>
<rect x="354.3" y="73.71" width="4.6" height="2.2" fill="#000" rx="0.6"/>
<rect x="376.5" y="44.97" width="10.5" height="44.53" fill="#111"/>
<line x1="381.8" y1="44.97" x2="381.8" y2="29.97" stroke="#000" stroke-width="1.7"/>
<rect x="379.5" y="29.67" width="4.6" height="2.2" fill="#000" rx="0.6"/>
<text x="322.55" y="97.9" font-size="5" font-weight="bold" fill="#333" textLength="18.5" lengthAdjust="spacingAndGlyphs" stroke="#333" stroke-width="0.15">VECTOR</text>
<text x="321.05" y="102.8" font-size="5" font-weight="bold" fill="#333" textLength="21.5" lengthAdjust="spacingAndGlyphs" stroke="#333" stroke-width="0.15">HIGH GFP</text>
<text x="349.4" y="97.9" font-size="5" font-weight="bold" fill="#333" textLength="15" lengthAdjust="spacingAndGlyphs" stroke="#333" stroke-width="0.15">GATA-2</text>
<text x="346.65" y="102.8" font-size="5" font-weight="bold" fill="#333" textLength="20.5" lengthAdjust="spacingAndGlyphs" stroke="#333" stroke-width="0.15">LOW GFP</text>
<text x="374.5" y="97.9" font-size="5" font-weight="bold" fill="#333" textLength="15" lengthAdjust="spacingAndGlyphs" stroke="#333" stroke-width="0.15">GATA-2</text>
<text x="371" y="102.8" font-size="5" font-weight="bold" fill="#333" textLength="22" lengthAdjust="spacingAndGlyphs" stroke="#333" stroke-width="0.15">HIGH GFP</text>
<text x="309.2" y="77.2" font-size="4.9" font-weight="bold" fill="#222" stroke="#222" stroke-width="0.32" textLength="40.5" lengthAdjust="spacingAndGlyphs" transform="rotate(-90 309.2 77.2)">RELATIVE TO HPRT</text>
<text x="422.4" y="8.8" font-size="10.6" stroke="#111" stroke-width="0.45">D</text>
<text x="447.8" y="7.2" font-size="5" fill="#333" stroke="#333" stroke-width="0.2" textLength="13.2" lengthAdjust="spacingAndGlyphs">Vector</text>
<text x="463" y="7.2" font-size="5" fill="#333" stroke="#333" stroke-width="0.2" textLength="14" lengthAdjust="spacingAndGlyphs">GATA-2</text>
<path d="M448 11.2 Q448 8.6 451.5 9 L454.3 8.2 L457 9 Q460.5 8.6 460.5 11.2" fill="none" stroke="#222" stroke-width="0.7"/>
<path d="M463.6 11.2 Q463.6 8.6 467 9 L470 8.2 L473 9 Q476.5 8.6 476.5 11.2" fill="none" stroke="#222" stroke-width="0.7"/>
<text x="449.4" y="17" font-size="5.2" fill="#333" stroke="#333" stroke-width="0.2" text-anchor="middle">–</text>
<text x="457" y="17" font-size="5.2" fill="#333" stroke="#333" stroke-width="0.2" text-anchor="middle">+</text>
<text x="465.4" y="17" font-size="5.2" fill="#333" stroke="#333" stroke-width="0.2" text-anchor="middle">–</text>
<text x="473.4" y="17" font-size="5.2" fill="#333" stroke="#333" stroke-width="0.2" text-anchor="middle">+</text>
<text x="482.5" y="17.2" font-size="5" fill="#333" stroke="#333" stroke-width="0.2" textLength="27.5" lengthAdjust="spacingAndGlyphs">α-GATA-2 Ab</text>
<defs><linearGradient id="smear" x1="0" y1="0" x2="0" y2="1"><stop offset="0" stop-color="#c8c8c8" stop-opacity="0"/><stop offset="0.6" stop-color="#8a8a8a" stop-opacity="0.7"/><stop offset="1" stop-color="#555" stop-opacity="0.9"/></linearGradient><filter id="bl1" x="-30%" y="-30%" width="160%" height="160%"><feGaussianBlur stdDeviation="1.1"/></filter><filter id="bl2" x="-30%" y="-30%" width="160%" height="160%"><feGaussianBlur stdDeviation="0.7"/></filter><filter id="bl3" x="-30%" y="-30%" width="160%" height="160%"><feGaussianBlur stdDeviation="1.6"/></filter></defs>
<rect x="443.7" y="17.3" width="34.3" height="98.5" fill="#e9e9e9"/>
<defs><linearGradient id="lanebg" x1="0" y1="0" x2="0" y2="1"><stop offset="0" stop-color="#e4e4e4"/><stop offset="0.3" stop-color="#dedede"/><stop offset="0.7" stop-color="#e0e0e0"/><stop offset="1" stop-color="#d8d8d8"/></linearGradient><linearGradient id="dnab" x1="0" y1="0" x2="0" y2="1"><stop offset="0" stop-color="#b8b8b8"/><stop offset="0.65" stop-color="#686868"/><stop offset="1" stop-color="#8a8a8a"/></linearGradient><linearGradient id="dnab3" x1="0" y1="0" x2="0" y2="1"><stop offset="0" stop-color="#a0a0a0"/><stop offset="0.6" stop-color="#555"/><stop offset="1" stop-color="#7a7a7a"/></linearGradient><linearGradient id="smear2" x1="0" y1="0" x2="0" y2="1"><stop offset="0" stop-color="#aaa" stop-opacity="0"/><stop offset="0.4" stop-color="#a8a8a8" stop-opacity="0.7"/><stop offset="0.8" stop-color="#6a6a6a"/><stop offset="1" stop-color="#444"/></linearGradient><linearGradient id="streak" x1="0" y1="0" x2="0" y2="1"><stop offset="0" stop-color="#555" stop-opacity="0"/><stop offset="1" stop-color="#444" stop-opacity="0.8"/></linearGradient></defs>
<g filter="url(#bl2)">
<rect x="444.2" y="17.8" width="7.9" height="97.5" fill="url(#lanebg)"/>
<rect x="443.7" y="87" width="8.9" height="18.5" fill="url(#smear2)"/>
<rect x="445" y="93.26" width="1" height="11.74" fill="url(#streak)"/>
<rect x="448.11" y="92.56" width="1" height="12.44" fill="url(#streak)"/>
<rect x="450.55" y="91" width="1" height="14" fill="url(#streak)"/>
<rect x="453" y="17.8" width="7.9" height="97.5" fill="url(#lanebg)"/>
<rect x="452.5" y="87" width="8.9" height="18.5" fill="url(#smear2)"/>
<rect x="453.63" y="92.89" width="1" height="12.11" fill="url(#streak)"/>
<rect x="455.99" y="91.57" width="1" height="13.43" fill="url(#streak)"/>
<rect x="459.16" y="88.65" width="1" height="16.35" fill="url(#streak)"/>
<rect x="461.2" y="17.8" width="8.5" height="97.5" fill="url(#lanebg)"/>
<rect x="460.7" y="87" width="9.5" height="18.5" fill="url(#smear2)"/>
<rect x="461.75" y="92.03" width="1" height="12.97" fill="url(#streak)"/>
<rect x="465.38" y="90.34" width="1" height="14.66" fill="url(#streak)"/>
<rect x="467.84" y="92.25" width="1" height="12.75" fill="url(#streak)"/>
<rect x="470" y="17.8" width="8.4" height="97.5" fill="url(#lanebg)"/>
<rect x="469.5" y="87" width="9.4" height="18.5" fill="url(#smear2)"/>
<rect x="471" y="90.78" width="1" height="14.22" fill="url(#streak)"/>
<rect x="473.87" y="92.26" width="1" height="12.74" fill="url(#streak)"/>
<rect x="476.86" y="91.37" width="1" height="13.63" fill="url(#streak)"/>
<rect x="444" y="104.6" width="33.8" height="9.6" fill="#2a2a2a"/>
<rect x="444" y="114.2" width="33.8" height="1.4" fill="#777"/>
<rect x="451.5" y="105.5" width="2.1" height="8" fill="#3a3a3a"/>
<rect x="460.3" y="105.5" width="1.5" height="8" fill="#3a3a3a"/>
<rect x="469.1" y="105.5" width="1.5" height="8" fill="#3a3a3a"/>
</g>
<g filter="url(#bl1)">
<rect x="444.4" y="46.5" width="7.5" height="11.5" fill="url(#dnab)" rx="2"/>
<rect x="453.2" y="46.5" width="7.5" height="11.5" fill="url(#dnab)" rx="2"/>
<rect x="461.4" y="44" width="8.1" height="14" fill="url(#dnab3)" rx="2"/>
<rect x="470.2" y="46.5" width="8" height="11.5" fill="url(#dnab)" rx="2"/>
<ellipse cx="474.2" cy="23.6" rx="3.6" ry="2.4" fill="#333"/>
<ellipse cx="457" cy="23.6" rx="2.6" ry="1.3" fill="#c4c4c4"/>
</g>
<line x1="480" y1="23.8" x2="490.7" y2="23.8" stroke="#000" stroke-width="1.2"/>
<text x="492" y="25.6" font-size="5.2" fill="#333" stroke="#333" stroke-width="0.2" textLength="26.6" lengthAdjust="spacingAndGlyphs">Supershifted</text>
<line x1="481" y1="49.8" x2="489.4" y2="49.8" stroke="#000" stroke-width="1.2"/>
<text x="491.6" y="48.8" font-size="5.2" fill="#333" stroke="#333" stroke-width="0.2" textLength="28.4" lengthAdjust="spacingAndGlyphs">DNA-binding</text>
<text x="491.6" y="54.6" font-size="5.2" fill="#333" stroke="#333" stroke-width="0.2" textLength="28.4" lengthAdjust="spacingAndGlyphs">FLAG-GATA-2</text>
<line x1="481" y1="110.9" x2="489.4" y2="110.9" stroke="#000" stroke-width="1.2"/>
<text x="491.6" y="112.6" font-size="5" fill="#333" stroke="#333" stroke-width="0.2" textLength="19.5" lengthAdjust="spacingAndGlyphs">Free probe</text>
<text x="60.6" y="137.1" font-size="10.8" stroke="#111" stroke-width="0.45">E</text>
<text x="89.4" y="160.6" font-size="7.6" fill="#222" stroke="#222" stroke-width="0.2" textLength="43.5" lengthAdjust="spacingAndGlyphs" transform="rotate(-31.5 89.4 160.6)">Unstimulated</text>
<text x="111.6" y="160.6" font-size="7.6" fill="#222" stroke="#222" stroke-width="0.2" textLength="20.5" lengthAdjust="spacingAndGlyphs" transform="rotate(-31.5 111.6 160.6)">Vector</text>
<text x="134.2" y="160.6" font-size="7.6" fill="#222" stroke="#222" stroke-width="0.2" textLength="22.5" lengthAdjust="spacingAndGlyphs" transform="rotate(-31.5 134.2 160.6)">GATA-2</text>
<rect x="77.3" y="161.2" width="69.7" height="19.2" fill="#e0e0e0"/>
<rect x="77.3" y="183.2" width="69.7" height="18" fill="#e0e0e0"/>
<g filter="url(#bl1)">
<rect x="126.5" y="165.2" width="16.5" height="12.8" fill="#0a0a0a" rx="4"/>
<rect x="125.5" y="167" width="18.5" height="9.5" fill="#111" rx="3"/>
<rect x="104" y="172" width="16.5" height="5" fill="#8c8c8c" rx="2"/>
<ellipse cx="106.5" cy="174.2" rx="3" ry="2.8" fill="#666"/>
<ellipse cx="118.2" cy="174" rx="2.8" ry="2.8" fill="#777"/>
<rect x="82.8" y="190.2" width="15" height="3.2" fill="#aaa" rx="1.5"/>
<rect x="103.5" y="188.8" width="17.5" height="6.4" fill="#777" rx="2.5"/>
<rect x="127.2" y="189.2" width="16.3" height="5.8" fill="#848484" rx="2.5"/>
</g>
<text x="84.2" y="210.4" font-size="6.8" fill="#222" stroke="#222" stroke-width="0.2" textLength="13.1" lengthAdjust="spacingAndGlyphs">0.9x</text>
<text x="108" y="210.4" font-size="6.8" fill="#222" stroke="#222" stroke-width="0.2" textLength="7" lengthAdjust="spacingAndGlyphs">1x</text>
<text x="130" y="210.4" font-size="6.8" fill="#222" stroke="#222" stroke-width="0.2" textLength="7.3" lengthAdjust="spacingAndGlyphs">6x</text>
<text x="151.5" y="173.8" font-size="6.4" fill="#222" stroke="#222" stroke-width="0.2" textLength="19.7" lengthAdjust="spacingAndGlyphs">GATA-2</text>
<text x="151.5" y="194.9" font-size="6.4" fill="#222" stroke="#222" stroke-width="0.2" textLength="29.8" lengthAdjust="spacingAndGlyphs">β-TUBULIN</text>
<text x="151.5" y="209.8" font-size="6.4" fill="#222" stroke="#222" stroke-width="0.2" textLength="38.2" lengthAdjust="spacingAndGlyphs">Densitometry</text>
<text x="151.5" y="217.6" font-size="6.4" fill="#222" stroke="#222" stroke-width="0.2" textLength="43.3" lengthAdjust="spacingAndGlyphs">GATA-2/Tubulin</text>
<text x="210.4" y="137.1" font-size="10.8" stroke="#111" stroke-width="0.45">F</text>
<text x="239.6" y="138.1" font-size="7.6" font-weight="bold" stroke="#000" stroke-width="0.32" textLength="43.9" lengthAdjust="spacingAndGlyphs">Gate 2n DNA</text>
<text x="239.6" y="147.3" font-size="7.6" font-weight="bold" stroke="#000" stroke-width="0.32" textLength="26.2" lengthAdjust="spacingAndGlyphs">content</text>
<path d="M241.2 156.6 Q241.2 154 244 154.2 L245.4 153.2 L246.8 154.2 Q249.6 154 249.6 156.6" fill="none" stroke="#111" stroke-width="0.8"/>
<line x1="247.6" y1="151.2" x2="300" y2="155.6" stroke="#000" stroke-width="0.9"/>
<path d="M305 156 L299.6 153.6 L299.2 157.8 z" fill="#000"/>
<rect x="232" y="159.4" width="49.3" height="49" fill="none" stroke="#9a9a9a" stroke-width="0.6"/>
<line x1="230.8" y1="208.4" x2="232" y2="208.4" stroke="#aaa" stroke-width="0.5"/>
<rect x="227.8" y="207.9" width="2.4" height="1" fill="#c8c8c8"/>
<line x1="230.8" y1="196.15" x2="232" y2="196.15" stroke="#aaa" stroke-width="0.5"/>
<rect x="227.8" y="195.65" width="2.4" height="1" fill="#c8c8c8"/>
<line x1="230.8" y1="183.9" x2="232" y2="183.9" stroke="#aaa" stroke-width="0.5"/>
<rect x="227.8" y="183.4" width="2.4" height="1" fill="#c8c8c8"/>
<line x1="230.8" y1="171.65" x2="232" y2="171.65" stroke="#aaa" stroke-width="0.5"/>
<rect x="227.8" y="171.15" width="2.4" height="1" fill="#c8c8c8"/>
<line x1="230.8" y1="159.4" x2="232" y2="159.4" stroke="#aaa" stroke-width="0.5"/>
<rect x="227.8" y="158.9" width="2.4" height="1" fill="#c8c8c8"/>
<line x1="232" y1="208.4" x2="232" y2="209.6" stroke="#aaa" stroke-width="0.5"/>
<rect x="231" y="210.4" width="2" height="1" fill="#c8c8c8"/>
<line x1="244.32" y1="208.4" x2="244.32" y2="209.6" stroke="#aaa" stroke-width="0.5"/>
<rect x="243.32" y="210.4" width="2" height="1" fill="#c8c8c8"/>
<line x1="256.65" y1="208.4" x2="256.65" y2="209.6" stroke="#aaa" stroke-width="0.5"/>
<rect x="255.65" y="210.4" width="2" height="1" fill="#c8c8c8"/>
<line x1="268.98" y1="208.4" x2="268.98" y2="209.6" stroke="#aaa" stroke-width="0.5"/>
<rect x="267.98" y="210.4" width="2" height="1" fill="#c8c8c8"/>
<line x1="281.3" y1="208.4" x2="281.3" y2="209.6" stroke="#aaa" stroke-width="0.5"/>
<rect x="280.3" y="210.4" width="2" height="1" fill="#c8c8c8"/>
<path d="M252.33 167.43a0.8 0.8 0 1 0 1.6 0a0.8 0.8 0 1 0 -1.6 0M251.22 193.61a0.8 0.8 0 1 0 1.6 0a0.8 0.8 0 1 0 -1.6 0M249.04 175.52a0.8 0.8 0 1 0 1.6 0a0.8 0.8 0 1 0 -1.6 0M255.63 188.24a0.8 0.8 0 1 0 1.6 0a0.8 0.8 0 1 0 -1.6 0M251.55 164.83a0.8 0.8 0 1 0 1.6 0a0.8 0.8 0 1 0 -1.6 0M251.81 171.22a0.8 0.8 0 1 0 1.6 0a0.8 0.8 0 1 0 -1.6 0M248.13 165.63a0.8 0.8 0 1 0 1.6 0a0.8 0.8 0 1 0 -1.6 0M256.44 162.22a0.8 0.8 0 1 0 1.6 0a0.8 0.8 0 1 0 -1.6 0M250.1 177.48a0.8 0.8 0 1 0 1.6 0a0.8 0.8 0 1 0 -1.6 0M250.45 179.09a0.8 0.8 0 1 0 1.6 0a0.8 0.8 0 1 0 -1.6 0M248.5 195.59a0.8 0.8 0 1 0 1.6 0a0.8 0.8 0 1 0 -1.6 0M249.4 161.95a0.8 0.8 0 1 0 1.6 0a0.8 0.8 0 1 0 -1.6 0M254.87 171.74a0.8 0.8 0 1 0 1.6 0a0.8 0.8 0 1 0 -1.6 0M253.91 183.33a0.8 0.8 0 1 0 1.6 0a0.8 0.8 0 1 0 -1.6 0M248.15 188.38a0.8 0.8 0 1 0 1.6 0a0.8 0.8 0 1 0 -1.6 0M253.27 184.69a0.8 0.8 0 1 0 1.6 0a0.8 0.8 0 1 0 -1.6 0M252.96 179.31a0.8 0.8 0 1 0 1.6 0a0.8 0.8 0 1 0 -1.6 0M251.85 193.64a0.8 0.8 0 1 0 1.6 0a0.8 0.8 0 1 0 -1.6 0M247.71 161.26a0.8 0.8 0 1 0 1.6 0a0.8 0.8 0 1 0 -1.6 0M248.04 172.16a0.8 0.8 0 1 0 1.6 0a0.8 0.8 0 1 0 -1.6 0M249.94 194.39a0.8 0.8 0 1 0 1.6 0a0.8 0.8 0 1 0 -1.6 0M251.06 174.32a0.8 0.8 0 1 0 1.6 0a0.8 0.8 0 1 0 -1.6 0M249.06 171.91a0.8 0.8 0 1 0 1.6 0a0.8 0.8 0 1 0 -1.6 0M249.25 187.21a0.8 0.8 0 1 0 1.6 0a0.8 0.8 0 1 0 -1.6 0M251.21 170.03a0.8 0.8 0 1 0 1.6 0a0.8 0.8 0 1 0 -1.6 0M248.52 195.7a0.8 0.8 0 1 0 1.6 0a0.8 0.8 0 1 0 -1.6 0M257.88 160.59a0.8 0.8 0 1 0 1.6 0a0.8 0.8 0 1 0 -1.6 0M253.7 167.97a0.8 0.8 0 1 0 1.6 0a0.8 0.8 0 1 0 -1.6 0M249.77 171.65a0.8 0.8 0 1 0 1.6 0a0.8 0.8 0 1 0 -1.6 0M248.52 161.75a0.8 0.8 0 1 0 1.6 0a0.8 0.8 0 1 0 -1.6 0M248.39 169.51a0.8 0.8 0 1 0 1.6 0a0.8 0.8 0 1 0 -1.6 0M253.88 173.33a0.8 0.8 0 1 0 1.6 0a0.8 0.8 0 1 0 -1.6 0M253.39 183.3a0.8 0.8 0 1 0 1.6 0a0.8 0.8 0 1 0 -1.6 0M250.97 193.74a0.8 0.8 0 1 0 1.6 0a0.8 0.8 0 1 0 -1.6 0M249.89 187.98a0.8 0.8 0 1 0 1.6 0a0.8 0.8 0 1 0 -1.6 0M251.34 162.85a0.8 0.8 0 1 0 1.6 0a0.8 0.8 0 1 0 -1.6 0M250.57 187.15a0.8 0.8 0 1 0 1.6 0a0.8 0.8 0 1 0 -1.6 0M248.24 168.86a0.8 0.8 0 1 0 1.6 0a0.8 0.8 0 1 0 -1.6 0M249.54 167.95a0.8 0.8 0 1 0 1.6 0a0.8 0.8 0 1 0 -1.6 0M249.58 166.62a0.8 0.8 0 1 0 1.6 0a0.8 0.8 0 1 0 -1.6 0M251.75 176.27a0.8 0.8 0 1 0 1.6 0a0.8 0.8 0 1 0 -1.6 0M253.15 176.61a0.8 0.8 0 1 0 1.6 0a0.8 0.8 0 1 0 -1.6 0M250.59 186.99a0.8 0.8 0 1 0 1.6 0a0.8 0.8 0 1 0 -1.6 0M251.69 187.15a0.8 0.8 0 1 0 1.6 0a0.8 0.8 0 1 0 -1.6 0M251.91 179.55a0.8 0.8 0 1 0 1.6 0a0.8 0.8 0 1 0 -1.6 0M249.01 168.85a0.8 0.8 0 1 0 1.6 0a0.8 0.8 0 1 0 -1.6 0M254.02 163.06a0.8 0.8 0 1 0 1.6 0a0.8 0.8 0 1 0 -1.6 0M247.6 164.29a0.8 0.8 0 1 0 1.6 0a0.8 0.8 0 1 0 -1.6 0M249.08 184.8a0.8 0.8 0 1 0 1.6 0a0.8 0.8 0 1 0 -1.6 0M250.37 178.95a0.8 0.8 0 1 0 1.6 0a0.8 0.8 0 1 0 -1.6 0M249.4 193.33a0.8 0.8 0 1 0 1.6 0a0.8 0.8 0 1 0 -1.6 0M253.59 177.48a0.8 0.8 0 1 0 1.6 0a0.8 0.8 0 1 0 -1.6 0M249.38 188.83a0.8 0.8 0 1 0 1.6 0a0.8 0.8 0 1 0 -1.6 0M250.64 183.71a0.8 0.8 0 1 0 1.6 0a0.8 0.8 0 1 0 -1.6 0M251.21 179.88a0.8 0.8 0 1 0 1.6 0a0.8 0.8 0 1 0 -1.6 0M247.96 172.19a0.8 0.8 0 1 0 1.6 0a0.8 0.8 0 1 0 -1.6 0M248.4 189.93a0.8 0.8 0 1 0 1.6 0a0.8 0.8 0 1 0 -1.6 0M250.34 175.76a0.8 0.8 0 1 0 1.6 0a0.8 0.8 0 1 0 -1.6 0M251.65 177.89a0.8 0.8 0 1 0 1.6 0a0.8 0.8 0 1 0 -1.6 0M250.37 178.59a0.8 0.8 0 1 0 1.6 0a0.8 0.8 0 1 0 -1.6 0M252.45 171.62a0.8 0.8 0 1 0 1.6 0a0.8 0.8 0 1 0 -1.6 0M256.29 188.31a0.8 0.8 0 1 0 1.6 0a0.8 0.8 0 1 0 -1.6 0M253.63 161.13a0.8 0.8 0 1 0 1.6 0a0.8 0.8 0 1 0 -1.6 0M249.78 185.34a0.8 0.8 0 1 0 1.6 0a0.8 0.8 0 1 0 -1.6 0M252.65 160.65a0.8 0.8 0 1 0 1.6 0a0.8 0.8 0 1 0 -1.6 0M248.51 195.06a0.8 0.8 0 1 0 1.6 0a0.8 0.8 0 1 0 -1.6 0M248.89 173.05a0.8 0.8 0 1 0 1.6 0a0.8 0.8 0 1 0 -1.6 0M253.08 170.41a0.8 0.8 0 1 0 1.6 0a0.8 0.8 0 1 0 -1.6 0M248.36 163.26a0.8 0.8 0 1 0 1.6 0a0.8 0.8 0 1 0 -1.6 0M251.85 195.34a0.8 0.8 0 1 0 1.6 0a0.8 0.8 0 1 0 -1.6 0M249.9 184.01a0.8 0.8 0 1 0 1.6 0a0.8 0.8 0 1 0 -1.6 0M250.29 185.82a0.8 0.8 0 1 0 1.6 0a0.8 0.8 0 1 0 -1.6 0M248.05 186.1a0.8 0.8 0 1 0 1.6 0a0.8 0.8 0 1 0 -1.6 0M251.35 185.34a0.8 0.8 0 1 0 1.6 0a0.8 0.8 0 1 0 -1.6 0M249.34 172.36a0.8 0.8 0 1 0 1.6 0a0.8 0.8 0 1 0 -1.6 0M248.62 192.92a0.8 0.8 0 1 0 1.6 0a0.8 0.8 0 1 0 -1.6 0M251.73 184.4a0.8 0.8 0 1 0 1.6 0a0.8 0.8 0 1 0 -1.6 0M248.04 175.17a0.8 0.8 0 1 0 1.6 0a0.8 0.8 0 1 0 -1.6 0M251.39 172.86a0.8 0.8 0 1 0 1.6 0a0.8 0.8 0 1 0 -1.6 0M254.12 161.52a0.8 0.8 0 1 0 1.6 0a0.8 0.8 0 1 0 -1.6 0M254.41 186.78a0.8 0.8 0 1 0 1.6 0a0.8 0.8 0 1 0 -1.6 0M254.8 173.09a0.8 0.8 0 1 0 1.6 0a0.8 0.8 0 1 0 -1.6 0M251.56 170.93a0.8 0.8 0 1 0 1.6 0a0.8 0.8 0 1 0 -1.6 0M252.2 169.84a0.8 0.8 0 1 0 1.6 0a0.8 0.8 0 1 0 -1.6 0M249.82 180.93a0.8 0.8 0 1 0 1.6 0a0.8 0.8 0 1 0 -1.6 0M253.74 179.31a0.8 0.8 0 1 0 1.6 0a0.8 0.8 0 1 0 -1.6 0M247.72 194.41a0.8 0.8 0 1 0 1.6 0a0.8 0.8 0 1 0 -1.6 0M249.67 164.99a0.8 0.8 0 1 0 1.6 0a0.8 0.8 0 1 0 -1.6 0M249.59 177.74a0.8 0.8 0 1 0 1.6 0a0.8 0.8 0 1 0 -1.6 0M249.39 174.03a0.8 0.8 0 1 0 1.6 0a0.8 0.8 0 1 0 -1.6 0M248.32 168.06a0.8 0.8 0 1 0 1.6 0a0.8 0.8 0 1 0 -1.6 0M249.08 195.28a0.8 0.8 0 1 0 1.6 0a0.8 0.8 0 1 0 -1.6 0M254.7 175.41a0.8 0.8 0 1 0 1.6 0a0.8 0.8 0 1 0 -1.6 0M248.31 180.63a0.8 0.8 0 1 0 1.6 0a0.8 0.8 0 1 0 -1.6 0M251.81 173.3a0.8 0.8 0 1 0 1.6 0a0.8 0.8 0 1 0 -1.6 0M248.99 186.24a0.8 0.8 0 1 0 1.6 0a0.8 0.8 0 1 0 -1.6 0M252.75 177.62a0.8 0.8 0 1 0 1.6 0a0.8 0.8 0 1 0 -1.6 0M250.27 163.11a0.8 0.8 0 1 0 1.6 0a0.8 0.8 0 1 0 -1.6 0M248.78 193.54a0.8 0.8 0 1 0 1.6 0a0.8 0.8 0 1 0 -1.6 0M253.11 186.09a0.8 0.8 0 1 0 1.6 0a0.8 0.8 0 1 0 -1.6 0M254.39 178.42a0.8 0.8 0 1 0 1.6 0a0.8 0.8 0 1 0 -1.6 0M255.53 172.68a0.8 0.8 0 1 0 1.6 0a0.8 0.8 0 1 0 -1.6 0M248.52 177.96a0.8 0.8 0 1 0 1.6 0a0.8 0.8 0 1 0 -1.6 0M249.71 181.22a0.8 0.8 0 1 0 1.6 0a0.8 0.8 0 1 0 -1.6 0M249.05 194.85a0.8 0.8 0 1 0 1.6 0a0.8 0.8 0 1 0 -1.6 0M256.7 168.81a0.8 0.8 0 1 0 1.6 0a0.8 0.8 0 1 0 -1.6 0M250.46 173.63a0.8 0.8 0 1 0 1.6 0a0.8 0.8 0 1 0 -1.6 0M247.59 174.38a0.8 0.8 0 1 0 1.6 0a0.8 0.8 0 1 0 -1.6 0M255.1 173.28a0.8 0.8 0 1 0 1.6 0a0.8 0.8 0 1 0 -1.6 0M253.38 167.49a0.8 0.8 0 1 0 1.6 0a0.8 0.8 0 1 0 -1.6 0M248.21 163.56a0.8 0.8 0 1 0 1.6 0a0.8 0.8 0 1 0 -1.6 0M252.43 183.18a0.8 0.8 0 1 0 1.6 0a0.8 0.8 0 1 0 -1.6 0M252.13 165.34a0.8 0.8 0 1 0 1.6 0a0.8 0.8 0 1 0 -1.6 0M250.44 170.89a0.8 0.8 0 1 0 1.6 0a0.8 0.8 0 1 0 -1.6 0M251.4 172.87a0.8 0.8 0 1 0 1.6 0a0.8 0.8 0 1 0 -1.6 0M251.05 179.31a0.8 0.8 0 1 0 1.6 0a0.8 0.8 0 1 0 -1.6 0M252.3 180.33a0.8 0.8 0 1 0 1.6 0a0.8 0.8 0 1 0 -1.6 0M248.97 169.05a0.8 0.8 0 1 0 1.6 0a0.8 0.8 0 1 0 -1.6 0M249.22 180.55a0.8 0.8 0 1 0 1.6 0a0.8 0.8 0 1 0 -1.6 0M250.01 182.08a0.8 0.8 0 1 0 1.6 0a0.8 0.8 0 1 0 -1.6 0M248.36 191.5a0.8 0.8 0 1 0 1.6 0a0.8 0.8 0 1 0 -1.6 0M254.98 162.81a0.8 0.8 0 1 0 1.6 0a0.8 0.8 0 1 0 -1.6 0M253.32 171.72a0.8 0.8 0 1 0 1.6 0a0.8 0.8 0 1 0 -1.6 0M252.24 187.31a0.8 0.8 0 1 0 1.6 0a0.8 0.8 0 1 0 -1.6 0M254.02 176.12a0.8 0.8 0 1 0 1.6 0a0.8 0.8 0 1 0 -1.6 0M250.9 173.09a0.8 0.8 0 1 0 1.6 0a0.8 0.8 0 1 0 -1.6 0M254.63 163.05a0.8 0.8 0 1 0 1.6 0a0.8 0.8 0 1 0 -1.6 0M252.4 169.16a0.8 0.8 0 1 0 1.6 0a0.8 0.8 0 1 0 -1.6 0M248.68 191.17a0.8 0.8 0 1 0 1.6 0a0.8 0.8 0 1 0 -1.6 0M247.94 161.15a0.8 0.8 0 1 0 1.6 0a0.8 0.8 0 1 0 -1.6 0M247.62 175.17a0.8 0.8 0 1 0 1.6 0a0.8 0.8 0 1 0 -1.6 0M249.28 190.93a0.8 0.8 0 1 0 1.6 0a0.8 0.8 0 1 0 -1.6 0M255.32 173.89a0.8 0.8 0 1 0 1.6 0a0.8 0.8 0 1 0 -1.6 0M253.92 170.45a0.8 0.8 0 1 0 1.6 0a0.8 0.8 0 1 0 -1.6 0M248.63 189.68a0.8 0.8 0 1 0 1.6 0a0.8 0.8 0 1 0 -1.6 0M250.03 166.41a0.8 0.8 0 1 0 1.6 0a0.8 0.8 0 1 0 -1.6 0M251.28 163.11a0.8 0.8 0 1 0 1.6 0a0.8 0.8 0 1 0 -1.6 0M251.42 174.91a0.8 0.8 0 1 0 1.6 0a0.8 0.8 0 1 0 -1.6 0M250.99 191.93a0.8 0.8 0 1 0 1.6 0a0.8 0.8 0 1 0 -1.6 0M247.61 162.61a0.8 0.8 0 1 0 1.6 0a0.8 0.8 0 1 0 -1.6 0M249.95 188.19a0.8 0.8 0 1 0 1.6 0a0.8 0.8 0 1 0 -1.6 0" fill="none" stroke="#777" stroke-width="0.4"/>
<path d="M244.96 182.12h0.8v0.8h-0.8zM245.91 176.44h0.8v0.8h-0.8zM246.03 177.04h0.8v0.8h-0.8zM246.04 174.39h0.8v0.8h-0.8zM246.59 183.39h0.8v0.8h-0.8zM245.39 180.71h0.8v0.8h-0.8zM244.76 178.95h0.8v0.8h-0.8zM246.23 172.69h0.8v0.8h-0.8zM246.51 196.95h0.8v0.8h-0.8zM244.82 161.64h0.8v0.8h-0.8zM246.72 163.77h0.8v0.8h-0.8zM245.61 165.5h0.8v0.8h-0.8zM246.84 168.09h0.8v0.8h-0.8zM246.83 167.62h0.8v0.8h-0.8zM246.17 178.05h0.8v0.8h-0.8zM246.18 192.54h0.8v0.8h-0.8zM246.32 192.77h0.8v0.8h-0.8zM246.65 195.88h0.8v0.8h-0.8zM246.05 179.13h0.8v0.8h-0.8zM246.08 192.6h0.8v0.8h-0.8zM245.38 191.51h0.8v0.8h-0.8zM244.96 180.02h0.8v0.8h-0.8zM247.13 186.86h0.8v0.8h-0.8zM245.64 181.89h0.8v0.8h-0.8zM246.36 169.55h0.8v0.8h-0.8zM246.31 177.3h0.8v0.8h-0.8zM245.48 161.74h0.8v0.8h-0.8zM245.36 177.55h0.8v0.8h-0.8zM246.97 192.67h0.8v0.8h-0.8zM247.14 159.61h0.8v0.8h-0.8zM244.39 193.1h0.8v0.8h-0.8zM246.92 182.62h0.8v0.8h-0.8zM245.14 161.11h0.8v0.8h-0.8zM246.75 165.38h0.8v0.8h-0.8zM245.73 172.64h0.8v0.8h-0.8zM245.88 159.82h0.8v0.8h-0.8zM245.79 173.69h0.8v0.8h-0.8zM245 174.8h0.8v0.8h-0.8zM248.07 185.81h0.8v0.8h-0.8zM245.79 160.52h0.8v0.8h-0.8zM246.9 192.19h0.8v0.8h-0.8zM246.11 189.8h0.8v0.8h-0.8zM247.3 168.21h0.8v0.8h-0.8zM246.47 172.52h0.8v0.8h-0.8zM246.32 192.33h0.8v0.8h-0.8zM246 164.77h0.8v0.8h-0.8zM246.09 170.97h0.8v0.8h-0.8zM245.6 191.36h0.8v0.8h-0.8zM245.71 175.16h0.8v0.8h-0.8zM245.89 180.19h0.8v0.8h-0.8zM246.66 180.11h0.8v0.8h-0.8zM246.51 166.51h0.8v0.8h-0.8zM246.96 174.53h0.8v0.8h-0.8zM245.04 168.09h0.8v0.8h-0.8zM246.39 171.33h0.8v0.8h-0.8zM246.03 183.87h0.8v0.8h-0.8zM245.93 163.92h0.8v0.8h-0.8zM246.31 187.51h0.8v0.8h-0.8zM244.51 178.87h0.8v0.8h-0.8zM246.41 188.02h0.8v0.8h-0.8zM246.3 189.8h0.8v0.8h-0.8zM244.97 194.81h0.8v0.8h-0.8zM246.1 186.14h0.8v0.8h-0.8zM247.48 187.25h0.8v0.8h-0.8zM245.85 174.81h0.8v0.8h-0.8zM246.68 185.31h0.8v0.8h-0.8zM245.99 164.71h0.8v0.8h-0.8zM245.49 173.88h0.8v0.8h-0.8zM245.4 187.84h0.8v0.8h-0.8zM245.84 176.6h0.8v0.8h-0.8zM247.27 183.59h0.8v0.8h-0.8zM246.86 162.52h0.8v0.8h-0.8zM245.58 196.52h0.8v0.8h-0.8zM247.02 169.24h0.8v0.8h-0.8zM246.07 182.88h0.8v0.8h-0.8zM245.59 177.01h0.8v0.8h-0.8zM246.54 190.41h0.8v0.8h-0.8zM245.41 171.97h0.8v0.8h-0.8zM244.85 163.3h0.8v0.8h-0.8zM244.64 173.03h0.8v0.8h-0.8zM246.63 160.58h0.8v0.8h-0.8zM244.89 184.83h0.8v0.8h-0.8zM244.34 181.67h0.8v0.8h-0.8zM246.08 194.65h0.8v0.8h-0.8zM246.15 181.62h0.8v0.8h-0.8zM245.42 181.88h0.8v0.8h-0.8zM246.12 184.43h0.8v0.8h-0.8zM247.01 185.4h0.8v0.8h-0.8zM246.39 185.93h0.8v0.8h-0.8zM245.21 159.9h0.8v0.8h-0.8zM246.5 170.69h0.8v0.8h-0.8zM246.71 180.27h0.8v0.8h-0.8zM248.26 165.93h0.8v0.8h-0.8zM246.94 173.66h0.8v0.8h-0.8zM246.54 169.94h0.8v0.8h-0.8zM247.36 167.48h0.8v0.8h-0.8zM245.34 187.08h0.8v0.8h-0.8zM247.08 171.85h0.8v0.8h-0.8zM245.72 161.97h0.8v0.8h-0.8zM245.66 167.27h0.8v0.8h-0.8zM247.1 177.85h0.8v0.8h-0.8zM247.29 180.96h0.8v0.8h-0.8zM246.41 184.28h0.8v0.8h-0.8zM245.95 182.65h0.8v0.8h-0.8zM244.58 165.33h0.8v0.8h-0.8zM246.36 162.16h0.8v0.8h-0.8zM245.45 168.59h0.8v0.8h-0.8zM247.35 193.62h0.8v0.8h-0.8zM246.1 186.68h0.8v0.8h-0.8zM246.6 175.75h0.8v0.8h-0.8zM246.19 170.04h0.8v0.8h-0.8zM246.38 174.56h0.8v0.8h-0.8zM246.81 187.9h0.8v0.8h-0.8zM246.46 169.19h0.8v0.8h-0.8zM246.92 172.79h0.8v0.8h-0.8zM245.89 172.05h0.8v0.8h-0.8zM246.28 183.92h0.8v0.8h-0.8zM246.15 159.73h0.8v0.8h-0.8zM245.66 168.4h0.8v0.8h-0.8zM246.98 179.48h0.8v0.8h-0.8zM245.73 168.5h0.8v0.8h-0.8zM245.15 188.38h0.8v0.8h-0.8zM246.69 191.68h0.8v0.8h-0.8zM247 177.94h0.8v0.8h-0.8zM245.97 171.93h0.8v0.8h-0.8zM246.3 180.95h0.8v0.8h-0.8zM245.49 178.09h0.8v0.8h-0.8zM246.02 160.11h0.8v0.8h-0.8zM247.12 192.39h0.8v0.8h-0.8zM246.86 180.46h0.8v0.8h-0.8zM246.32 188.4h0.8v0.8h-0.8zM244.84 189.64h0.8v0.8h-0.8zM246.58 185.96h0.8v0.8h-0.8zM247.88 177.78h0.8v0.8h-0.8zM246.51 176.43h0.8v0.8h-0.8zM246.99 180.34h0.8v0.8h-0.8zM245.27 173.96h0.8v0.8h-0.8zM247.2 184.25h0.8v0.8h-0.8zM246.92 170.69h0.8v0.8h-0.8zM247.33 180.49h0.8v0.8h-0.8zM246.76 167.53h0.8v0.8h-0.8zM246.58 178.64h0.8v0.8h-0.8zM247.43 191.3h0.8v0.8h-0.8zM245.65 170.31h0.8v0.8h-0.8zM246.74 186.66h0.8v0.8h-0.8zM247.1 164.71h0.8v0.8h-0.8zM245.55 171.98h0.8v0.8h-0.8zM245.24 173.89h0.8v0.8h-0.8zM246.56 194.83h0.8v0.8h-0.8zM246.31 166.41h0.8v0.8h-0.8zM246.71 194.43h0.8v0.8h-0.8zM245.57 174.99h0.8v0.8h-0.8zM246.49 190.11h0.8v0.8h-0.8zM247.14 187.04h0.8v0.8h-0.8zM245.91 162.95h0.8v0.8h-0.8zM245.97 159.93h0.8v0.8h-0.8zM245.27 189.61h0.8v0.8h-0.8zM247.83 185.4h0.8v0.8h-0.8zM245.07 169.84h0.8v0.8h-0.8zM246.84 177.04h0.8v0.8h-0.8zM245.9 189.07h0.8v0.8h-0.8zM245.56 181.71h0.8v0.8h-0.8zM246.35 177.94h0.8v0.8h-0.8zM246.75 175.76h0.8v0.8h-0.8zM246.31 196.09h0.8v0.8h-0.8zM246.38 181.68h0.8v0.8h-0.8zM245.24 178.96h0.8v0.8h-0.8zM247.42 166.55h0.8v0.8h-0.8zM247.68 177.56h0.8v0.8h-0.8zM246.6 178.29h0.8v0.8h-0.8zM244.89 188.31h0.8v0.8h-0.8zM246.81 190.54h0.8v0.8h-0.8zM246.01 185.56h0.8v0.8h-0.8zM245.43 180.55h0.8v0.8h-0.8zM246.62 180.2h0.8v0.8h-0.8zM245.16 169.86h0.8v0.8h-0.8zM245.67 193.72h0.8v0.8h-0.8zM246.92 196.2h0.8v0.8h-0.8zM244.56 187.17h0.8v0.8h-0.8zM246.43 188.68h0.8v0.8h-0.8zM245.9 162.51h0.8v0.8h-0.8zM244.77 178.24h0.8v0.8h-0.8zM246.08 159.61h0.8v0.8h-0.8zM244.89 189.83h0.8v0.8h-0.8zM245.78 160.18h0.8v0.8h-0.8zM247.56 174.07h0.8v0.8h-0.8zM246.65 165.47h0.8v0.8h-0.8zM246.87 170.45h0.8v0.8h-0.8zM246.72 183.58h0.8v0.8h-0.8zM246.52 169.1h0.8v0.8h-0.8zM247.03 180.21h0.8v0.8h-0.8zM245.26 162.86h0.8v0.8h-0.8zM245.93 196.89h0.8v0.8h-0.8zM246.93 167.94h0.8v0.8h-0.8zM245.62 191.44h0.8v0.8h-0.8zM247.5 162.99h0.8v0.8h-0.8zM245.73 174.14h0.8v0.8h-0.8zM245.55 193.68h0.8v0.8h-0.8zM246.71 170.18h0.8v0.8h-0.8zM246.45 182.44h0.8v0.8h-0.8zM245.67 166.69h0.8v0.8h-0.8zM246.73 185.05h0.8v0.8h-0.8zM246.69 159.81h0.8v0.8h-0.8zM246.3 188.93h0.8v0.8h-0.8zM247.08 179.49h0.8v0.8h-0.8zM245.64 191.98h0.8v0.8h-0.8zM246.5 193.09h0.8v0.8h-0.8zM246.29 171.01h0.8v0.8h-0.8zM245.76 185.87h0.8v0.8h-0.8zM246.45 184.24h0.8v0.8h-0.8zM246.19 185.47h0.8v0.8h-0.8zM245.83 174.38h0.8v0.8h-0.8zM246.92 195.34h0.8v0.8h-0.8zM244.91 195.63h0.8v0.8h-0.8zM246.92 167.84h0.8v0.8h-0.8zM246.24 168.39h0.8v0.8h-0.8zM246.46 179.73h0.8v0.8h-0.8zM244.26 186.34h0.8v0.8h-0.8zM247.63 171.13h0.8v0.8h-0.8zM244.8 175.36h0.8v0.8h-0.8zM245.52 185.71h0.8v0.8h-0.8zM246.77 183.03h0.8v0.8h-0.8zM245.73 193.59h0.8v0.8h-0.8zM245.9 180.39h0.8v0.8h-0.8zM244.38 164.32h0.8v0.8h-0.8zM246.41 188.57h0.8v0.8h-0.8zM246.8 172.21h0.8v0.8h-0.8zM246 172h0.8v0.8h-0.8zM246.42 172.83h0.8v0.8h-0.8zM245.68 171.38h0.8v0.8h-0.8zM247.87 171.2h0.8v0.8h-0.8zM245.53 164.14h0.8v0.8h-0.8zM246.3 183.35h0.8v0.8h-0.8zM247.46 173.89h0.8v0.8h-0.8zM245.71 179.27h0.8v0.8h-0.8zM246.67 187.39h0.8v0.8h-0.8zM246.51 166.1h0.8v0.8h-0.8zM246.05 173.65h0.8v0.8h-0.8zM246.5 171.86h0.8v0.8h-0.8zM246.17 177.98h0.8v0.8h-0.8zM246.87 188.36h0.8v0.8h-0.8zM245.08 163.21h0.8v0.8h-0.8zM246.16 176.02h0.8v0.8h-0.8zM245.49 191.29h0.8v0.8h-0.8zM247.35 168.82h0.8v0.8h-0.8zM246.58 173.04h0.8v0.8h-0.8zM245.6 161.73h0.8v0.8h-0.8zM247.08 193.36h0.8v0.8h-0.8zM245.04 160.39h0.8v0.8h-0.8zM246.54 182.23h0.8v0.8h-0.8zM246.31 181.65h0.8v0.8h-0.8zM245.82 167.56h0.8v0.8h-0.8zM246.31 177.58h0.8v0.8h-0.8zM245.34 175.53h0.8v0.8h-0.8zM246.43 169.75h0.8v0.8h-0.8zM245.22 177.6h0.8v0.8h-0.8zM245.17 177.61h0.8v0.8h-0.8zM247.4 162.18h0.8v0.8h-0.8zM244.48 164.64h0.8v0.8h-0.8zM247.05 178.61h0.8v0.8h-0.8zM245.59 196.8h0.8v0.8h-0.8zM246.19 181.39h0.8v0.8h-0.8zM247.01 190.51h0.8v0.8h-0.8zM246.53 178.63h0.8v0.8h-0.8zM247.67 192.79h0.8v0.8h-0.8zM246.13 178.69h0.8v0.8h-0.8zM246.74 182.52h0.8v0.8h-0.8zM245.4 172.74h0.8v0.8h-0.8zM246.38 176.75h0.8v0.8h-0.8zM246.37 176.87h0.8v0.8h-0.8zM244.59 168.29h0.8v0.8h-0.8zM245.92 190.7h0.8v0.8h-0.8zM246.89 172.31h0.8v0.8h-0.8zM246.54 185.71h0.8v0.8h-0.8zM245.4 185.72h0.8v0.8h-0.8zM245.26 173.31h0.8v0.8h-0.8zM246.35 175.83h0.8v0.8h-0.8zM246.42 186.56h0.8v0.8h-0.8zM245.51 183.16h0.8v0.8h-0.8zM246.75 180.25h0.8v0.8h-0.8zM247.07 161.42h0.8v0.8h-0.8zM246.97 166.47h0.8v0.8h-0.8zM244.59 167.6h0.8v0.8h-0.8zM246.42 183.71h0.8v0.8h-0.8zM244.46 162.51h0.8v0.8h-0.8zM246.3 182.24h0.8v0.8h-0.8zM246.65 179.04h0.8v0.8h-0.8zM245.25 168.76h0.8v0.8h-0.8zM247.6 178.22h0.8v0.8h-0.8zM244.77 179.49h0.8v0.8h-0.8zM247.53 161.86h0.8v0.8h-0.8zM247.29 196.39h0.8v0.8h-0.8zM246.7 195.05h0.8v0.8h-0.8zM245.49 171.74h0.8v0.8h-0.8zM247.03 162.65h0.8v0.8h-0.8zM247.8 190.25h0.8v0.8h-0.8zM246.93 175.96h0.8v0.8h-0.8zM247.59 179.77h0.8v0.8h-0.8zM245.59 185.79h0.8v0.8h-0.8zM247.1 161.03h0.8v0.8h-0.8zM247.03 188.21h0.8v0.8h-0.8zM246.31 167.51h0.8v0.8h-0.8zM246.62 166.91h0.8v0.8h-0.8zM246.05 187.24h0.8v0.8h-0.8zM246.19 187.5h0.8v0.8h-0.8zM246.15 181.86h0.8v0.8h-0.8zM246.32 184.53h0.8v0.8h-0.8zM246.74 183.44h0.8v0.8h-0.8zM246.66 175.55h0.8v0.8h-0.8zM246.92 175.89h0.8v0.8h-0.8zM245.82 173.26h0.8v0.8h-0.8zM247.63 174.55h0.8v0.8h-0.8zM246.22 179.85h0.8v0.8h-0.8zM246.48 173.13h0.8v0.8h-0.8zM245.6 161.98h0.8v0.8h-0.8zM246.26 194.29h0.8v0.8h-0.8zM245.72 189.79h0.8v0.8h-0.8zM246.28 172.53h0.8v0.8h-0.8zM246.37 182.96h0.8v0.8h-0.8zM247.3 167.72h0.8v0.8h-0.8zM245.98 179.06h0.8v0.8h-0.8zM244.56 193.41h0.8v0.8h-0.8zM244.69 165.78h0.8v0.8h-0.8zM245.16 175.92h0.8v0.8h-0.8zM247.12 165.95h0.8v0.8h-0.8zM245.7 189.16h0.8v0.8h-0.8zM245.71 179.35h0.8v0.8h-0.8zM246.17 162.43h0.8v0.8h-0.8zM244.76 189.14h0.8v0.8h-0.8zM246.65 185.71h0.8v0.8h-0.8zM245.95 168.93h0.8v0.8h-0.8zM247.8 170.1h0.8v0.8h-0.8zM247.09 175.31h0.8v0.8h-0.8zM245.67 189.1h0.8v0.8h-0.8zM247.11 191.07h0.8v0.8h-0.8zM245.42 184.92h0.8v0.8h-0.8zM246.87 188.49h0.8v0.8h-0.8zM245.87 167.82h0.8v0.8h-0.8zM245.55 169.55h0.8v0.8h-0.8zM246.12 194.03h0.8v0.8h-0.8zM246.65 183.01h0.8v0.8h-0.8zM246.59 164.8h0.8v0.8h-0.8zM247.58 183.74h0.8v0.8h-0.8zM246.94 188.55h0.8v0.8h-0.8zM245.91 177.97h0.8v0.8h-0.8zM244.56 168.86h0.8v0.8h-0.8zM245.92 182.23h0.8v0.8h-0.8zM245.12 178.54h0.8v0.8h-0.8zM245.25 166.63h0.8v0.8h-0.8zM246.37 181.34h0.8v0.8h-0.8zM247.59 179.73h0.8v0.8h-0.8zM246.52 172h0.8v0.8h-0.8zM246.7 190.36h0.8v0.8h-0.8zM247.73 177.88h0.8v0.8h-0.8zM245.82 191.7h0.8v0.8h-0.8zM245.41 173.18h0.8v0.8h-0.8zM246.47 164.18h0.8v0.8h-0.8zM247.13 183.07h0.8v0.8h-0.8zM247.41 175.07h0.8v0.8h-0.8zM246.22 178.42h0.8v0.8h-0.8zM245.65 167.56h0.8v0.8h-0.8zM245.6 184.45h0.8v0.8h-0.8zM245.07 177.36h0.8v0.8h-0.8zM247.4 172.89h0.8v0.8h-0.8zM244.24 181.2h0.8v0.8h-0.8zM244.41 193.51h0.8v0.8h-0.8zM247.44 167.91h0.8v0.8h-0.8zM244.89 164.64h0.8v0.8h-0.8zM246.53 193.08h0.8v0.8h-0.8zM245.18 167.44h0.8v0.8h-0.8zM246.91 177.85h0.8v0.8h-0.8zM246.92 183.21h0.8v0.8h-0.8zM246.4 187.06h0.8v0.8h-0.8zM246.95 176.44h0.8v0.8h-0.8zM246.3 160.12h0.8v0.8h-0.8zM246.73 191.03h0.8v0.8h-0.8zM247.8 169.99h0.8v0.8h-0.8zM247.19 168.73h0.8v0.8h-0.8zM245.57 189.1h0.8v0.8h-0.8zM246.05 160.88h0.8v0.8h-0.8zM246.06 169.29h0.8v0.8h-0.8zM246.32 172.73h0.8v0.8h-0.8zM245.74 165.4h0.8v0.8h-0.8zM246.29 187.97h0.8v0.8h-0.8zM246.56 187.58h0.8v0.8h-0.8zM246.26 179.84h0.8v0.8h-0.8zM246.78 170.45h0.8v0.8h-0.8zM245.24 179.37h0.8v0.8h-0.8zM247.6 185.57h0.8v0.8h-0.8zM246.55 161.13h0.8v0.8h-0.8zM246.64 171.45h0.8v0.8h-0.8zM246.78 168.15h0.8v0.8h-0.8zM247.18 186.4h0.8v0.8h-0.8zM246.88 180.08h0.8v0.8h-0.8zM246.11 167.31h0.8v0.8h-0.8zM246.44 162.17h0.8v0.8h-0.8zM246 178.46h0.8v0.8h-0.8zM246 167.12h0.8v0.8h-0.8zM248.3 194.37h0.8v0.8h-0.8zM244.68 175.33h0.8v0.8h-0.8zM246.31 169.91h0.8v0.8h-0.8zM247.08 172.69h0.8v0.8h-0.8zM247.32 188.27h0.8v0.8h-0.8zM245.19 186h0.8v0.8h-0.8zM246.01 172.66h0.8v0.8h-0.8zM247.72 160.94h0.8v0.8h-0.8zM246.46 178.08h0.8v0.8h-0.8zM246.43 167.2h0.8v0.8h-0.8zM246.64 167.82h0.8v0.8h-0.8zM246.04 167.04h0.8v0.8h-0.8zM246.37 174.9h0.8v0.8h-0.8zM245.69 168.95h0.8v0.8h-0.8zM245.86 183.76h0.8v0.8h-0.8zM246.49 168.63h0.8v0.8h-0.8zM245.07 193.52h0.8v0.8h-0.8zM245 183.94h0.8v0.8h-0.8zM246.66 185.11h0.8v0.8h-0.8zM246.46 178.81h0.8v0.8h-0.8zM245.45 194.95h0.8v0.8h-0.8zM246.08 171.43h0.8v0.8h-0.8zM245.38 161.78h0.8v0.8h-0.8zM248.01 181.16h0.8v0.8h-0.8zM247.73 170.82h0.8v0.8h-0.8zM245.57 179.27h0.8v0.8h-0.8zM246.63 170.13h0.8v0.8h-0.8zM246.05 194.35h0.8v0.8h-0.8zM245.95 186.3h0.8v0.8h-0.8zM247.07 177.79h0.8v0.8h-0.8zM246.97 170.35h0.8v0.8h-0.8zM246.03 192h0.8v0.8h-0.8zM245.5 166.32h0.8v0.8h-0.8zM248.04 170.12h0.8v0.8h-0.8zM247.47 186.94h0.8v0.8h-0.8zM246.39 184.75h0.8v0.8h-0.8zM246.52 173h0.8v0.8h-0.8zM247.29 185.66h0.8v0.8h-0.8zM245.45 194.31h0.8v0.8h-0.8zM246.29 173.73h0.8v0.8h-0.8zM247.81 166.48h0.8v0.8h-0.8zM246.2 169.15h0.8v0.8h-0.8zM247.47 183.95h0.8v0.8h-0.8zM246.02 186.49h0.8v0.8h-0.8zM245.48 184.85h0.8v0.8h-0.8zM246.71 165.06h0.8v0.8h-0.8zM244.55 190.02h0.8v0.8h-0.8zM246.28 190.54h0.8v0.8h-0.8zM247.03 196.39h0.8v0.8h-0.8zM246.48 197.18h0.8v0.8h-0.8zM245.67 189.34h0.8v0.8h-0.8zM246.49 193.23h0.8v0.8h-0.8zM247.21 189.5h0.8v0.8h-0.8zM246.14 194.37h0.8v0.8h-0.8zM246.57 196.92h0.8v0.8h-0.8zM246.12 194.81h0.8v0.8h-0.8zM245.85 195.69h0.8v0.8h-0.8zM246.55 192.55h0.8v0.8h-0.8zM245.12 186.93h0.8v0.8h-0.8zM247.8 186.89h0.8v0.8h-0.8zM244.57 192.7h0.8v0.8h-0.8zM247.07 194.77h0.8v0.8h-0.8zM244.82 196.92h0.8v0.8h-0.8zM248.37 191.93h0.8v0.8h-0.8zM247.58 193.23h0.8v0.8h-0.8zM245.5 193.79h0.8v0.8h-0.8zM245.95 196.28h0.8v0.8h-0.8zM245.11 192.78h0.8v0.8h-0.8zM246.43 189.62h0.8v0.8h-0.8zM247.01 196.34h0.8v0.8h-0.8zM244.81 194.18h0.8v0.8h-0.8zM248.03 189.08h0.8v0.8h-0.8zM245.78 192.98h0.8v0.8h-0.8zM246.84 187.7h0.8v0.8h-0.8zM247.59 186.81h0.8v0.8h-0.8zM247.17 192.27h0.8v0.8h-0.8zM247.02 191.66h0.8v0.8h-0.8zM246.26 194.75h0.8v0.8h-0.8zM246.49 197.44h0.8v0.8h-0.8zM246.69 192.89h0.8v0.8h-0.8zM247.98 198.51h0.8v0.8h-0.8zM244.69 191.19h0.8v0.8h-0.8zM245.89 195.35h0.8v0.8h-0.8zM244.96 189.09h0.8v0.8h-0.8z" fill="#111"/>
<line x1="232" y1="188.2" x2="281.3" y2="188.2" stroke="#333" stroke-width="1.1"/>
<line x1="249.2" y1="188.2" x2="249.2" y2="208.4" stroke="#888" stroke-width="1"/>
<line x1="312" y1="218" x2="312" y2="161.5" stroke="#000" stroke-width="2.3"/>
<path d="M312 154.5L309.4 162.5L314.6 162.5z" fill="#000"/>
<line x1="310.9" y1="217" x2="432" y2="217" stroke="#000" stroke-width="2.3"/>
<path d="M440 217L431 214.4L431 219.6z" fill="#000"/>
<text x="305.6" y="203.8" font-size="7.8" font-weight="bold" stroke="#000" stroke-width="0.32" textLength="33.5" lengthAdjust="spacingAndGlyphs" transform="rotate(-90 305.6 203.8)">Pyronin Y</text>
<text x="355.6" y="227.8" font-size="8" font-weight="bold" stroke="#000" stroke-width="0.32" textLength="52.1" lengthAdjust="spacingAndGlyphs">Hoechst 33342</text>
<text x="337" y="137.8" font-size="7.6" font-weight="bold" stroke="#000" stroke-width="0.32" textLength="21.5" lengthAdjust="spacingAndGlyphs">Vector</text>
<text x="324.6" y="148.6" font-size="7.6" font-weight="bold" stroke="#000" stroke-width="0.32" textLength="46.2" lengthAdjust="spacingAndGlyphs">CD34+ CD38-</text>
<text x="397.7" y="137.8" font-size="7.6" font-weight="bold" stroke="#000" stroke-width="0.32" textLength="25.3" lengthAdjust="spacingAndGlyphs">GATA-2</text>
<text x="388.5" y="148.6" font-size="7.6" font-weight="bold" stroke="#000" stroke-width="0.32" textLength="45.3" lengthAdjust="spacingAndGlyphs">CD34+ CD38-</text>
<rect x="322.3" y="152" width="57.4" height="56.5" fill="none" stroke="#9a9a9a" stroke-width="0.6"/>
<line x1="321.1" y1="208.5" x2="322.3" y2="208.5" stroke="#aaa" stroke-width="0.5"/>
<rect x="318.1" y="208" width="2.4" height="1" fill="#c8c8c8"/>
<line x1="321.1" y1="194.38" x2="322.3" y2="194.38" stroke="#aaa" stroke-width="0.5"/>
<rect x="318.1" y="193.88" width="2.4" height="1" fill="#c8c8c8"/>
<line x1="321.1" y1="180.25" x2="322.3" y2="180.25" stroke="#aaa" stroke-width="0.5"/>
<rect x="318.1" y="179.75" width="2.4" height="1" fill="#c8c8c8"/>
<line x1="321.1" y1="166.12" x2="322.3" y2="166.12" stroke="#aaa" stroke-width="0.5"/>
<rect x="318.1" y="165.62" width="2.4" height="1" fill="#c8c8c8"/>
<line x1="321.1" y1="152" x2="322.3" y2="152" stroke="#aaa" stroke-width="0.5"/>
<rect x="318.1" y="151.5" width="2.4" height="1" fill="#c8c8c8"/>
<line x1="322.3" y1="208.5" x2="322.3" y2="209.7" stroke="#aaa" stroke-width="0.5"/>
<rect x="321.3" y="210.5" width="2" height="1" fill="#c8c8c8"/>
<line x1="336.65" y1="208.5" x2="336.65" y2="209.7" stroke="#aaa" stroke-width="0.5"/>
<rect x="335.65" y="210.5" width="2" height="1" fill="#c8c8c8"/>
<line x1="351" y1="208.5" x2="351" y2="209.7" stroke="#aaa" stroke-width="0.5"/>
<rect x="350" y="210.5" width="2" height="1" fill="#c8c8c8"/>
<line x1="365.35" y1="208.5" x2="365.35" y2="209.7" stroke="#aaa" stroke-width="0.5"/>
<rect x="364.35" y="210.5" width="2" height="1" fill="#c8c8c8"/>
<line x1="379.7" y1="208.5" x2="379.7" y2="209.7" stroke="#aaa" stroke-width="0.5"/>
<rect x="378.7" y="210.5" width="2" height="1" fill="#c8c8c8"/>
<path d="M338.83 154.43a0.75 0.75 0 1 0 1.5 0a0.75 0.75 0 1 0 -1.5 0M338.35 187.48a0.75 0.75 0 1 0 1.5 0a0.75 0.75 0 1 0 -1.5 0M335.94 184.86a0.75 0.75 0 1 0 1.5 0a0.75 0.75 0 1 0 -1.5 0M337.48 190.66a0.75 0.75 0 1 0 1.5 0a0.75 0.75 0 1 0 -1.5 0M339.21 169.55a0.75 0.75 0 1 0 1.5 0a0.75 0.75 0 1 0 -1.5 0M338.11 167.06a0.75 0.75 0 1 0 1.5 0a0.75 0.75 0 1 0 -1.5 0M339.44 171.07a0.75 0.75 0 1 0 1.5 0a0.75 0.75 0 1 0 -1.5 0M339.29 172.56a0.75 0.75 0 1 0 1.5 0a0.75 0.75 0 1 0 -1.5 0M340.62 167.82a0.75 0.75 0 1 0 1.5 0a0.75 0.75 0 1 0 -1.5 0M340.31 175.62a0.75 0.75 0 1 0 1.5 0a0.75 0.75 0 1 0 -1.5 0M339.43 174.26a0.75 0.75 0 1 0 1.5 0a0.75 0.75 0 1 0 -1.5 0M339.63 184.46a0.75 0.75 0 1 0 1.5 0a0.75 0.75 0 1 0 -1.5 0M340.47 170.49a0.75 0.75 0 1 0 1.5 0a0.75 0.75 0 1 0 -1.5 0M339.63 157.84a0.75 0.75 0 1 0 1.5 0a0.75 0.75 0 1 0 -1.5 0M337.65 157.62a0.75 0.75 0 1 0 1.5 0a0.75 0.75 0 1 0 -1.5 0M338.75 156.26a0.75 0.75 0 1 0 1.5 0a0.75 0.75 0 1 0 -1.5 0M339.34 159.07a0.75 0.75 0 1 0 1.5 0a0.75 0.75 0 1 0 -1.5 0M341.07 169.95a0.75 0.75 0 1 0 1.5 0a0.75 0.75 0 1 0 -1.5 0M338.72 180.68a0.75 0.75 0 1 0 1.5 0a0.75 0.75 0 1 0 -1.5 0M335.91 192.81a0.75 0.75 0 1 0 1.5 0a0.75 0.75 0 1 0 -1.5 0M337.22 166.22a0.75 0.75 0 1 0 1.5 0a0.75 0.75 0 1 0 -1.5 0M341.04 179.21a0.75 0.75 0 1 0 1.5 0a0.75 0.75 0 1 0 -1.5 0M336.37 153.16a0.75 0.75 0 1 0 1.5 0a0.75 0.75 0 1 0 -1.5 0M338.9 192.62a0.75 0.75 0 1 0 1.5 0a0.75 0.75 0 1 0 -1.5 0M338.22 167.1a0.75 0.75 0 1 0 1.5 0a0.75 0.75 0 1 0 -1.5 0M338.45 155.96a0.75 0.75 0 1 0 1.5 0a0.75 0.75 0 1 0 -1.5 0M341.19 191.63a0.75 0.75 0 1 0 1.5 0a0.75 0.75 0 1 0 -1.5 0M337.71 152.98a0.75 0.75 0 1 0 1.5 0a0.75 0.75 0 1 0 -1.5 0M336.87 170.07a0.75 0.75 0 1 0 1.5 0a0.75 0.75 0 1 0 -1.5 0M338.46 180.69a0.75 0.75 0 1 0 1.5 0a0.75 0.75 0 1 0 -1.5 0M338.29 167.26a0.75 0.75 0 1 0 1.5 0a0.75 0.75 0 1 0 -1.5 0M339.27 183.79a0.75 0.75 0 1 0 1.5 0a0.75 0.75 0 1 0 -1.5 0M338.03 160.81a0.75 0.75 0 1 0 1.5 0a0.75 0.75 0 1 0 -1.5 0M337.72 179.66a0.75 0.75 0 1 0 1.5 0a0.75 0.75 0 1 0 -1.5 0M338.61 186.84a0.75 0.75 0 1 0 1.5 0a0.75 0.75 0 1 0 -1.5 0M338.39 191.22a0.75 0.75 0 1 0 1.5 0a0.75 0.75 0 1 0 -1.5 0M337.42 180.4a0.75 0.75 0 1 0 1.5 0a0.75 0.75 0 1 0 -1.5 0M337.32 194.52a0.75 0.75 0 1 0 1.5 0a0.75 0.75 0 1 0 -1.5 0M338.62 190.11a0.75 0.75 0 1 0 1.5 0a0.75 0.75 0 1 0 -1.5 0M339.78 179.86a0.75 0.75 0 1 0 1.5 0a0.75 0.75 0 1 0 -1.5 0M338.78 189.89a0.75 0.75 0 1 0 1.5 0a0.75 0.75 0 1 0 -1.5 0M337.61 194.61a0.75 0.75 0 1 0 1.5 0a0.75 0.75 0 1 0 -1.5 0M337.65 177.36a0.75 0.75 0 1 0 1.5 0a0.75 0.75 0 1 0 -1.5 0M337.75 181.31a0.75 0.75 0 1 0 1.5 0a0.75 0.75 0 1 0 -1.5 0M338.01 188.04a0.75 0.75 0 1 0 1.5 0a0.75 0.75 0 1 0 -1.5 0M341.49 159.92a0.75 0.75 0 1 0 1.5 0a0.75 0.75 0 1 0 -1.5 0M339.44 179.52a0.75 0.75 0 1 0 1.5 0a0.75 0.75 0 1 0 -1.5 0M338.22 180.79a0.75 0.75 0 1 0 1.5 0a0.75 0.75 0 1 0 -1.5 0M336.83 173.89a0.75 0.75 0 1 0 1.5 0a0.75 0.75 0 1 0 -1.5 0M340.33 186.19a0.75 0.75 0 1 0 1.5 0a0.75 0.75 0 1 0 -1.5 0M338.97 187.85a0.75 0.75 0 1 0 1.5 0a0.75 0.75 0 1 0 -1.5 0M340.94 189.15a0.75 0.75 0 1 0 1.5 0a0.75 0.75 0 1 0 -1.5 0M340.32 173.18a0.75 0.75 0 1 0 1.5 0a0.75 0.75 0 1 0 -1.5 0M338.26 162.26a0.75 0.75 0 1 0 1.5 0a0.75 0.75 0 1 0 -1.5 0M339.55 171.64a0.75 0.75 0 1 0 1.5 0a0.75 0.75 0 1 0 -1.5 0M335.92 158.32a0.75 0.75 0 1 0 1.5 0a0.75 0.75 0 1 0 -1.5 0M338.47 194.49a0.75 0.75 0 1 0 1.5 0a0.75 0.75 0 1 0 -1.5 0M338.59 172.34a0.75 0.75 0 1 0 1.5 0a0.75 0.75 0 1 0 -1.5 0M338.37 156.32a0.75 0.75 0 1 0 1.5 0a0.75 0.75 0 1 0 -1.5 0M337.54 190.4a0.75 0.75 0 1 0 1.5 0a0.75 0.75 0 1 0 -1.5 0M337.96 164.71a0.75 0.75 0 1 0 1.5 0a0.75 0.75 0 1 0 -1.5 0M336.48 183.56a0.75 0.75 0 1 0 1.5 0a0.75 0.75 0 1 0 -1.5 0M340.46 187.89a0.75 0.75 0 1 0 1.5 0a0.75 0.75 0 1 0 -1.5 0M336.8 188.47a0.75 0.75 0 1 0 1.5 0a0.75 0.75 0 1 0 -1.5 0M337.41 191.1a0.75 0.75 0 1 0 1.5 0a0.75 0.75 0 1 0 -1.5 0M337.9 188.99a0.75 0.75 0 1 0 1.5 0a0.75 0.75 0 1 0 -1.5 0M340.4 189.78a0.75 0.75 0 1 0 1.5 0a0.75 0.75 0 1 0 -1.5 0M340.39 174.6a0.75 0.75 0 1 0 1.5 0a0.75 0.75 0 1 0 -1.5 0M337.71 178.58a0.75 0.75 0 1 0 1.5 0a0.75 0.75 0 1 0 -1.5 0M338.47 156.52a0.75 0.75 0 1 0 1.5 0a0.75 0.75 0 1 0 -1.5 0M336.71 167.52a0.75 0.75 0 1 0 1.5 0a0.75 0.75 0 1 0 -1.5 0M339.44 189.64a0.75 0.75 0 1 0 1.5 0a0.75 0.75 0 1 0 -1.5 0M341.26 158.86a0.75 0.75 0 1 0 1.5 0a0.75 0.75 0 1 0 -1.5 0M339.7 183.59a0.75 0.75 0 1 0 1.5 0a0.75 0.75 0 1 0 -1.5 0M336.57 182.06a0.75 0.75 0 1 0 1.5 0a0.75 0.75 0 1 0 -1.5 0M338.47 159.6a0.75 0.75 0 1 0 1.5 0a0.75 0.75 0 1 0 -1.5 0M340.16 171.92a0.75 0.75 0 1 0 1.5 0a0.75 0.75 0 1 0 -1.5 0M338.81 191.18a0.75 0.75 0 1 0 1.5 0a0.75 0.75 0 1 0 -1.5 0M338.6 160.87a0.75 0.75 0 1 0 1.5 0a0.75 0.75 0 1 0 -1.5 0M340.52 179.82a0.75 0.75 0 1 0 1.5 0a0.75 0.75 0 1 0 -1.5 0M341.26 171.85a0.75 0.75 0 1 0 1.5 0a0.75 0.75 0 1 0 -1.5 0M339.41 166.66a0.75 0.75 0 1 0 1.5 0a0.75 0.75 0 1 0 -1.5 0M340.49 164.45a0.75 0.75 0 1 0 1.5 0a0.75 0.75 0 1 0 -1.5 0M337.39 167.21a0.75 0.75 0 1 0 1.5 0a0.75 0.75 0 1 0 -1.5 0M338.43 180.11a0.75 0.75 0 1 0 1.5 0a0.75 0.75 0 1 0 -1.5 0M338.29 161.41a0.75 0.75 0 1 0 1.5 0a0.75 0.75 0 1 0 -1.5 0M337.59 155.96a0.75 0.75 0 1 0 1.5 0a0.75 0.75 0 1 0 -1.5 0M339.85 156.08a0.75 0.75 0 1 0 1.5 0a0.75 0.75 0 1 0 -1.5 0M338.13 183.06a0.75 0.75 0 1 0 1.5 0a0.75 0.75 0 1 0 -1.5 0M337.84 157.69a0.75 0.75 0 1 0 1.5 0a0.75 0.75 0 1 0 -1.5 0M338.74 180.52a0.75 0.75 0 1 0 1.5 0a0.75 0.75 0 1 0 -1.5 0M337.81 166.51a0.75 0.75 0 1 0 1.5 0a0.75 0.75 0 1 0 -1.5 0M335.99 179.37a0.75 0.75 0 1 0 1.5 0a0.75 0.75 0 1 0 -1.5 0M338.25 183.44a0.75 0.75 0 1 0 1.5 0a0.75 0.75 0 1 0 -1.5 0M336.31 164.14a0.75 0.75 0 1 0 1.5 0a0.75 0.75 0 1 0 -1.5 0M340.57 188.94a0.75 0.75 0 1 0 1.5 0a0.75 0.75 0 1 0 -1.5 0M339.59 182.78a0.75 0.75 0 1 0 1.5 0a0.75 0.75 0 1 0 -1.5 0M339.4 194.86a0.75 0.75 0 1 0 1.5 0a0.75 0.75 0 1 0 -1.5 0M338.64 169.38a0.75 0.75 0 1 0 1.5 0a0.75 0.75 0 1 0 -1.5 0M337.66 159.55a0.75 0.75 0 1 0 1.5 0a0.75 0.75 0 1 0 -1.5 0M340.27 164.3a0.75 0.75 0 1 0 1.5 0a0.75 0.75 0 1 0 -1.5 0M338.45 166.25a0.75 0.75 0 1 0 1.5 0a0.75 0.75 0 1 0 -1.5 0M339.83 168.01a0.75 0.75 0 1 0 1.5 0a0.75 0.75 0 1 0 -1.5 0M338.74 171.3a0.75 0.75 0 1 0 1.5 0a0.75 0.75 0 1 0 -1.5 0M339.36 161.47a0.75 0.75 0 1 0 1.5 0a0.75 0.75 0 1 0 -1.5 0M339.1 157.82a0.75 0.75 0 1 0 1.5 0a0.75 0.75 0 1 0 -1.5 0M337.23 191.71a0.75 0.75 0 1 0 1.5 0a0.75 0.75 0 1 0 -1.5 0M337.23 153a0.75 0.75 0 1 0 1.5 0a0.75 0.75 0 1 0 -1.5 0M338.79 186.33a0.75 0.75 0 1 0 1.5 0a0.75 0.75 0 1 0 -1.5 0M336.92 179.44a0.75 0.75 0 1 0 1.5 0a0.75 0.75 0 1 0 -1.5 0M338.02 165.37a0.75 0.75 0 1 0 1.5 0a0.75 0.75 0 1 0 -1.5 0M338.26 160.59a0.75 0.75 0 1 0 1.5 0a0.75 0.75 0 1 0 -1.5 0M338.98 193.03a0.75 0.75 0 1 0 1.5 0a0.75 0.75 0 1 0 -1.5 0M338.4 178.47a0.75 0.75 0 1 0 1.5 0a0.75 0.75 0 1 0 -1.5 0M340.04 188.98a0.75 0.75 0 1 0 1.5 0a0.75 0.75 0 1 0 -1.5 0M338.61 154.5a0.75 0.75 0 1 0 1.5 0a0.75 0.75 0 1 0 -1.5 0M336.58 184.21a0.75 0.75 0 1 0 1.5 0a0.75 0.75 0 1 0 -1.5 0M337.86 153.79a0.75 0.75 0 1 0 1.5 0a0.75 0.75 0 1 0 -1.5 0M336.48 158.8a0.75 0.75 0 1 0 1.5 0a0.75 0.75 0 1 0 -1.5 0M339.1 185.81a0.75 0.75 0 1 0 1.5 0a0.75 0.75 0 1 0 -1.5 0M340.87 165.68a0.75 0.75 0 1 0 1.5 0a0.75 0.75 0 1 0 -1.5 0M338.13 179.56a0.75 0.75 0 1 0 1.5 0a0.75 0.75 0 1 0 -1.5 0M339.51 160.77a0.75 0.75 0 1 0 1.5 0a0.75 0.75 0 1 0 -1.5 0M340.55 176.69a0.75 0.75 0 1 0 1.5 0a0.75 0.75 0 1 0 -1.5 0M338.33 175.18a0.75 0.75 0 1 0 1.5 0a0.75 0.75 0 1 0 -1.5 0M340 173.78a0.75 0.75 0 1 0 1.5 0a0.75 0.75 0 1 0 -1.5 0M340.06 180.09a0.75 0.75 0 1 0 1.5 0a0.75 0.75 0 1 0 -1.5 0M339.66 194.58a0.75 0.75 0 1 0 1.5 0a0.75 0.75 0 1 0 -1.5 0M339.68 162.82a0.75 0.75 0 1 0 1.5 0a0.75 0.75 0 1 0 -1.5 0M339.26 191.63a0.75 0.75 0 1 0 1.5 0a0.75 0.75 0 1 0 -1.5 0M336.42 177.39a0.75 0.75 0 1 0 1.5 0a0.75 0.75 0 1 0 -1.5 0M337.01 192.87a0.75 0.75 0 1 0 1.5 0a0.75 0.75 0 1 0 -1.5 0M337.9 159.35a0.75 0.75 0 1 0 1.5 0a0.75 0.75 0 1 0 -1.5 0M337.72 194.9a0.75 0.75 0 1 0 1.5 0a0.75 0.75 0 1 0 -1.5 0M340.14 178.15a0.75 0.75 0 1 0 1.5 0a0.75 0.75 0 1 0 -1.5 0M339.79 159.46a0.75 0.75 0 1 0 1.5 0a0.75 0.75 0 1 0 -1.5 0M338.88 158.79a0.75 0.75 0 1 0 1.5 0a0.75 0.75 0 1 0 -1.5 0M339.54 174.36a0.75 0.75 0 1 0 1.5 0a0.75 0.75 0 1 0 -1.5 0M338.46 176.23a0.75 0.75 0 1 0 1.5 0a0.75 0.75 0 1 0 -1.5 0M338.24 166.19a0.75 0.75 0 1 0 1.5 0a0.75 0.75 0 1 0 -1.5 0M338 180.73a0.75 0.75 0 1 0 1.5 0a0.75 0.75 0 1 0 -1.5 0M338.47 191.9a0.75 0.75 0 1 0 1.5 0a0.75 0.75 0 1 0 -1.5 0M337.38 188.73a0.75 0.75 0 1 0 1.5 0a0.75 0.75 0 1 0 -1.5 0M338.26 180.38a0.75 0.75 0 1 0 1.5 0a0.75 0.75 0 1 0 -1.5 0M340.29 186.94a0.75 0.75 0 1 0 1.5 0a0.75 0.75 0 1 0 -1.5 0M335.75 159.55a0.75 0.75 0 1 0 1.5 0a0.75 0.75 0 1 0 -1.5 0M338.03 168.89a0.75 0.75 0 1 0 1.5 0a0.75 0.75 0 1 0 -1.5 0M339.53 177.54a0.75 0.75 0 1 0 1.5 0a0.75 0.75 0 1 0 -1.5 0M338.86 173.85a0.75 0.75 0 1 0 1.5 0a0.75 0.75 0 1 0 -1.5 0M337.81 177.72a0.75 0.75 0 1 0 1.5 0a0.75 0.75 0 1 0 -1.5 0M338.02 156.28a0.75 0.75 0 1 0 1.5 0a0.75 0.75 0 1 0 -1.5 0M340.92 159.77a0.75 0.75 0 1 0 1.5 0a0.75 0.75 0 1 0 -1.5 0M340.36 164.88a0.75 0.75 0 1 0 1.5 0a0.75 0.75 0 1 0 -1.5 0M340.23 170.23a0.75 0.75 0 1 0 1.5 0a0.75 0.75 0 1 0 -1.5 0M340.07 163.68a0.75 0.75 0 1 0 1.5 0a0.75 0.75 0 1 0 -1.5 0M338.28 163.39a0.75 0.75 0 1 0 1.5 0a0.75 0.75 0 1 0 -1.5 0M338.92 165.37a0.75 0.75 0 1 0 1.5 0a0.75 0.75 0 1 0 -1.5 0M336.73 194.12a0.75 0.75 0 1 0 1.5 0a0.75 0.75 0 1 0 -1.5 0M338.13 189.42a0.75 0.75 0 1 0 1.5 0a0.75 0.75 0 1 0 -1.5 0M337.82 156.61a0.75 0.75 0 1 0 1.5 0a0.75 0.75 0 1 0 -1.5 0M336.35 169.65a0.75 0.75 0 1 0 1.5 0a0.75 0.75 0 1 0 -1.5 0M336.06 192.71a0.75 0.75 0 1 0 1.5 0a0.75 0.75 0 1 0 -1.5 0M339.23 161.61a0.75 0.75 0 1 0 1.5 0a0.75 0.75 0 1 0 -1.5 0M340.64 183.82a0.75 0.75 0 1 0 1.5 0a0.75 0.75 0 1 0 -1.5 0M340.18 192.46a0.75 0.75 0 1 0 1.5 0a0.75 0.75 0 1 0 -1.5 0M336.8 193.97a0.75 0.75 0 1 0 1.5 0a0.75 0.75 0 1 0 -1.5 0M336.18 178.7a0.75 0.75 0 1 0 1.5 0a0.75 0.75 0 1 0 -1.5 0M338.43 163.98a0.75 0.75 0 1 0 1.5 0a0.75 0.75 0 1 0 -1.5 0M338.99 162.03a0.75 0.75 0 1 0 1.5 0a0.75 0.75 0 1 0 -1.5 0M337.9 166.77a0.75 0.75 0 1 0 1.5 0a0.75 0.75 0 1 0 -1.5 0M339.14 190.34a0.75 0.75 0 1 0 1.5 0a0.75 0.75 0 1 0 -1.5 0M335.94 192.9a0.75 0.75 0 1 0 1.5 0a0.75 0.75 0 1 0 -1.5 0M337.64 180.27a0.75 0.75 0 1 0 1.5 0a0.75 0.75 0 1 0 -1.5 0M339.03 174.57a0.75 0.75 0 1 0 1.5 0a0.75 0.75 0 1 0 -1.5 0M340.33 186.96a0.75 0.75 0 1 0 1.5 0a0.75 0.75 0 1 0 -1.5 0M338.95 175.24a0.75 0.75 0 1 0 1.5 0a0.75 0.75 0 1 0 -1.5 0M338.75 160.1a0.75 0.75 0 1 0 1.5 0a0.75 0.75 0 1 0 -1.5 0M338.34 175.35a0.75 0.75 0 1 0 1.5 0a0.75 0.75 0 1 0 -1.5 0M340.15 176.14a0.75 0.75 0 1 0 1.5 0a0.75 0.75 0 1 0 -1.5 0M337.69 157.55a0.75 0.75 0 1 0 1.5 0a0.75 0.75 0 1 0 -1.5 0M338.65 160.57a0.75 0.75 0 1 0 1.5 0a0.75 0.75 0 1 0 -1.5 0M337.97 172.16a0.75 0.75 0 1 0 1.5 0a0.75 0.75 0 1 0 -1.5 0M338.21 169.51a0.75 0.75 0 1 0 1.5 0a0.75 0.75 0 1 0 -1.5 0M338.46 154.57a0.75 0.75 0 1 0 1.5 0a0.75 0.75 0 1 0 -1.5 0M336.23 183.27a0.75 0.75 0 1 0 1.5 0a0.75 0.75 0 1 0 -1.5 0" fill="none" stroke="#333" stroke-width="0.45"/>
<path d="M338.46 160.24h0.8v0.8h-0.8zM340.76 174.76h0.8v0.8h-0.8zM339.81 164.24h0.8v0.8h-0.8zM340.86 170.6h0.8v0.8h-0.8zM338.13 178.27h0.8v0.8h-0.8zM341.05 173.74h0.8v0.8h-0.8zM339.39 165.41h0.8v0.8h-0.8zM340.12 172.22h0.8v0.8h-0.8zM339.03 171.92h0.8v0.8h-0.8zM338.3 188.6h0.8v0.8h-0.8zM339.12 174.42h0.8v0.8h-0.8zM337.34 171.65h0.8v0.8h-0.8zM339.94 186.52h0.8v0.8h-0.8zM339.12 160.91h0.8v0.8h-0.8zM339.06 183.92h0.8v0.8h-0.8zM340.8 187.56h0.8v0.8h-0.8zM339.38 182.81h0.8v0.8h-0.8zM338.66 171.96h0.8v0.8h-0.8zM338.36 174.16h0.8v0.8h-0.8zM340.44 172.58h0.8v0.8h-0.8zM338.74 177.99h0.8v0.8h-0.8zM338.27 185.44h0.8v0.8h-0.8zM340.29 176.09h0.8v0.8h-0.8zM339.4 169.24h0.8v0.8h-0.8zM339.32 163.45h0.8v0.8h-0.8zM341.49 173.66h0.8v0.8h-0.8zM338.09 175.99h0.8v0.8h-0.8zM339.55 189.84h0.8v0.8h-0.8zM337.51 174.36h0.8v0.8h-0.8zM339.03 167.8h0.8v0.8h-0.8zM339.95 172.87h0.8v0.8h-0.8zM340.5 168.03h0.8v0.8h-0.8zM338.03 171.22h0.8v0.8h-0.8zM340.15 153.74h0.8v0.8h-0.8zM339.22 158.87h0.8v0.8h-0.8zM339.34 173.24h0.8v0.8h-0.8zM338.44 176.13h0.8v0.8h-0.8zM339.78 189.2h0.8v0.8h-0.8zM337.42 160.83h0.8v0.8h-0.8zM340.95 188.94h0.8v0.8h-0.8zM340.36 179.18h0.8v0.8h-0.8zM338.93 165.05h0.8v0.8h-0.8zM339.97 193.38h0.8v0.8h-0.8zM339.89 155.89h0.8v0.8h-0.8zM341.33 159.74h0.8v0.8h-0.8zM338.71 171.56h0.8v0.8h-0.8zM338.01 179.44h0.8v0.8h-0.8zM337.25 171.77h0.8v0.8h-0.8zM337.73 170.39h0.8v0.8h-0.8zM339.16 173.15h0.8v0.8h-0.8zM338.89 191.88h0.8v0.8h-0.8zM338.37 175.81h0.8v0.8h-0.8zM340.57 160.21h0.8v0.8h-0.8zM339.14 178.62h0.8v0.8h-0.8zM339.58 159.24h0.8v0.8h-0.8zM340.32 176.83h0.8v0.8h-0.8zM338 178.93h0.8v0.8h-0.8zM338.39 169.07h0.8v0.8h-0.8zM339.18 169.98h0.8v0.8h-0.8zM338.27 166.88h0.8v0.8h-0.8zM339.08 193.92h0.8v0.8h-0.8zM338.75 181.68h0.8v0.8h-0.8zM338.08 170.27h0.8v0.8h-0.8zM338.92 164.36h0.8v0.8h-0.8zM339.32 176.49h0.8v0.8h-0.8zM339.33 181.49h0.8v0.8h-0.8zM339.9 185.14h0.8v0.8h-0.8zM337.56 193.13h0.8v0.8h-0.8zM337.8 180.13h0.8v0.8h-0.8zM340.15 159.84h0.8v0.8h-0.8zM340.59 189.1h0.8v0.8h-0.8zM339.65 184.87h0.8v0.8h-0.8zM337.89 191.36h0.8v0.8h-0.8zM339.89 155.1h0.8v0.8h-0.8zM338.3 169.41h0.8v0.8h-0.8zM339.61 167.64h0.8v0.8h-0.8zM340.61 189.46h0.8v0.8h-0.8zM341.52 159.05h0.8v0.8h-0.8zM339.27 170.06h0.8v0.8h-0.8zM340.06 193.67h0.8v0.8h-0.8zM339.65 182.5h0.8v0.8h-0.8zM340.16 169.25h0.8v0.8h-0.8zM338.94 157.14h0.8v0.8h-0.8zM339.64 180h0.8v0.8h-0.8zM339.82 171.27h0.8v0.8h-0.8zM338.57 180.73h0.8v0.8h-0.8zM340.19 170.64h0.8v0.8h-0.8zM340.48 163.46h0.8v0.8h-0.8zM339.41 176.91h0.8v0.8h-0.8zM339.11 157.29h0.8v0.8h-0.8zM338.97 180.98h0.8v0.8h-0.8zM339.48 170.08h0.8v0.8h-0.8zM340.55 186h0.8v0.8h-0.8zM340.88 168.43h0.8v0.8h-0.8zM338.86 165.55h0.8v0.8h-0.8zM338.39 179.28h0.8v0.8h-0.8zM338.53 189.99h0.8v0.8h-0.8zM339.57 175.69h0.8v0.8h-0.8zM339.65 182.18h0.8v0.8h-0.8zM339.84 155.94h0.8v0.8h-0.8zM339.73 162.87h0.8v0.8h-0.8zM339.22 182.4h0.8v0.8h-0.8zM338.27 163.56h0.8v0.8h-0.8zM338.71 165.97h0.8v0.8h-0.8zM339.74 162.06h0.8v0.8h-0.8zM338.96 163.08h0.8v0.8h-0.8zM340.75 160.11h0.8v0.8h-0.8zM338.86 158.37h0.8v0.8h-0.8zM339.02 189.73h0.8v0.8h-0.8zM338.46 157.93h0.8v0.8h-0.8zM338.79 184.01h0.8v0.8h-0.8zM338.5 171.82h0.8v0.8h-0.8zM340.21 184.49h0.8v0.8h-0.8zM338.16 179.01h0.8v0.8h-0.8zM338.92 164.33h0.8v0.8h-0.8zM339.23 162.47h0.8v0.8h-0.8zM339.85 174.05h0.8v0.8h-0.8zM340.2 169.55h0.8v0.8h-0.8zM337.64 164.64h0.8v0.8h-0.8zM338.92 186.61h0.8v0.8h-0.8zM338.36 160.47h0.8v0.8h-0.8zM340.72 185.54h0.8v0.8h-0.8zM339.22 167.94h0.8v0.8h-0.8zM339.85 175.51h0.8v0.8h-0.8zM341.08 159.75h0.8v0.8h-0.8zM338.98 174h0.8v0.8h-0.8zM339.42 164.08h0.8v0.8h-0.8zM339.07 173.86h0.8v0.8h-0.8zM340.62 173.45h0.8v0.8h-0.8zM340.18 184.73h0.8v0.8h-0.8zM340.36 177.74h0.8v0.8h-0.8zM339.39 161.11h0.8v0.8h-0.8zM338.99 166.24h0.8v0.8h-0.8zM338.97 159.74h0.8v0.8h-0.8zM337.67 190.72h0.8v0.8h-0.8zM339.71 193.51h0.8v0.8h-0.8zM340.17 183.87h0.8v0.8h-0.8zM339.33 177.97h0.8v0.8h-0.8zM338.84 181.62h0.8v0.8h-0.8zM339.38 180.33h0.8v0.8h-0.8zM339.67 162.9h0.8v0.8h-0.8zM341.17 189.28h0.8v0.8h-0.8zM338.47 189.22h0.8v0.8h-0.8zM339.71 177.16h0.8v0.8h-0.8zM340.04 170.1h0.8v0.8h-0.8zM339.42 169.15h0.8v0.8h-0.8zM339.1 167.11h0.8v0.8h-0.8zM338.3 162.2h0.8v0.8h-0.8zM340.06 175.99h0.8v0.8h-0.8zM340.82 168.27h0.8v0.8h-0.8zM338.67 171.33h0.8v0.8h-0.8zM339.87 181.67h0.8v0.8h-0.8zM340.36 165.06h0.8v0.8h-0.8zM339.59 181.52h0.8v0.8h-0.8zM339.79 154.76h0.8v0.8h-0.8zM340.25 187.57h0.8v0.8h-0.8zM338.16 177.45h0.8v0.8h-0.8zM339.39 171.58h0.8v0.8h-0.8zM337.55 181.41h0.8v0.8h-0.8zM337.34 192.76h0.8v0.8h-0.8zM338.5 168.11h0.8v0.8h-0.8zM337.78 161.38h0.8v0.8h-0.8zM340.34 174.27h0.8v0.8h-0.8zM339.03 193.27h0.8v0.8h-0.8zM339.2 165.38h0.8v0.8h-0.8zM339.1 178.93h0.8v0.8h-0.8zM339.07 165.83h0.8v0.8h-0.8zM339.47 182.21h0.8v0.8h-0.8zM339.69 170.51h0.8v0.8h-0.8zM338.87 165.45h0.8v0.8h-0.8zM338.54 194.01h0.8v0.8h-0.8zM338.81 178.43h0.8v0.8h-0.8zM338.91 171.03h0.8v0.8h-0.8zM340.8 162.25h0.8v0.8h-0.8zM339.09 158.38h0.8v0.8h-0.8zM340.72 166.54h0.8v0.8h-0.8zM338.13 167.9h0.8v0.8h-0.8zM338.64 174.48h0.8v0.8h-0.8zM339.82 163.84h0.8v0.8h-0.8zM339.18 167.15h0.8v0.8h-0.8zM341.39 185.37h0.8v0.8h-0.8zM339.41 156.45h0.8v0.8h-0.8zM339.63 182.01h0.8v0.8h-0.8zM338.76 179.95h0.8v0.8h-0.8zM341 168.26h0.8v0.8h-0.8zM340.2 178.02h0.8v0.8h-0.8zM339.75 164.38h0.8v0.8h-0.8zM337.69 168.88h0.8v0.8h-0.8zM339.7 160.87h0.8v0.8h-0.8zM338.86 180.03h0.8v0.8h-0.8zM339.73 191.7h0.8v0.8h-0.8zM340.25 165.27h0.8v0.8h-0.8zM338.58 189.47h0.8v0.8h-0.8zM340.22 162.6h0.8v0.8h-0.8zM339.5 160.96h0.8v0.8h-0.8zM338.27 166.39h0.8v0.8h-0.8zM338.66 184.08h0.8v0.8h-0.8zM340.33 175.49h0.8v0.8h-0.8zM339.44 181.33h0.8v0.8h-0.8zM338.11 173.54h0.8v0.8h-0.8zM338.04 176.3h0.8v0.8h-0.8zM340.55 191.09h0.8v0.8h-0.8zM340.51 179.17h0.8v0.8h-0.8zM338.61 171.31h0.8v0.8h-0.8zM339.54 185.7h0.8v0.8h-0.8zM338.95 163.42h0.8v0.8h-0.8zM338.47 181.32h0.8v0.8h-0.8zM338.82 167.81h0.8v0.8h-0.8zM339.09 175.2h0.8v0.8h-0.8zM338.78 183.82h0.8v0.8h-0.8zM339.54 164.83h0.8v0.8h-0.8zM338.57 175.97h0.8v0.8h-0.8zM339.36 178.45h0.8v0.8h-0.8zM337.66 164.4h0.8v0.8h-0.8zM340.78 174.81h0.8v0.8h-0.8zM337.59 170.53h0.8v0.8h-0.8zM339.25 155.09h0.8v0.8h-0.8zM339.67 154.15h0.8v0.8h-0.8zM339.75 177.72h0.8v0.8h-0.8zM339.59 172.86h0.8v0.8h-0.8zM339.26 170h0.8v0.8h-0.8zM339.48 173.11h0.8v0.8h-0.8zM338.83 181.89h0.8v0.8h-0.8zM338.73 157.91h0.8v0.8h-0.8zM340.62 181.69h0.8v0.8h-0.8zM338.61 170.01h0.8v0.8h-0.8zM338.85 167.41h0.8v0.8h-0.8zM339.05 172.16h0.8v0.8h-0.8zM339.11 186.81h0.8v0.8h-0.8zM339.49 181.24h0.8v0.8h-0.8zM339.12 185.56h0.8v0.8h-0.8zM339.7 165.06h0.8v0.8h-0.8zM339.46 170.31h0.8v0.8h-0.8zM339.81 158.89h0.8v0.8h-0.8zM340.7 166.81h0.8v0.8h-0.8zM338.48 168.85h0.8v0.8h-0.8zM340.98 167.95h0.8v0.8h-0.8zM338.88 183.27h0.8v0.8h-0.8zM339.99 179.53h0.8v0.8h-0.8zM339.49 183.87h0.8v0.8h-0.8zM339.03 175.67h0.8v0.8h-0.8zM337.37 187.94h0.8v0.8h-0.8zM340.94 175.48h0.8v0.8h-0.8zM338.57 186.55h0.8v0.8h-0.8zM338.54 180.54h0.8v0.8h-0.8zM340.39 183.56h0.8v0.8h-0.8zM339.4 173.13h0.8v0.8h-0.8zM341.22 157.9h0.8v0.8h-0.8zM341 155.22h0.8v0.8h-0.8zM339.58 179.04h0.8v0.8h-0.8zM340.08 179.76h0.8v0.8h-0.8zM338.01 171.83h0.8v0.8h-0.8zM339.49 168.04h0.8v0.8h-0.8zM338.85 159.44h0.8v0.8h-0.8zM339.58 173.18h0.8v0.8h-0.8zM337.87 173.33h0.8v0.8h-0.8zM340.22 159.3h0.8v0.8h-0.8zM340.61 157.47h0.8v0.8h-0.8zM338.03 164.86h0.8v0.8h-0.8zM339.47 169.53h0.8v0.8h-0.8zM340.86 167.69h0.8v0.8h-0.8zM339.74 184.57h0.8v0.8h-0.8zM338.3 158.68h0.8v0.8h-0.8zM338.34 179.26h0.8v0.8h-0.8zM340.17 193.09h0.8v0.8h-0.8z" fill="#111"/>
<line x1="322.3" y1="185" x2="379.7" y2="185" stroke="#888" stroke-width="1.3"/>
<line x1="342.4" y1="152" x2="342.4" y2="208.5" stroke="#555" stroke-width="0.8"/>
<text x="325.7" y="205.1" font-size="6.6" font-weight="bold" stroke="#000" stroke-width="0.32" textLength="15.8" lengthAdjust="spacingAndGlyphs">12.5%</text>
<rect x="391.5" y="152.3" width="57" height="55.9" fill="none" stroke="#9a9a9a" stroke-width="0.6"/>
<line x1="390.3" y1="208.2" x2="391.5" y2="208.2" stroke="#aaa" stroke-width="0.5"/>
<rect x="387.3" y="207.7" width="2.4" height="1" fill="#c8c8c8"/>
<line x1="390.3" y1="194.22" x2="391.5" y2="194.22" stroke="#aaa" stroke-width="0.5"/>
<rect x="387.3" y="193.72" width="2.4" height="1" fill="#c8c8c8"/>
<line x1="390.3" y1="180.25" x2="391.5" y2="180.25" stroke="#aaa" stroke-width="0.5"/>
<rect x="387.3" y="179.75" width="2.4" height="1" fill="#c8c8c8"/>
<line x1="390.3" y1="166.28" x2="391.5" y2="166.28" stroke="#aaa" stroke-width="0.5"/>
<rect x="387.3" y="165.78" width="2.4" height="1" fill="#c8c8c8"/>
<line x1="390.3" y1="152.3" x2="391.5" y2="152.3" stroke="#aaa" stroke-width="0.5"/>
<rect x="387.3" y="151.8" width="2.4" height="1" fill="#c8c8c8"/>
<line x1="391.5" y1="208.2" x2="391.5" y2="209.4" stroke="#aaa" stroke-width="0.5"/>
<rect x="390.5" y="210.2" width="2" height="1" fill="#c8c8c8"/>
<line x1="405.75" y1="208.2" x2="405.75" y2="209.4" stroke="#aaa" stroke-width="0.5"/>
<rect x="404.75" y="210.2" width="2" height="1" fill="#c8c8c8"/>
<line x1="420" y1="208.2" x2="420" y2="209.4" stroke="#aaa" stroke-width="0.5"/>
<rect x="419" y="210.2" width="2" height="1" fill="#c8c8c8"/>
<line x1="434.25" y1="208.2" x2="434.25" y2="209.4" stroke="#aaa" stroke-width="0.5"/>
<rect x="433.25" y="210.2" width="2" height="1" fill="#c8c8c8"/>
<line x1="448.5" y1="208.2" x2="448.5" y2="209.4" stroke="#aaa" stroke-width="0.5"/>
<rect x="447.5" y="210.2" width="2" height="1" fill="#c8c8c8"/>
<path d="M409.46 182.97h0.8v0.8h-0.8zM404.99 184.81h0.8v0.8h-0.8zM401 188.9h0.8v0.8h-0.8zM409.36 190.27h0.8v0.8h-0.8zM406.21 185.86h0.8v0.8h-0.8zM410.32 184.38h0.8v0.8h-0.8zM406.61 180.05h0.8v0.8h-0.8zM407.74 174.19h0.8v0.8h-0.8zM405.22 171.52h0.8v0.8h-0.8zM408.2 191.98h0.8v0.8h-0.8zM406.55 169.26h0.8v0.8h-0.8zM406.39 198.67h0.8v0.8h-0.8zM409.88 193.74h0.8v0.8h-0.8zM407.97 183.36h0.8v0.8h-0.8zM404.21 175.63h0.8v0.8h-0.8zM409.02 186.27h0.8v0.8h-0.8zM409.34 186.22h0.8v0.8h-0.8zM405.67 196.16h0.8v0.8h-0.8zM406.64 179.35h0.8v0.8h-0.8zM407.62 182.62h0.8v0.8h-0.8zM406.95 185.55h0.8v0.8h-0.8zM407.77 183.53h0.8v0.8h-0.8zM408.93 180.41h0.8v0.8h-0.8zM406.42 170.59h0.8v0.8h-0.8zM405.93 179.95h0.8v0.8h-0.8zM406.31 184.01h0.8v0.8h-0.8zM407.09 189.59h0.8v0.8h-0.8zM410.01 184.99h0.8v0.8h-0.8zM407.88 181.29h0.8v0.8h-0.8zM408.39 176.43h0.8v0.8h-0.8zM410.52 182.3h0.8v0.8h-0.8zM409.01 183.67h0.8v0.8h-0.8zM410.05 180.68h0.8v0.8h-0.8zM408.47 193.06h0.8v0.8h-0.8zM407.43 182.37h0.8v0.8h-0.8zM408.71 175.03h0.8v0.8h-0.8zM410.18 188.16h0.8v0.8h-0.8zM409.39 187.55h0.8v0.8h-0.8zM409.82 175.64h0.8v0.8h-0.8zM407.99 178.25h0.8v0.8h-0.8zM409.19 178.9h0.8v0.8h-0.8zM410.17 194.71h0.8v0.8h-0.8zM407.14 190.19h0.8v0.8h-0.8zM404.65 188.18h0.8v0.8h-0.8zM408.78 181.76h0.8v0.8h-0.8zM406.53 190.34h0.8v0.8h-0.8zM408.02 180.6h0.8v0.8h-0.8zM406.96 174.06h0.8v0.8h-0.8zM403.75 179.72h0.8v0.8h-0.8zM407.1 187.94h0.8v0.8h-0.8zM404.37 186.86h0.8v0.8h-0.8zM407.95 195.56h0.8v0.8h-0.8zM407.26 170.86h0.8v0.8h-0.8zM409.99 184.07h0.8v0.8h-0.8zM407.24 189.6h0.8v0.8h-0.8zM408.32 177.39h0.8v0.8h-0.8zM406.84 188.3h0.8v0.8h-0.8zM406.66 182.37h0.8v0.8h-0.8zM404.43 175.89h0.8v0.8h-0.8zM409.68 196.14h0.8v0.8h-0.8zM407.88 173.56h0.8v0.8h-0.8zM406.22 195.06h0.8v0.8h-0.8zM407.96 182.34h0.8v0.8h-0.8zM406.59 177.6h0.8v0.8h-0.8zM405.91 178.1h0.8v0.8h-0.8zM408.05 179.43h0.8v0.8h-0.8zM410.17 178.44h0.8v0.8h-0.8zM406.91 188.48h0.8v0.8h-0.8zM404.37 169.26h0.8v0.8h-0.8zM406.15 197.22h0.8v0.8h-0.8zM405.72 198.55h0.8v0.8h-0.8zM410.11 177.23h0.8v0.8h-0.8zM406.97 165.21h0.8v0.8h-0.8zM409.13 180.46h0.8v0.8h-0.8zM407.27 184.56h0.8v0.8h-0.8zM404.03 188.8h0.8v0.8h-0.8zM406.59 181.41h0.8v0.8h-0.8zM407.21 187.42h0.8v0.8h-0.8zM408.74 172.14h0.8v0.8h-0.8z" fill="#555"/>
<line x1="391.5" y1="184.6" x2="448.5" y2="184.6" stroke="#888" stroke-width="1.3"/>
<line x1="411.5" y1="152.3" x2="411.5" y2="208.2" stroke="#555" stroke-width="0.9"/>
<text x="398.5" y="204.8" font-size="6.6" font-weight="bold" stroke="#000" stroke-width="0.32" textLength="11.5" lengthAdjust="spacingAndGlyphs">54%</text>
<text x="104.2" y="251.3" font-size="7.8" font-weight="bold" stroke="#000" stroke-width="0.32" textLength="48" lengthAdjust="spacingAndGlyphs">CD34+ CD38-</text>
<text x="78" y="250.3" font-size="10.6" stroke="#111" stroke-width="0.45">G</text>
<text x="93.6" y="327.1" font-size="4.6" font-weight="bold" fill="#444" stroke="#444" stroke-width="0.32" text-anchor="end">0</text>
<line x1="98.8" y1="316.81" x2="156" y2="316.81" stroke="#efefef" stroke-width="0.6"/>
<text x="93.6" y="318.41" font-size="4.6" font-weight="bold" fill="#444" stroke="#444" stroke-width="0.32" text-anchor="end">10</text>
<line x1="98.8" y1="308.12" x2="156" y2="308.12" stroke="#efefef" stroke-width="0.6"/>
<text x="93.6" y="309.72" font-size="4.6" font-weight="bold" fill="#444" stroke="#444" stroke-width="0.32" text-anchor="end">20</text>
<line x1="98.8" y1="299.43" x2="156" y2="299.43" stroke="#efefef" stroke-width="0.6"/>
<text x="93.6" y="301.03" font-size="4.6" font-weight="bold" fill="#444" stroke="#444" stroke-width="0.32" text-anchor="end">30</text>
<line x1="98.8" y1="290.74" x2="156" y2="290.74" stroke="#efefef" stroke-width="0.6"/>
<text x="93.6" y="292.34" font-size="4.6" font-weight="bold" fill="#444" stroke="#444" stroke-width="0.32" text-anchor="end">40</text>
<line x1="98.8" y1="282.05" x2="156" y2="282.05" stroke="#efefef" stroke-width="0.6"/>
<text x="93.6" y="283.65" font-size="4.6" font-weight="bold" fill="#444" stroke="#444" stroke-width="0.32" text-anchor="end">50</text>
<line x1="98.8" y1="273.36" x2="156" y2="273.36" stroke="#efefef" stroke-width="0.6"/>
<text x="93.6" y="274.96" font-size="4.6" font-weight="bold" fill="#444" stroke="#444" stroke-width="0.32" text-anchor="end">60</text>
<line x1="98.8" y1="264.67" x2="156" y2="264.67" stroke="#efefef" stroke-width="0.6"/>
<text x="93.6" y="266.27" font-size="4.6" font-weight="bold" fill="#444" stroke="#444" stroke-width="0.32" text-anchor="end">70</text>
<text x="93.6" y="257.58" font-size="4.6" font-weight="bold" fill="#444" stroke="#444" stroke-width="0.32" text-anchor="end">80</text>
<rect x="98.8" y="255.98" width="57.2" height="69.52" fill="none" stroke="#666" stroke-width="0.8"/>
<rect x="107" y="316.81" width="12.6" height="8.69" fill="#808080" stroke="#111" stroke-width="0.8"/>
<line x1="113.3" y1="316.81" x2="113.3" y2="313.77" stroke="#000" stroke-width="1.7"/>
<rect x="111.25" y="313.47" width="4.1" height="2.2" fill="#000" rx="0.6"/>
<rect x="135.9" y="272.49" width="11.5" height="53.01" fill="#111"/>
<line x1="141.65" y1="272.49" x2="141.65" y2="265.1" stroke="#000" stroke-width="1.7"/>
<rect x="139.6" y="264.8" width="4.1" height="2.2" fill="#000" rx="0.6"/>
<text x="102.7" y="334" font-size="8" font-weight="bold" fill="#666" stroke="#666" stroke-width="0.32" textLength="22.5" lengthAdjust="spacingAndGlyphs">Vector</text>
<text x="130.4" y="334" font-size="8" font-weight="bold" stroke="#000" stroke-width="0.32" textLength="24.6" lengthAdjust="spacingAndGlyphs">GATA-2</text>
<text x="85.2" y="318.7" font-size="5.2" font-weight="bold" fill="#333" stroke="#333" stroke-width="0.32" textLength="56.5" lengthAdjust="spacingAndGlyphs" transform="rotate(-90 85.2 318.7)">% of G0/G1 cells in G0</text>
<text x="190.8" y="251.3" font-size="7.8" font-weight="bold" stroke="#000" stroke-width="0.32" textLength="47.7" lengthAdjust="spacingAndGlyphs">CD34+ CD38+</text>
<text x="168.4" y="250.3" font-size="10.6" stroke="#111" stroke-width="0.45">H</text>
<text x="181.4" y="326.9" font-size="4.6" font-weight="bold" fill="#444" stroke="#444" stroke-width="0.32" text-anchor="end">0</text>
<line x1="186" y1="316.66" x2="243.7" y2="316.66" stroke="#efefef" stroke-width="0.6"/>
<text x="181.4" y="318.26" font-size="4.6" font-weight="bold" fill="#444" stroke="#444" stroke-width="0.32" text-anchor="end">10</text>
<line x1="186" y1="308.02" x2="243.7" y2="308.02" stroke="#efefef" stroke-width="0.6"/>
<text x="181.4" y="309.62" font-size="4.6" font-weight="bold" fill="#444" stroke="#444" stroke-width="0.32" text-anchor="end">20</text>
<line x1="186" y1="299.38" x2="243.7" y2="299.38" stroke="#efefef" stroke-width="0.6"/>
<text x="181.4" y="300.98" font-size="4.6" font-weight="bold" fill="#444" stroke="#444" stroke-width="0.32" text-anchor="end">30</text>
<line x1="186" y1="290.74" x2="243.7" y2="290.74" stroke="#efefef" stroke-width="0.6"/>
<text x="181.4" y="292.34" font-size="4.6" font-weight="bold" fill="#444" stroke="#444" stroke-width="0.32" text-anchor="end">40</text>
<line x1="186" y1="282.1" x2="243.7" y2="282.1" stroke="#efefef" stroke-width="0.6"/>
<text x="181.4" y="283.7" font-size="4.6" font-weight="bold" fill="#444" stroke="#444" stroke-width="0.32" text-anchor="end">50</text>
<line x1="186" y1="273.46" x2="243.7" y2="273.46" stroke="#efefef" stroke-width="0.6"/>
<text x="181.4" y="275.06" font-size="4.6" font-weight="bold" fill="#444" stroke="#444" stroke-width="0.32" text-anchor="end">60</text>
<line x1="186" y1="264.82" x2="243.7" y2="264.82" stroke="#efefef" stroke-width="0.6"/>
<text x="181.4" y="266.42" font-size="4.6" font-weight="bold" fill="#444" stroke="#444" stroke-width="0.32" text-anchor="end">70</text>
<text x="181.4" y="257.78" font-size="4.6" font-weight="bold" fill="#444" stroke="#444" stroke-width="0.32" text-anchor="end">80</text>
<rect x="186" y="256.18" width="57.7" height="69.12" fill="none" stroke="#666" stroke-width="0.8"/>
<rect x="195.3" y="320.12" width="11.7" height="5.18" fill="#808080" stroke="#111" stroke-width="0.8"/>
<line x1="201.15" y1="320.12" x2="201.15" y2="317.01" stroke="#000" stroke-width="1.7"/>
<rect x="199.1" y="316.71" width="4.1" height="2.2" fill="#000" rx="0.6"/>
<rect x="223.8" y="304.13" width="11.2" height="21.17" fill="#111"/>
<line x1="229.4" y1="304.13" x2="229.4" y2="299.73" stroke="#000" stroke-width="1.7"/>
<rect x="227.35" y="299.43" width="4.1" height="2.2" fill="#000" rx="0.6"/>
<text x="189.2" y="334" font-size="8" font-weight="bold" fill="#666" stroke="#666" stroke-width="0.32" textLength="22.5" lengthAdjust="spacingAndGlyphs">Vector</text>
<text x="216.9" y="334" font-size="8" font-weight="bold" stroke="#000" stroke-width="0.32" textLength="25.1" lengthAdjust="spacingAndGlyphs">GATA-2</text>
<text x="172.7" y="318.7" font-size="5.2" font-weight="bold" fill="#333" stroke="#333" stroke-width="0.32" textLength="56.5" lengthAdjust="spacingAndGlyphs" transform="rotate(-90 172.7 318.7)">% of G0/G1 cells in G0</text>
<text x="259.3" y="249.4" font-size="10.8" stroke="#111" stroke-width="0.45">I</text>
<text x="293" y="260.4" font-size="7.6" font-weight="bold" stroke="#000" stroke-width="0.32" textLength="40" lengthAdjust="spacingAndGlyphs">+ Cytokines</text>
<text x="345" y="260.4" font-size="7.6" font-weight="bold" stroke="#000" stroke-width="0.32" textLength="72" lengthAdjust="spacingAndGlyphs">Cytokine withdrawal</text>
<rect x="283.3" y="263.4" width="59.4" height="58.4" fill="none" stroke="#9a9a9a" stroke-width="0.6"/>
<line x1="282.1" y1="321.8" x2="283.3" y2="321.8" stroke="#aaa" stroke-width="0.5"/>
<rect x="279.1" y="321.3" width="2.4" height="1" fill="#c8c8c8"/>
<line x1="282.1" y1="307.2" x2="283.3" y2="307.2" stroke="#aaa" stroke-width="0.5"/>
<rect x="279.1" y="306.7" width="2.4" height="1" fill="#c8c8c8"/>
<line x1="282.1" y1="292.6" x2="283.3" y2="292.6" stroke="#aaa" stroke-width="0.5"/>
<rect x="279.1" y="292.1" width="2.4" height="1" fill="#c8c8c8"/>
<line x1="282.1" y1="278" x2="283.3" y2="278" stroke="#aaa" stroke-width="0.5"/>
<rect x="279.1" y="277.5" width="2.4" height="1" fill="#c8c8c8"/>
<line x1="282.1" y1="263.4" x2="283.3" y2="263.4" stroke="#aaa" stroke-width="0.5"/>
<rect x="279.1" y="262.9" width="2.4" height="1" fill="#c8c8c8"/>
<line x1="283.3" y1="321.8" x2="283.3" y2="323" stroke="#aaa" stroke-width="0.5"/>
<rect x="282.3" y="323.8" width="2" height="1" fill="#c8c8c8"/>
<line x1="298.15" y1="321.8" x2="298.15" y2="323" stroke="#aaa" stroke-width="0.5"/>
<rect x="297.15" y="323.8" width="2" height="1" fill="#c8c8c8"/>
<line x1="313" y1="321.8" x2="313" y2="323" stroke="#aaa" stroke-width="0.5"/>
<rect x="312" y="323.8" width="2" height="1" fill="#c8c8c8"/>
<line x1="327.85" y1="321.8" x2="327.85" y2="323" stroke="#aaa" stroke-width="0.5"/>
<rect x="326.85" y="323.8" width="2" height="1" fill="#c8c8c8"/>
<line x1="342.7" y1="321.8" x2="342.7" y2="323" stroke="#aaa" stroke-width="0.5"/>
<rect x="341.7" y="323.8" width="2" height="1" fill="#c8c8c8"/>
<rect x="353.7" y="263.8" width="59.6" height="58.2" fill="none" stroke="#9a9a9a" stroke-width="0.6"/>
<line x1="352.5" y1="322" x2="353.7" y2="322" stroke="#aaa" stroke-width="0.5"/>
<rect x="349.5" y="321.5" width="2.4" height="1" fill="#c8c8c8"/>
<line x1="352.5" y1="307.45" x2="353.7" y2="307.45" stroke="#aaa" stroke-width="0.5"/>
<rect x="349.5" y="306.95" width="2.4" height="1" fill="#c8c8c8"/>
<line x1="352.5" y1="292.9" x2="353.7" y2="292.9" stroke="#aaa" stroke-width="0.5"/>
<rect x="349.5" y="292.4" width="2.4" height="1" fill="#c8c8c8"/>
<line x1="352.5" y1="278.35" x2="353.7" y2="278.35" stroke="#aaa" stroke-width="0.5"/>
<rect x="349.5" y="277.85" width="2.4" height="1" fill="#c8c8c8"/>
<line x1="352.5" y1="263.8" x2="353.7" y2="263.8" stroke="#aaa" stroke-width="0.5"/>
<rect x="349.5" y="263.3" width="2.4" height="1" fill="#c8c8c8"/>
<line x1="353.7" y1="322" x2="353.7" y2="323.2" stroke="#aaa" stroke-width="0.5"/>
<rect x="352.7" y="324" width="2" height="1" fill="#c8c8c8"/>
<line x1="368.6" y1="322" x2="368.6" y2="323.2" stroke="#aaa" stroke-width="0.5"/>
<rect x="367.6" y="324" width="2" height="1" fill="#c8c8c8"/>
<line x1="383.5" y1="322" x2="383.5" y2="323.2" stroke="#aaa" stroke-width="0.5"/>
<rect x="382.5" y="324" width="2" height="1" fill="#c8c8c8"/>
<line x1="398.4" y1="322" x2="398.4" y2="323.2" stroke="#aaa" stroke-width="0.5"/>
<rect x="397.4" y="324" width="2" height="1" fill="#c8c8c8"/>
<line x1="413.3" y1="322" x2="413.3" y2="323.2" stroke="#aaa" stroke-width="0.5"/>
<rect x="412.3" y="324" width="2" height="1" fill="#c8c8c8"/>
<path d="M296.08 301.8h0.8v0.8h-0.8zM297.27 290.09h0.8v0.8h-0.8zM294.56 300.6h0.8v0.8h-0.8zM296.55 294.58h0.8v0.8h-0.8zM296.75 302h0.8v0.8h-0.8zM297.92 285.78h0.8v0.8h-0.8zM296.35 288.49h0.8v0.8h-0.8zM297.1 290.42h0.8v0.8h-0.8zM297.57 289.86h0.8v0.8h-0.8zM295.97 295.93h0.8v0.8h-0.8zM296.86 299.63h0.8v0.8h-0.8zM295.41 303.43h0.8v0.8h-0.8zM296.55 295.32h0.8v0.8h-0.8zM297.71 285.73h0.8v0.8h-0.8zM297.7 302.6h0.8v0.8h-0.8zM296.12 300.28h0.8v0.8h-0.8zM296.6 293.96h0.8v0.8h-0.8zM296.66 302.14h0.8v0.8h-0.8zM296.21 297.66h0.8v0.8h-0.8zM297.62 289.52h0.8v0.8h-0.8zM294.71 299.51h0.8v0.8h-0.8zM296.81 297.28h0.8v0.8h-0.8zM296.52 297.44h0.8v0.8h-0.8zM295.42 299.25h0.8v0.8h-0.8zM298.6 288.67h0.8v0.8h-0.8zM297.69 284.74h0.8v0.8h-0.8zM297.01 293.17h0.8v0.8h-0.8zM295.5 298.53h0.8v0.8h-0.8zM295.24 298.67h0.8v0.8h-0.8zM296.93 290.59h0.8v0.8h-0.8zM296.27 289.37h0.8v0.8h-0.8zM297.97 287.73h0.8v0.8h-0.8zM296.9 300.41h0.8v0.8h-0.8zM295.89 299.11h0.8v0.8h-0.8zM295.45 296.55h0.8v0.8h-0.8zM296.53 295.23h0.8v0.8h-0.8zM296.8 287.36h0.8v0.8h-0.8zM296.27 300.99h0.8v0.8h-0.8zM296.7 297.87h0.8v0.8h-0.8zM295.88 301.18h0.8v0.8h-0.8zM297.64 287.69h0.8v0.8h-0.8zM298.17 289.39h0.8v0.8h-0.8zM298.86 286.82h0.8v0.8h-0.8zM296.21 297.96h0.8v0.8h-0.8zM297.56 293.06h0.8v0.8h-0.8zM297.57 286.43h0.8v0.8h-0.8zM295.22 303.67h0.8v0.8h-0.8zM298.53 288.36h0.8v0.8h-0.8zM297.8 288.61h0.8v0.8h-0.8zM296.94 295.03h0.8v0.8h-0.8zM297.78 288.52h0.8v0.8h-0.8zM297.36 289.09h0.8v0.8h-0.8zM295.54 300.23h0.8v0.8h-0.8zM299.24 284.44h0.8v0.8h-0.8zM298.52 285.35h0.8v0.8h-0.8zM296.68 298.66h0.8v0.8h-0.8zM298.6 285.17h0.8v0.8h-0.8zM298.02 292.95h0.8v0.8h-0.8zM296.84 294.11h0.8v0.8h-0.8zM297.96 288.48h0.8v0.8h-0.8zM297.56 286.02h0.8v0.8h-0.8zM296.97 298.52h0.8v0.8h-0.8zM296.02 300.89h0.8v0.8h-0.8zM299.47 286.75h0.8v0.8h-0.8zM296.59 294.81h0.8v0.8h-0.8zM297.46 292.97h0.8v0.8h-0.8zM297.27 294.68h0.8v0.8h-0.8zM297.47 286.34h0.8v0.8h-0.8zM297.81 292.21h0.8v0.8h-0.8zM297.31 289.56h0.8v0.8h-0.8zM297.2 289.05h0.8v0.8h-0.8zM295.98 303.49h0.8v0.8h-0.8zM296.53 292.36h0.8v0.8h-0.8zM298.07 292.02h0.8v0.8h-0.8zM296.65 300.93h0.8v0.8h-0.8zM297.04 300.29h0.8v0.8h-0.8zM295.09 302.16h0.8v0.8h-0.8zM297 295.37h0.8v0.8h-0.8zM296.94 287.9h0.8v0.8h-0.8zM296.52 299.12h0.8v0.8h-0.8zM298.67 287.19h0.8v0.8h-0.8zM296.3 301.64h0.8v0.8h-0.8zM296.53 296.83h0.8v0.8h-0.8zM297.27 299.24h0.8v0.8h-0.8zM298.64 285.76h0.8v0.8h-0.8zM297.69 300.07h0.8v0.8h-0.8zM296.28 286.5h0.8v0.8h-0.8zM297.25 293.39h0.8v0.8h-0.8zM296.2 299.06h0.8v0.8h-0.8zM296.15 295.38h0.8v0.8h-0.8zM296.32 301.05h0.8v0.8h-0.8zM296.31 292.37h0.8v0.8h-0.8zM295.63 289.62h0.8v0.8h-0.8zM296.18 293.99h0.8v0.8h-0.8zM297.36 288.43h0.8v0.8h-0.8zM298.9 288.87h0.8v0.8h-0.8zM296.78 289.77h0.8v0.8h-0.8zM296.6 289.04h0.8v0.8h-0.8zM295.34 295.16h0.8v0.8h-0.8zM296.02 300.55h0.8v0.8h-0.8zM296.85 292.87h0.8v0.8h-0.8zM297 294.31h0.8v0.8h-0.8zM295.18 300.24h0.8v0.8h-0.8zM296.79 289.95h0.8v0.8h-0.8zM295.16 294.75h0.8v0.8h-0.8zM297.45 291.02h0.8v0.8h-0.8zM295.17 300.03h0.8v0.8h-0.8zM294.38 298.3h0.8v0.8h-0.8zM297.03 301.83h0.8v0.8h-0.8zM298.16 286.38h0.8v0.8h-0.8zM297.61 290.16h0.8v0.8h-0.8zM296.85 297.92h0.8v0.8h-0.8zM295.3 302.47h0.8v0.8h-0.8zM297.45 297.22h0.8v0.8h-0.8zM296.74 287.91h0.8v0.8h-0.8zM299.2 286.29h0.8v0.8h-0.8zM296.47 299.69h0.8v0.8h-0.8zM296.43 286h0.8v0.8h-0.8zM297.02 298.94h0.8v0.8h-0.8zM297.52 301.95h0.8v0.8h-0.8zM296.04 301.13h0.8v0.8h-0.8zM296.81 303.07h0.8v0.8h-0.8zM296.29 298.85h0.8v0.8h-0.8zM297.04 288.66h0.8v0.8h-0.8zM294.99 294.15h0.8v0.8h-0.8zM298.48 287.69h0.8v0.8h-0.8zM295.82 301.78h0.8v0.8h-0.8zM297.75 289.05h0.8v0.8h-0.8zM295.39 301.04h0.8v0.8h-0.8zM295.93 298.02h0.8v0.8h-0.8zM298.68 284.98h0.8v0.8h-0.8zM297.14 289.28h0.8v0.8h-0.8zM297.13 289.49h0.8v0.8h-0.8zM296.32 290.73h0.8v0.8h-0.8zM296.86 295.84h0.8v0.8h-0.8zM297.81 291.03h0.8v0.8h-0.8zM296.49 295.55h0.8v0.8h-0.8zM297.41 287.97h0.8v0.8h-0.8zM296.4 290.6h0.8v0.8h-0.8zM298.8 285.86h0.8v0.8h-0.8zM297.18 287.36h0.8v0.8h-0.8zM297.53 286.86h0.8v0.8h-0.8zM297.43 301.31h0.8v0.8h-0.8zM295.84 303.14h0.8v0.8h-0.8zM295.57 296.07h0.8v0.8h-0.8zM297.17 285.68h0.8v0.8h-0.8zM296.92 291.01h0.8v0.8h-0.8zM298.47 292.43h0.8v0.8h-0.8zM297.79 288.07h0.8v0.8h-0.8zM297.07 291.7h0.8v0.8h-0.8zM296.82 301.15h0.8v0.8h-0.8zM297.9 293.98h0.8v0.8h-0.8zM297.14 286.39h0.8v0.8h-0.8zM298.67 287.9h0.8v0.8h-0.8zM296.74 302.38h0.8v0.8h-0.8zM298.31 284.17h0.8v0.8h-0.8zM295.24 293.59h0.8v0.8h-0.8zM296.7 297.42h0.8v0.8h-0.8zM297.89 294.64h0.8v0.8h-0.8zM297.66 284.61h0.8v0.8h-0.8zM299.51 285.47h0.8v0.8h-0.8zM296.74 296.53h0.8v0.8h-0.8zM296.49 291.2h0.8v0.8h-0.8zM296.57 303.14h0.8v0.8h-0.8zM297.78 288.27h0.8v0.8h-0.8zM296.76 302.04h0.8v0.8h-0.8zM297.24 290.11h0.8v0.8h-0.8zM297.6 297.02h0.8v0.8h-0.8zM295.86 300.67h0.8v0.8h-0.8zM296.37 301.09h0.8v0.8h-0.8zM296.98 284.86h0.8v0.8h-0.8zM295.82 299.33h0.8v0.8h-0.8zM297.07 294.2h0.8v0.8h-0.8zM295.8 299.95h0.8v0.8h-0.8zM296.62 293.88h0.8v0.8h-0.8zM297.46 287.26h0.8v0.8h-0.8zM296.67 298.92h0.8v0.8h-0.8zM297.99 289.52h0.8v0.8h-0.8zM297.27 296.8h0.8v0.8h-0.8zM297 300.41h0.8v0.8h-0.8zM297.76 288.06h0.8v0.8h-0.8zM296.26 296.44h0.8v0.8h-0.8zM296.06 290.4h0.8v0.8h-0.8zM297.62 284.37h0.8v0.8h-0.8zM296.83 289.15h0.8v0.8h-0.8zM295.27 297.51h0.8v0.8h-0.8zM298.46 291.8h0.8v0.8h-0.8zM296.09 288.41h0.8v0.8h-0.8zM296.68 299.33h0.8v0.8h-0.8zM298.31 284.84h0.8v0.8h-0.8zM296.26 298.43h0.8v0.8h-0.8zM298.02 302.37h0.8v0.8h-0.8zM297.06 292.28h0.8v0.8h-0.8zM296.35 293.9h0.8v0.8h-0.8zM297.63 299.39h0.8v0.8h-0.8zM296.34 293.75h0.8v0.8h-0.8zM295.44 297.81h0.8v0.8h-0.8zM296.85 287.31h0.8v0.8h-0.8zM296.48 293.58h0.8v0.8h-0.8zM297.07 293.75h0.8v0.8h-0.8zM296.53 300.55h0.8v0.8h-0.8zM296.72 285.14h0.8v0.8h-0.8zM296.76 298.87h0.8v0.8h-0.8zM298.85 292.49h0.8v0.8h-0.8zM296.99 288.64h0.8v0.8h-0.8zM296.92 293.13h0.8v0.8h-0.8zM297.15 296.81h0.8v0.8h-0.8zM298.19 290.64h0.8v0.8h-0.8zM296.91 289.32h0.8v0.8h-0.8zM295.53 300.8h0.8v0.8h-0.8zM295.73 298.49h0.8v0.8h-0.8zM297.18 300.38h0.8v0.8h-0.8zM296.71 303.01h0.8v0.8h-0.8zM295.58 292.12h0.8v0.8h-0.8zM296.35 284.44h0.8v0.8h-0.8zM295.59 297.99h0.8v0.8h-0.8zM296.72 285.57h0.8v0.8h-0.8zM297.07 294.81h0.8v0.8h-0.8zM297.98 286.26h0.8v0.8h-0.8zM297.66 301.83h0.8v0.8h-0.8zM297.22 297.47h0.8v0.8h-0.8zM297.77 286.3h0.8v0.8h-0.8zM298.7 286.81h0.8v0.8h-0.8zM296.91 287.75h0.8v0.8h-0.8zM296.28 290.14h0.8v0.8h-0.8zM296.63 297.91h0.8v0.8h-0.8zM298.67 284.21h0.8v0.8h-0.8zM295.9 291.97h0.8v0.8h-0.8zM298.3 287.8h0.8v0.8h-0.8zM297.43 295.31h0.8v0.8h-0.8zM297.48 285.52h0.8v0.8h-0.8zM297.36 291.41h0.8v0.8h-0.8zM297.2 290.09h0.8v0.8h-0.8zM296.33 300.22h0.8v0.8h-0.8zM297.43 295.94h0.8v0.8h-0.8zM295.57 301.73h0.8v0.8h-0.8zM297.48 297.4h0.8v0.8h-0.8zM297.78 292.16h0.8v0.8h-0.8zM297.26 298.6h0.8v0.8h-0.8zM294.5 303.66h0.8v0.8h-0.8zM295.43 295.42h0.8v0.8h-0.8zM298.03 288.41h0.8v0.8h-0.8zM296.3 296.33h0.8v0.8h-0.8zM297.01 288.62h0.8v0.8h-0.8zM296.18 295.59h0.8v0.8h-0.8zM296.06 292.31h0.8v0.8h-0.8zM296.37 297.28h0.8v0.8h-0.8zM295.61 302.41h0.8v0.8h-0.8zM297.05 288.32h0.8v0.8h-0.8zM297.37 293.88h0.8v0.8h-0.8zM296.67 288.13h0.8v0.8h-0.8zM298.41 288.25h0.8v0.8h-0.8zM295.85 288.41h0.8v0.8h-0.8zM298.66 295.91h0.8v0.8h-0.8zM295.53 298.28h0.8v0.8h-0.8zM296.88 299.17h0.8v0.8h-0.8zM297.62 294.46h0.8v0.8h-0.8zM297.19 291.17h0.8v0.8h-0.8zM298.27 286.82h0.8v0.8h-0.8zM297.9 283.77h0.8v0.8h-0.8zM296.1 289.07h0.8v0.8h-0.8zM297.38 292.86h0.8v0.8h-0.8zM297.43 297.43h0.8v0.8h-0.8zM296.73 292.04h0.8v0.8h-0.8zM295.26 298.22h0.8v0.8h-0.8zM297.26 287h0.8v0.8h-0.8zM296.69 298.85h0.8v0.8h-0.8zM297.03 295.64h0.8v0.8h-0.8zM297.28 299.24h0.8v0.8h-0.8zM296.84 298.79h0.8v0.8h-0.8zM297.9 287.72h0.8v0.8h-0.8zM294.86 298.76h0.8v0.8h-0.8zM298.33 297.48h0.8v0.8h-0.8zM296.11 302.69h0.8v0.8h-0.8zM298.46 285.19h0.8v0.8h-0.8zM297.52 285.72h0.8v0.8h-0.8zM296.62 296.01h0.8v0.8h-0.8zM297.87 285.41h0.8v0.8h-0.8zM297.64 299.03h0.8v0.8h-0.8zM297.65 299.47h0.8v0.8h-0.8zM297.57 292.34h0.8v0.8h-0.8zM297.94 299.33h0.8v0.8h-0.8zM297.5 285.51h0.8v0.8h-0.8zM298.32 284.32h0.8v0.8h-0.8zM295.88 300.75h0.8v0.8h-0.8zM297.87 294.68h0.8v0.8h-0.8zM296.86 295h0.8v0.8h-0.8zM298.71 284.36h0.8v0.8h-0.8zM299.28 284.36h0.8v0.8h-0.8zM294.53 301.93h0.8v0.8h-0.8zM299.56 285.66h0.8v0.8h-0.8zM297.52 290.41h0.8v0.8h-0.8zM296.69 294.45h0.8v0.8h-0.8zM295.39 295.88h0.8v0.8h-0.8zM297.47 286.53h0.8v0.8h-0.8zM294.48 301.54h0.8v0.8h-0.8zM296.85 296.32h0.8v0.8h-0.8zM296.06 301.69h0.8v0.8h-0.8zM298.18 295h0.8v0.8h-0.8zM297.34 288.48h0.8v0.8h-0.8zM305.95 269.91h0.8v0.8h-0.8zM299.68 284.61h0.8v0.8h-0.8zM307.58 271.26h0.8v0.8h-0.8zM298.92 290.33h0.8v0.8h-0.8zM302.27 287.87h0.8v0.8h-0.8zM303.99 282.42h0.8v0.8h-0.8zM300.64 291.06h0.8v0.8h-0.8zM299.95 282.92h0.8v0.8h-0.8zM299.24 291.91h0.8v0.8h-0.8zM305.34 271.77h0.8v0.8h-0.8zM306.43 275.96h0.8v0.8h-0.8zM299.76 285.36h0.8v0.8h-0.8zM306.61 280.47h0.8v0.8h-0.8zM303.5 283.1h0.8v0.8h-0.8zM305.55 271.45h0.8v0.8h-0.8zM304.34 286.21h0.8v0.8h-0.8zM304.08 287.78h0.8v0.8h-0.8zM311.12 274.93h0.8v0.8h-0.8zM307.26 273.97h0.8v0.8h-0.8zM304.56 274.42h0.8v0.8h-0.8zM298.66 290.61h0.8v0.8h-0.8zM298.03 291.01h0.8v0.8h-0.8zM309.06 269.65h0.8v0.8h-0.8zM308.66 268.26h0.8v0.8h-0.8zM302.65 288.12h0.8v0.8h-0.8zM304.66 280.61h0.8v0.8h-0.8zM310.05 283.58h0.8v0.8h-0.8zM302.6 285.81h0.8v0.8h-0.8zM299.3 290.44h0.8v0.8h-0.8zM301.51 286.27h0.8v0.8h-0.8zM306.69 267.81h0.8v0.8h-0.8zM303.71 281.64h0.8v0.8h-0.8zM300.45 287.21h0.8v0.8h-0.8zM298.92 290.37h0.8v0.8h-0.8zM307.85 277.41h0.8v0.8h-0.8zM305.93 271h0.8v0.8h-0.8zM300.68 285.96h0.8v0.8h-0.8zM307.42 274.09h0.8v0.8h-0.8zM297.37 291.32h0.8v0.8h-0.8zM298.42 288.62h0.8v0.8h-0.8zM305.45 276.66h0.8v0.8h-0.8zM299.29 289.98h0.8v0.8h-0.8zM305.7 281.79h0.8v0.8h-0.8zM307.43 281.92h0.8v0.8h-0.8zM298.53 291.6h0.8v0.8h-0.8zM306.45 271.73h0.8v0.8h-0.8zM305.71 273.87h0.8v0.8h-0.8zM306.82 272.8h0.8v0.8h-0.8zM308.08 277.31h0.8v0.8h-0.8zM299.06 284.45h0.8v0.8h-0.8zM311.57 277.48h0.8v0.8h-0.8zM307.37 279.37h0.8v0.8h-0.8zM309.34 278.65h0.8v0.8h-0.8zM307.7 274.27h0.8v0.8h-0.8zM303.97 286.2h0.8v0.8h-0.8zM309.23 270.19h0.8v0.8h-0.8zM304.08 281.23h0.8v0.8h-0.8zM301.5 284.43h0.8v0.8h-0.8zM305.62 279.94h0.8v0.8h-0.8zM306.94 267.55h0.8v0.8h-0.8zM307.27 275.47h0.8v0.8h-0.8zM298.02 289.45h0.8v0.8h-0.8zM303.56 286.42h0.8v0.8h-0.8zM301.49 274.07h0.8v0.8h-0.8zM306.89 267.98h0.8v0.8h-0.8zM301.16 277.84h0.8v0.8h-0.8zM308.76 280.82h0.8v0.8h-0.8zM299.28 292.69h0.8v0.8h-0.8zM300.28 288.67h0.8v0.8h-0.8zM305.16 271.7h0.8v0.8h-0.8zM298.69 285.46h0.8v0.8h-0.8zM302.36 278.39h0.8v0.8h-0.8zM308.19 276.47h0.8v0.8h-0.8zM305.66 277.99h0.8v0.8h-0.8zM307.06 273.6h0.8v0.8h-0.8zM306.06 276.74h0.8v0.8h-0.8zM302.58 285.05h0.8v0.8h-0.8zM306.92 278.79h0.8v0.8h-0.8zM306.57 275.44h0.8v0.8h-0.8zM298.49 290.38h0.8v0.8h-0.8zM307.59 268.03h0.8v0.8h-0.8zM308.5 278.44h0.8v0.8h-0.8zM307.34 267.65h0.8v0.8h-0.8zM308.07 271.21h0.8v0.8h-0.8zM298.8 291.61h0.8v0.8h-0.8zM299.04 290.22h0.8v0.8h-0.8zM307.63 271.23h0.8v0.8h-0.8zM298.55 285.3h0.8v0.8h-0.8zM311.34 271.1h0.8v0.8h-0.8zM306.89 267.35h0.8v0.8h-0.8zM308.04 273.92h0.8v0.8h-0.8zM303.76 276.39h0.8v0.8h-0.8zM303.63 281.72h0.8v0.8h-0.8zM307.11 269.49h0.8v0.8h-0.8zM305.78 277.07h0.8v0.8h-0.8zM298.56 289.71h0.8v0.8h-0.8zM306.09 274.38h0.8v0.8h-0.8zM302.27 284.3h0.8v0.8h-0.8zM298.87 288.61h0.8v0.8h-0.8zM304.26 284.07h0.8v0.8h-0.8zM306.64 270.75h0.8v0.8h-0.8zM307.69 274.55h0.8v0.8h-0.8zM304.58 283.81h0.8v0.8h-0.8zM307.17 271.97h0.8v0.8h-0.8zM302.58 277.81h0.8v0.8h-0.8zM302.81 284.3h0.8v0.8h-0.8zM299.43 289.81h0.8v0.8h-0.8zM306.49 275.83h0.8v0.8h-0.8zM304.69 287.69h0.8v0.8h-0.8zM305.04 280.35h0.8v0.8h-0.8zM299.38 285.81h0.8v0.8h-0.8zM310.53 278.9h0.8v0.8h-0.8zM299.59 291.13h0.8v0.8h-0.8zM300.88 285.27h0.8v0.8h-0.8zM306.45 277.44h0.8v0.8h-0.8zM307.92 271.72h0.8v0.8h-0.8zM305.69 274.13h0.8v0.8h-0.8zM301.97 285.43h0.8v0.8h-0.8zM304.85 283.41h0.8v0.8h-0.8zM303.04 279.68h0.8v0.8h-0.8zM307.31 268.47h0.8v0.8h-0.8zM302.63 288.91h0.8v0.8h-0.8zM305.64 272.38h0.8v0.8h-0.8zM300.51 289.91h0.8v0.8h-0.8zM305.86 271h0.8v0.8h-0.8zM298.63 289.24h0.8v0.8h-0.8zM303 283.11h0.8v0.8h-0.8zM300.01 282.28h0.8v0.8h-0.8zM305.65 275.91h0.8v0.8h-0.8zM303.37 285.18h0.8v0.8h-0.8zM310.78 273.94h0.8v0.8h-0.8zM307.15 267.28h0.8v0.8h-0.8zM304.98 274.16h0.8v0.8h-0.8zM297.66 291.45h0.8v0.8h-0.8zM298.7 289.69h0.8v0.8h-0.8zM308.4 273.05h0.8v0.8h-0.8zM305.67 283.42h0.8v0.8h-0.8zM305.14 280.2h0.8v0.8h-0.8zM306.28 271h0.8v0.8h-0.8zM307.38 275.25h0.8v0.8h-0.8zM303.35 279.05h0.8v0.8h-0.8zM299.39 284.05h0.8v0.8h-0.8zM301.37 291.22h0.8v0.8h-0.8zM299.47 289.51h0.8v0.8h-0.8zM299.38 291.22h0.8v0.8h-0.8zM300.73 281.7h0.8v0.8h-0.8zM308.4 268.88h0.8v0.8h-0.8zM300.18 289.87h0.8v0.8h-0.8zM307.6 281.1h0.8v0.8h-0.8zM303.89 276.69h0.8v0.8h-0.8zM306.79 268.42h0.8v0.8h-0.8zM307.75 267.25h0.8v0.8h-0.8zM311.67 278.65h0.8v0.8h-0.8zM304.61 278.03h0.8v0.8h-0.8zM303.15 273.75h0.8v0.8h-0.8zM304.49 282.16h0.8v0.8h-0.8zM306.39 272.92h0.8v0.8h-0.8zM306.63 271.38h0.8v0.8h-0.8zM297.68 285.84h0.8v0.8h-0.8zM304.13 279.32h0.8v0.8h-0.8zM300.48 284.11h0.8v0.8h-0.8zM298.03 288.58h0.8v0.8h-0.8zM303.48 282.19h0.8v0.8h-0.8zM305.05 277.48h0.8v0.8h-0.8zM306.16 280.45h0.8v0.8h-0.8zM300.86 282.2h0.8v0.8h-0.8zM303.67 278.35h0.8v0.8h-0.8zM299.52 278.17h0.8v0.8h-0.8zM298.29 291.53h0.8v0.8h-0.8zM306.45 275.57h0.8v0.8h-0.8zM305.4 272.28h0.8v0.8h-0.8zM302.92 280.78h0.8v0.8h-0.8zM304.61 275.95h0.8v0.8h-0.8zM299.68 285.86h0.8v0.8h-0.8zM307.72 274.94h0.8v0.8h-0.8zM303.87 281.35h0.8v0.8h-0.8zM306.42 276.98h0.8v0.8h-0.8zM306.25 275.99h0.8v0.8h-0.8zM303.5 281.88h0.8v0.8h-0.8zM302.82 288.7h0.8v0.8h-0.8zM307.29 268.71h0.8v0.8h-0.8zM305.81 271.3h0.8v0.8h-0.8zM301.48 282.48h0.8v0.8h-0.8zM305.07 284.05h0.8v0.8h-0.8zM308.79 271.94h0.8v0.8h-0.8zM305.21 273.27h0.8v0.8h-0.8zM309.21 288.64h0.8v0.8h-0.8zM306.34 271.72h0.8v0.8h-0.8zM302.1 284.02h0.8v0.8h-0.8zM305.66 270.86h0.8v0.8h-0.8zM298.37 289.14h0.8v0.8h-0.8zM308.06 268.75h0.8v0.8h-0.8zM304.14 284.04h0.8v0.8h-0.8zM307.23 269.18h0.8v0.8h-0.8zM301.24 286.34h0.8v0.8h-0.8zM303.55 283.6h0.8v0.8h-0.8zM303.94 287.22h0.8v0.8h-0.8zM308.43 279.36h0.8v0.8h-0.8zM303.74 287.14h0.8v0.8h-0.8zM307.08 276.27h0.8v0.8h-0.8zM308.08 276.52h0.8v0.8h-0.8zM306.32 273.27h0.8v0.8h-0.8zM304.98 281.85h0.8v0.8h-0.8zM301.71 281.28h0.8v0.8h-0.8zM302.66 286.8h0.8v0.8h-0.8zM301.56 279.52h0.8v0.8h-0.8zM302.18 278.56h0.8v0.8h-0.8zM302.45 285.93h0.8v0.8h-0.8zM305.82 279.15h0.8v0.8h-0.8zM299.71 287.9h0.8v0.8h-0.8zM303.39 282.22h0.8v0.8h-0.8zM300.03 283.59h0.8v0.8h-0.8zM301.99 278.32h0.8v0.8h-0.8zM305.59 272.75h0.8v0.8h-0.8zM297.88 291.26h0.8v0.8h-0.8zM303.75 281.75h0.8v0.8h-0.8zM298.86 289.63h0.8v0.8h-0.8zM300.51 282.92h0.8v0.8h-0.8zM310.02 275.66h0.8v0.8h-0.8zM305.04 276.59h0.8v0.8h-0.8zM306.85 274.96h0.8v0.8h-0.8zM306.02 271.8h0.8v0.8h-0.8zM303.01 284.33h0.8v0.8h-0.8zM301.5 282.78h0.8v0.8h-0.8zM298.85 287.08h0.8v0.8h-0.8zM305.67 285.76h0.8v0.8h-0.8zM302.02 275.88h0.8v0.8h-0.8zM305.59 275.8h0.8v0.8h-0.8zM303.42 273.78h0.8v0.8h-0.8zM302.92 278.6h0.8v0.8h-0.8zM299.4 291.29h0.8v0.8h-0.8zM306.08 276.72h0.8v0.8h-0.8zM306.44 271.01h0.8v0.8h-0.8zM306.21 270.18h0.8v0.8h-0.8zM297.4 291.3h0.8v0.8h-0.8zM301.62 282.71h0.8v0.8h-0.8zM303.3 280.07h0.8v0.8h-0.8zM309.76 278.81h0.8v0.8h-0.8zM307.34 272.86h0.8v0.8h-0.8zM298.33 291.53h0.8v0.8h-0.8zM307.27 269.8h0.8v0.8h-0.8zM305.2 282.43h0.8v0.8h-0.8zM307.47 267.97h0.8v0.8h-0.8zM306.38 272.67h0.8v0.8h-0.8zM302.61 282.55h0.8v0.8h-0.8zM310.88 269.78h0.8v0.8h-0.8zM303.42 280.89h0.8v0.8h-0.8zM300.11 289.9h0.8v0.8h-0.8zM301.42 287.75h0.8v0.8h-0.8zM302.26 278.36h0.8v0.8h-0.8zM305.42 273.17h0.8v0.8h-0.8zM301.46 284.56h0.8v0.8h-0.8zM308.92 269.37h0.8v0.8h-0.8zM301.65 286.22h0.8v0.8h-0.8zM307.72 267.74h0.8v0.8h-0.8zM303.35 275.53h0.8v0.8h-0.8zM304.28 273.41h0.8v0.8h-0.8zM302.94 282.96h0.8v0.8h-0.8zM304.69 279.45h0.8v0.8h-0.8zM305.67 285.04h0.8v0.8h-0.8zM302.65 279.41h0.8v0.8h-0.8zM311.11 273.03h0.8v0.8h-0.8zM303.89 272.31h0.8v0.8h-0.8zM305.35 271.22h0.8v0.8h-0.8zM300.84 281.37h0.8v0.8h-0.8zM302.84 285.52h0.8v0.8h-0.8zM301.28 276.34h0.8v0.8h-0.8zM307.69 268.46h0.8v0.8h-0.8zM311.64 277.19h0.8v0.8h-0.8zM302.23 287.15h0.8v0.8h-0.8zM304.67 271.89h0.8v0.8h-0.8zM306.32 269.84h0.8v0.8h-0.8zM303.78 273.14h0.8v0.8h-0.8zM306.49 274.55h0.8v0.8h-0.8zM308.76 276.87h0.8v0.8h-0.8zM307.33 279.52h0.8v0.8h-0.8zM301.02 281.97h0.8v0.8h-0.8zM307.19 275.06h0.8v0.8h-0.8zM301.48 281.37h0.8v0.8h-0.8zM299.17 287.53h0.8v0.8h-0.8zM306.37 269.57h0.8v0.8h-0.8zM305.57 268.67h0.8v0.8h-0.8zM301.21 289.84h0.8v0.8h-0.8zM304.73 271.56h0.8v0.8h-0.8zM307.19 277.88h0.8v0.8h-0.8zM300.65 283.67h0.8v0.8h-0.8zM307.85 286.58h0.8v0.8h-0.8zM300.06 288.79h0.8v0.8h-0.8zM306.9 282.82h0.8v0.8h-0.8zM300.31 286.97h0.8v0.8h-0.8zM301.94 274.27h0.8v0.8h-0.8zM307.3 268.5h0.8v0.8h-0.8zM305.04 286.39h0.8v0.8h-0.8zM301.75 286.21h0.8v0.8h-0.8zM303.76 279.38h0.8v0.8h-0.8zM299.48 289.44h0.8v0.8h-0.8zM299.57 288.71h0.8v0.8h-0.8zM300.48 288.05h0.8v0.8h-0.8zM303.95 270.54h0.8v0.8h-0.8zM302.37 279.36h0.8v0.8h-0.8zM306.34 272.71h0.8v0.8h-0.8zM309.27 272.55h0.8v0.8h-0.8zM301.35 284.79h0.8v0.8h-0.8zM303.6 289.36h0.8v0.8h-0.8zM299.16 290.91h0.8v0.8h-0.8zM305.82 274.03h0.8v0.8h-0.8zM306.11 279.83h0.8v0.8h-0.8zM306.4 270.86h0.8v0.8h-0.8zM306.11 276.43h0.8v0.8h-0.8zM302.39 289.03h0.8v0.8h-0.8zM301.13 279.4h0.8v0.8h-0.8zM304.1 282.88h0.8v0.8h-0.8zM302.4 290.48h0.8v0.8h-0.8zM305.59 291.14h0.8v0.8h-0.8zM304.39 274.3h0.8v0.8h-0.8zM311.89 278.58h0.8v0.8h-0.8zM303.28 282.13h0.8v0.8h-0.8zM299.7 289.26h0.8v0.8h-0.8zM303.73 287.03h0.8v0.8h-0.8zM298.34 279.6h0.8v0.8h-0.8zM308.24 274.87h0.8v0.8h-0.8zM301.66 281.63h0.8v0.8h-0.8zM307.39 274.07h0.8v0.8h-0.8zM300.18 282.49h0.8v0.8h-0.8zM313.27 280.84h0.8v0.8h-0.8zM306.81 274.03h0.8v0.8h-0.8zM304.93 282.82h0.8v0.8h-0.8zM305.06 281.41h0.8v0.8h-0.8zM298.34 290.77h0.8v0.8h-0.8zM298.16 289h0.8v0.8h-0.8zM303.21 274.54h0.8v0.8h-0.8zM298.11 289.44h0.8v0.8h-0.8zM299.09 287.18h0.8v0.8h-0.8zM309.14 282.58h0.8v0.8h-0.8zM307.33 269.03h0.8v0.8h-0.8zM307.51 267.09h0.8v0.8h-0.8zM308.27 273.84h0.8v0.8h-0.8zM302.07 283.34h0.8v0.8h-0.8zM298.24 287.14h0.8v0.8h-0.8zM302.28 282.08h0.8v0.8h-0.8zM297.99 290.37h0.8v0.8h-0.8zM299.42 284.51h0.8v0.8h-0.8zM304.52 274.28h0.8v0.8h-0.8zM302.11 275.89h0.8v0.8h-0.8zM308.17 269.3h0.8v0.8h-0.8zM302.28 284.81h0.8v0.8h-0.8zM305.55 283.12h0.8v0.8h-0.8zM305.12 273.74h0.8v0.8h-0.8zM299.24 285.39h0.8v0.8h-0.8zM300.13 286.1h0.8v0.8h-0.8zM307.65 267.69h0.8v0.8h-0.8zM301.67 283.58h0.8v0.8h-0.8zM307.3 270.51h0.8v0.8h-0.8zM305.23 283.41h0.8v0.8h-0.8zM308.04 270.13h0.8v0.8h-0.8zM307.12 271.81h0.8v0.8h-0.8zM301.95 285.28h0.8v0.8h-0.8zM297.31 290.47h0.8v0.8h-0.8zM303.35 275.07h0.8v0.8h-0.8zM303.68 284.58h0.8v0.8h-0.8zM304.83 285.36h0.8v0.8h-0.8zM307.41 275.22h0.8v0.8h-0.8zM304.61 282.91h0.8v0.8h-0.8zM300.79 285.29h0.8v0.8h-0.8zM305.74 270.33h0.8v0.8h-0.8zM307.95 273.1h0.8v0.8h-0.8zM307.47 272.58h0.8v0.8h-0.8zM302.09 284.37h0.8v0.8h-0.8zM308.42 268.02h0.8v0.8h-0.8zM303.67 279.66h0.8v0.8h-0.8zM303.68 285.32h0.8v0.8h-0.8zM302.47 289.95h0.8v0.8h-0.8zM305.52 271.72h0.8v0.8h-0.8zM309.37 276.3h0.8v0.8h-0.8zM308.17 269.1h0.8v0.8h-0.8zM301.19 290.77h0.8v0.8h-0.8zM298.88 290.97h0.8v0.8h-0.8zM307.2 270.08h0.8v0.8h-0.8zM300.53 285.91h0.8v0.8h-0.8zM300.22 283.48h0.8v0.8h-0.8zM301.45 289.9h0.8v0.8h-0.8zM307.69 281.54h0.8v0.8h-0.8zM299.5 286.8h0.8v0.8h-0.8zM298.27 290.57h0.8v0.8h-0.8zM306.56 267.95h0.8v0.8h-0.8zM298.76 288.49h0.8v0.8h-0.8zM301.46 282.94h0.8v0.8h-0.8zM299.94 287.17h0.8v0.8h-0.8zM311.88 273.86h0.8v0.8h-0.8zM312.58 275.38h0.8v0.8h-0.8zM307.97 269.53h0.8v0.8h-0.8zM305.99 281.63h0.8v0.8h-0.8zM305.71 272.47h0.8v0.8h-0.8zM306.8 272.2h0.8v0.8h-0.8zM310.32 272.79h0.8v0.8h-0.8zM302.82 289.59h0.8v0.8h-0.8zM303.64 280.23h0.8v0.8h-0.8zM309.72 277.89h0.8v0.8h-0.8zM301.42 284.69h0.8v0.8h-0.8zM304.14 271.9h0.8v0.8h-0.8zM306.66 277.23h0.8v0.8h-0.8zM308.02 272.92h0.8v0.8h-0.8zM304.69 273.28h0.8v0.8h-0.8zM302.69 281.43h0.8v0.8h-0.8zM298.85 289.16h0.8v0.8h-0.8zM304.18 287.67h0.8v0.8h-0.8zM306.45 281.21h0.8v0.8h-0.8zM308.18 268.66h0.8v0.8h-0.8zM300.83 287.32h0.8v0.8h-0.8zM307.77 272.43h0.8v0.8h-0.8zM301.84 286.3h0.8v0.8h-0.8zM305.82 278.28h0.8v0.8h-0.8zM307.31 269.8h0.8v0.8h-0.8zM302.38 280.95h0.8v0.8h-0.8zM298.32 285.95h0.8v0.8h-0.8zM298.55 283.43h0.8v0.8h-0.8zM306.28 273.87h0.8v0.8h-0.8zM305.13 275.64h0.8v0.8h-0.8zM306.05 277.24h0.8v0.8h-0.8zM303.21 288.11h0.8v0.8h-0.8zM304.51 272.92h0.8v0.8h-0.8zM306.56 271.32h0.8v0.8h-0.8zM306.93 282.38h0.8v0.8h-0.8zM299.86 284.96h0.8v0.8h-0.8zM306.48 277.97h0.8v0.8h-0.8zM305.12 272.24h0.8v0.8h-0.8zM302.21 280.7h0.8v0.8h-0.8zM306 279.14h0.8v0.8h-0.8zM305.07 273.33h0.8v0.8h-0.8zM309.74 270.3h0.8v0.8h-0.8zM297.2 289.57h0.8v0.8h-0.8zM306.69 275.7h0.8v0.8h-0.8zM297.7 290.23h0.8v0.8h-0.8zM303.33 286.53h0.8v0.8h-0.8zM304.44 275.02h0.8v0.8h-0.8zM299.09 287.57h0.8v0.8h-0.8zM304.77 275.62h0.8v0.8h-0.8zM304.37 272.05h0.8v0.8h-0.8zM303.83 274.77h0.8v0.8h-0.8zM308.19 272.39h0.8v0.8h-0.8zM301.71 275.99h0.8v0.8h-0.8zM304.4 280.18h0.8v0.8h-0.8zM308.15 267.66h0.8v0.8h-0.8zM310.62 287.36h0.8v0.8h-0.8zM301.17 288.48h0.8v0.8h-0.8zM307.04 281.46h0.8v0.8h-0.8zM305.38 278.15h0.8v0.8h-0.8zM302.53 283.51h0.8v0.8h-0.8zM307.61 268.41h0.8v0.8h-0.8zM300.86 283.72h0.8v0.8h-0.8zM299.67 287.46h0.8v0.8h-0.8zM305.19 279.54h0.8v0.8h-0.8zM301.48 287.14h0.8v0.8h-0.8zM303.33 276.12h0.8v0.8h-0.8zM300.93 284.92h0.8v0.8h-0.8zM304.26 284.08h0.8v0.8h-0.8zM301.82 273.82h0.8v0.8h-0.8zM308.02 276.5h0.8v0.8h-0.8zM296.26 290.12h0.8v0.8h-0.8zM302.18 277.48h0.8v0.8h-0.8zM306.77 279.28h0.8v0.8h-0.8zM300.02 282.58h0.8v0.8h-0.8zM303.09 283.5h0.8v0.8h-0.8zM309.52 279.24h0.8v0.8h-0.8zM305.44 272.5h0.8v0.8h-0.8zM304.09 272h0.8v0.8h-0.8zM308.5 271.88h0.8v0.8h-0.8zM304.16 279.24h0.8v0.8h-0.8zM299.2 285.21h0.8v0.8h-0.8zM306.75 274.45h0.8v0.8h-0.8zM302.3 289.16h0.8v0.8h-0.8zM298.43 291.8h0.8v0.8h-0.8zM299.57 288.79h0.8v0.8h-0.8zM299.59 291.28h0.8v0.8h-0.8zM303.43 282.12h0.8v0.8h-0.8zM301.69 282.19h0.8v0.8h-0.8zM308.37 268.38h0.8v0.8h-0.8zM306.62 270.92h0.8v0.8h-0.8zM312.52 274.02h0.8v0.8h-0.8zM306.85 274.4h0.8v0.8h-0.8zM302.4 288.71h0.8v0.8h-0.8zM302.74 289.59h0.8v0.8h-0.8zM307.19 272.1h0.8v0.8h-0.8zM304.79 272.81h0.8v0.8h-0.8zM300.23 291.69h0.8v0.8h-0.8zM304.15 282.63h0.8v0.8h-0.8zM300.79 285.47h0.8v0.8h-0.8zM302.37 277.9h0.8v0.8h-0.8zM304.64 281.75h0.8v0.8h-0.8zM305.32 281.6h0.8v0.8h-0.8zM311.58 279.62h0.8v0.8h-0.8zM307.59 273.59h0.8v0.8h-0.8zM309.25 270.9h0.8v0.8h-0.8zM305.24 281.02h0.8v0.8h-0.8zM302.83 283.17h0.8v0.8h-0.8zM305.62 270.45h0.8v0.8h-0.8zM297.55 291.32h0.8v0.8h-0.8zM307.59 273.71h0.8v0.8h-0.8zM298.42 290.79h0.8v0.8h-0.8zM304.83 286.36h0.8v0.8h-0.8zM309.04 269.85h0.8v0.8h-0.8zM303.87 285.53h0.8v0.8h-0.8zM298.71 291.06h0.8v0.8h-0.8zM301.95 290.11h0.8v0.8h-0.8zM307.13 268.11h0.8v0.8h-0.8zM301.94 281.89h0.8v0.8h-0.8zM309.46 286.1h0.8v0.8h-0.8zM306.62 269.41h0.8v0.8h-0.8zM307.76 271.5h0.8v0.8h-0.8zM300.31 285.96h0.8v0.8h-0.8zM300.55 289.74h0.8v0.8h-0.8zM306.15 269.5h0.8v0.8h-0.8zM303.31 283.27h0.8v0.8h-0.8zM307.14 282.5h0.8v0.8h-0.8zM300.08 288.47h0.8v0.8h-0.8zM308.55 284.51h0.8v0.8h-0.8zM307.13 269.94h0.8v0.8h-0.8zM305.92 269.02h0.8v0.8h-0.8zM298.77 287h0.8v0.8h-0.8zM304.31 276.09h0.8v0.8h-0.8zM301.03 289.31h0.8v0.8h-0.8zM309.25 282.03h0.8v0.8h-0.8zM307.61 273.29h0.8v0.8h-0.8zM302.3 286.41h0.8v0.8h-0.8zM305.37 278.08h0.8v0.8h-0.8zM299.68 287.23h0.8v0.8h-0.8zM303.13 286.15h0.8v0.8h-0.8zM307.3 277.34h0.8v0.8h-0.8zM301.18 283.7h0.8v0.8h-0.8zM301.71 287.38h0.8v0.8h-0.8zM304.82 285.61h0.8v0.8h-0.8zM306.2 273.38h0.8v0.8h-0.8zM303.98 282.49h0.8v0.8h-0.8zM302.32 276.5h0.8v0.8h-0.8zM302.98 286.64h0.8v0.8h-0.8zM304.23 276.6h0.8v0.8h-0.8zM299.27 291.48h0.8v0.8h-0.8zM297.1 290.19h0.8v0.8h-0.8zM305.29 288.82h0.8v0.8h-0.8zM303.88 271.65h0.8v0.8h-0.8zM303.4 289.28h0.8v0.8h-0.8zM302.28 281.74h0.8v0.8h-0.8zM308.03 267.4h0.8v0.8h-0.8zM300.27 286.35h0.8v0.8h-0.8zM298.98 288.35h0.8v0.8h-0.8zM300.46 285.17h0.8v0.8h-0.8zM302.56 278.6h0.8v0.8h-0.8zM306.79 269.7h0.8v0.8h-0.8zM302.42 293.06h0.8v0.8h-0.8zM305.54 279.8h0.8v0.8h-0.8zM296.99 291.28h0.8v0.8h-0.8zM307 267.04h0.8v0.8h-0.8zM307.72 282.84h0.8v0.8h-0.8zM304.61 275.23h0.8v0.8h-0.8zM299.07 285.15h0.8v0.8h-0.8zM311.48 283.85h0.8v0.8h-0.8zM307.96 272.3h0.8v0.8h-0.8zM298.82 289.11h0.8v0.8h-0.8zM301.99 287.57h0.8v0.8h-0.8zM300.44 284.37h0.8v0.8h-0.8zM307.61 272.21h0.8v0.8h-0.8zM307.59 269.94h0.8v0.8h-0.8zM308.48 274.64h0.8v0.8h-0.8zM303.22 287.17h0.8v0.8h-0.8zM303.37 285.19h0.8v0.8h-0.8zM308.21 274.96h0.8v0.8h-0.8zM304.24 281.8h0.8v0.8h-0.8zM299.64 282.77h0.8v0.8h-0.8zM307.45 267.08h0.8v0.8h-0.8zM301.03 285.98h0.8v0.8h-0.8zM307.9 273.56h0.8v0.8h-0.8zM302.2 288.76h0.8v0.8h-0.8zM310.77 270.86h0.8v0.8h-0.8zM303.39 286.09h0.8v0.8h-0.8zM306.62 268.93h0.8v0.8h-0.8zM308.32 275.73h0.8v0.8h-0.8zM307.75 270.75h0.8v0.8h-0.8zM310 278.54h0.8v0.8h-0.8zM298.6 289.45h0.8v0.8h-0.8zM309.67 285.35h0.8v0.8h-0.8zM307.6 267.64h0.8v0.8h-0.8zM299.02 289.01h0.8v0.8h-0.8zM304.87 279.51h0.8v0.8h-0.8zM305.26 279.98h0.8v0.8h-0.8zM302.31 281.26h0.8v0.8h-0.8zM303.26 286.17h0.8v0.8h-0.8zM305.16 286.12h0.8v0.8h-0.8zM301.17 287.56h0.8v0.8h-0.8zM299.19 285.07h0.8v0.8h-0.8zM298.49 291.32h0.8v0.8h-0.8zM311.15 275.73h0.8v0.8h-0.8zM307.94 270.27h0.8v0.8h-0.8zM300.61 286.85h0.8v0.8h-0.8zM297.46 290.32h0.8v0.8h-0.8zM306.23 284.35h0.8v0.8h-0.8zM297.41 288.83h0.8v0.8h-0.8zM301.46 281.23h0.8v0.8h-0.8zM304.87 287.56h0.8v0.8h-0.8zM308.26 279.58h0.8v0.8h-0.8zM310.58 275.72h0.8v0.8h-0.8zM306.69 270.27h0.8v0.8h-0.8zM305.44 274.4h0.8v0.8h-0.8zM309.33 272.72h0.8v0.8h-0.8zM307.19 267.02h0.8v0.8h-0.8zM303.83 282.9h0.8v0.8h-0.8zM299.17 288.13h0.8v0.8h-0.8zM302.72 289.15h0.8v0.8h-0.8zM305 281.52h0.8v0.8h-0.8zM305.51 275.07h0.8v0.8h-0.8zM308.38 272.24h0.8v0.8h-0.8zM299.88 288.13h0.8v0.8h-0.8zM305.31 279.94h0.8v0.8h-0.8zM298.54 290.2h0.8v0.8h-0.8zM305.66 278.65h0.8v0.8h-0.8zM309.65 271.77h0.8v0.8h-0.8zM310.21 287.09h0.8v0.8h-0.8zM306.05 275.76h0.8v0.8h-0.8zM304.18 276.32h0.8v0.8h-0.8zM307.34 276.68h0.8v0.8h-0.8zM300.86 288.05h0.8v0.8h-0.8z" fill="#111"/>
<path d="M303.81 298.85h0.8v0.8h-0.8zM299.32 288.18h0.8v0.8h-0.8zM303.5 300.77h0.8v0.8h-0.8zM303.13 290.16h0.8v0.8h-0.8zM299.95 296.92h0.8v0.8h-0.8zM304.19 288.23h0.8v0.8h-0.8zM302.33 291.38h0.8v0.8h-0.8zM305.13 288.56h0.8v0.8h-0.8zM301.4 291.16h0.8v0.8h-0.8zM304.72 296.52h0.8v0.8h-0.8zM308.43 286.16h0.8v0.8h-0.8zM303.68 289.4h0.8v0.8h-0.8zM305.77 293.96h0.8v0.8h-0.8zM300.86 288.49h0.8v0.8h-0.8zM301.85 302.04h0.8v0.8h-0.8zM302.54 304.77h0.8v0.8h-0.8zM299.19 287.44h0.8v0.8h-0.8zM303.45 296.29h0.8v0.8h-0.8zM300.1 293.9h0.8v0.8h-0.8zM303.34 283.36h0.8v0.8h-0.8zM304.4 289.2h0.8v0.8h-0.8zM297.38 291.39h0.8v0.8h-0.8zM301.64 294.09h0.8v0.8h-0.8zM311.85 296.35h0.8v0.8h-0.8zM305.76 297.12h0.8v0.8h-0.8zM303.61 299.02h0.8v0.8h-0.8zM299.9 296.41h0.8v0.8h-0.8zM304.84 281.54h0.8v0.8h-0.8zM303.86 291.82h0.8v0.8h-0.8zM304.61 285.19h0.8v0.8h-0.8zM306.34 281.32h0.8v0.8h-0.8zM303.39 296.01h0.8v0.8h-0.8zM305.97 290.85h0.8v0.8h-0.8zM311.63 282.39h0.8v0.8h-0.8zM302.03 284.38h0.8v0.8h-0.8zM300.83 290.47h0.8v0.8h-0.8zM308.2 287.38h0.8v0.8h-0.8zM305.12 291.4h0.8v0.8h-0.8zM306.38 287.61h0.8v0.8h-0.8zM300.93 289.16h0.8v0.8h-0.8zM304.01 284.78h0.8v0.8h-0.8zM305.48 298h0.8v0.8h-0.8zM299.15 289.27h0.8v0.8h-0.8zM302.3 284.57h0.8v0.8h-0.8zM302.21 294.72h0.8v0.8h-0.8zM302.05 293.65h0.8v0.8h-0.8zM300.64 292.19h0.8v0.8h-0.8zM298.73 292.23h0.8v0.8h-0.8zM304.52 288.86h0.8v0.8h-0.8zM303.88 290.29h0.8v0.8h-0.8zM307 278.93h0.8v0.8h-0.8zM302.81 282.51h0.8v0.8h-0.8zM300.74 284.3h0.8v0.8h-0.8zM298.07 292.57h0.8v0.8h-0.8zM303.33 297.67h0.8v0.8h-0.8zM301.97 290.11h0.8v0.8h-0.8zM309.94 289.55h0.8v0.8h-0.8zM310.89 297.16h0.8v0.8h-0.8zM308.44 289.02h0.8v0.8h-0.8zM299.94 294.59h0.8v0.8h-0.8zM298.26 293.36h0.8v0.8h-0.8zM302.23 283.76h0.8v0.8h-0.8zM299.97 292.73h0.8v0.8h-0.8zM307.9 292.13h0.8v0.8h-0.8zM303.43 284.73h0.8v0.8h-0.8zM301.64 285.35h0.8v0.8h-0.8zM302.99 284.05h0.8v0.8h-0.8zM307.34 298.5h0.8v0.8h-0.8zM299.8 302.55h0.8v0.8h-0.8zM304.7 294.87h0.8v0.8h-0.8zM298.5 299.58h0.8v0.8h-0.8zM302.32 283.64h0.8v0.8h-0.8zM300.77 298.7h0.8v0.8h-0.8zM304.11 301.79h0.8v0.8h-0.8zM303.56 299.84h0.8v0.8h-0.8zM307.14 285.87h0.8v0.8h-0.8zM305.38 296.95h0.8v0.8h-0.8zM300.96 290.38h0.8v0.8h-0.8zM298.5 296.89h0.8v0.8h-0.8zM300.24 287.5h0.8v0.8h-0.8zM301.57 291.08h0.8v0.8h-0.8zM302.24 287.89h0.8v0.8h-0.8zM300.43 293.62h0.8v0.8h-0.8zM306.73 290.46h0.8v0.8h-0.8zM306.22 297.1h0.8v0.8h-0.8zM302.1 295.52h0.8v0.8h-0.8zM301.33 293.29h0.8v0.8h-0.8zM302.21 290.81h0.8v0.8h-0.8zM302.87 289.36h0.8v0.8h-0.8zM302.95 291.04h0.8v0.8h-0.8zM297.48 295.12h0.8v0.8h-0.8zM301.55 291.72h0.8v0.8h-0.8zM303.14 290.81h0.8v0.8h-0.8zM305.34 290.6h0.8v0.8h-0.8zM299.38 287.37h0.8v0.8h-0.8zM303.59 280.73h0.8v0.8h-0.8zM300.92 294.15h0.8v0.8h-0.8zM300.64 294.08h0.8v0.8h-0.8zM309.75 285.7h0.8v0.8h-0.8zM306.07 301.49h0.8v0.8h-0.8zM304.68 284.62h0.8v0.8h-0.8zM301.53 296.48h0.8v0.8h-0.8zM304.43 292.4h0.8v0.8h-0.8zM302.36 292.75h0.8v0.8h-0.8zM304.58 297.25h0.8v0.8h-0.8zM299.94 296.07h0.8v0.8h-0.8zM302.77 291.15h0.8v0.8h-0.8zM301.67 285.22h0.8v0.8h-0.8zM298.18 284.33h0.8v0.8h-0.8zM308.81 292.06h0.8v0.8h-0.8zM305.82 299.68h0.8v0.8h-0.8zM300.31 295.84h0.8v0.8h-0.8zM297.99 290.85h0.8v0.8h-0.8zM300.53 292.83h0.8v0.8h-0.8zM300.15 294.78h0.8v0.8h-0.8zM300.93 300.45h0.8v0.8h-0.8zM297.83 286.85h0.8v0.8h-0.8zM300.17 295h0.8v0.8h-0.8zM303.23 292.55h0.8v0.8h-0.8zM304.43 286.86h0.8v0.8h-0.8zM303.01 297.98h0.8v0.8h-0.8zM299.63 292.84h0.8v0.8h-0.8zM299.44 289.87h0.8v0.8h-0.8zM301.92 291.57h0.8v0.8h-0.8zM300.66 296.41h0.8v0.8h-0.8zM305.41 291.54h0.8v0.8h-0.8zM305.42 299.83h0.8v0.8h-0.8zM301.96 289.6h0.8v0.8h-0.8zM300.8 286.72h0.8v0.8h-0.8zM309.16 290.41h0.8v0.8h-0.8zM309.42 285.88h0.8v0.8h-0.8zM304.34 289.11h0.8v0.8h-0.8zM302.48 297.75h0.8v0.8h-0.8zM306.47 300.39h0.8v0.8h-0.8zM313.33 287.97h0.8v0.8h-0.8zM305.32 282.39h0.8v0.8h-0.8zM304.22 274.5h0.8v0.8h-0.8zM306.76 298.67h0.8v0.8h-0.8zM318.58 281.04h0.8v0.8h-0.8zM317.64 277.4h0.8v0.8h-0.8zM306.03 299.55h0.8v0.8h-0.8zM300.62 292.52h0.8v0.8h-0.8zM301.96 286.26h0.8v0.8h-0.8zM309.06 280.52h0.8v0.8h-0.8zM300.51 294.25h0.8v0.8h-0.8zM313.76 291.06h0.8v0.8h-0.8z" fill="#666"/>
<rect x="292.8" y="303" width="6" height="14" fill="#fff" stroke="#111" stroke-width="0.9"/>
<path d="M377.28 297.92h0.8v0.8h-0.8zM383.36 294.1h0.8v0.8h-0.8zM373.86 302.99h0.8v0.8h-0.8zM383.4 303.53h0.8v0.8h-0.8zM371.67 294.53h0.8v0.8h-0.8zM367.22 308.54h0.8v0.8h-0.8zM374.26 299.43h0.8v0.8h-0.8zM379.43 298.69h0.8v0.8h-0.8zM381.48 295.05h0.8v0.8h-0.8zM376.61 300.91h0.8v0.8h-0.8zM370.24 306.83h0.8v0.8h-0.8zM381.16 295.24h0.8v0.8h-0.8zM377.4 301.76h0.8v0.8h-0.8zM363.75 303.52h0.8v0.8h-0.8zM374.17 305.1h0.8v0.8h-0.8zM379.14 295h0.8v0.8h-0.8zM365.01 309.8h0.8v0.8h-0.8zM364.94 311.58h0.8v0.8h-0.8zM367.7 309.91h0.8v0.8h-0.8zM368.07 312.92h0.8v0.8h-0.8zM368.83 313.27h0.8v0.8h-0.8zM365.01 304.55h0.8v0.8h-0.8zM367.02 310.37h0.8v0.8h-0.8zM368.31 308.82h0.8v0.8h-0.8zM375.28 299.16h0.8v0.8h-0.8zM375.62 298.1h0.8v0.8h-0.8zM373.61 305.05h0.8v0.8h-0.8zM381.85 300.2h0.8v0.8h-0.8zM367.26 315.49h0.8v0.8h-0.8zM380.91 296.32h0.8v0.8h-0.8zM363.11 312.48h0.8v0.8h-0.8zM376.21 301.16h0.8v0.8h-0.8zM369.83 308.8h0.8v0.8h-0.8zM375.13 296.78h0.8v0.8h-0.8zM376.78 294.58h0.8v0.8h-0.8zM370.92 297.29h0.8v0.8h-0.8zM370.62 310.41h0.8v0.8h-0.8zM367.3 312.28h0.8v0.8h-0.8zM371.49 294.07h0.8v0.8h-0.8zM377.62 300.08h0.8v0.8h-0.8zM371.15 303.04h0.8v0.8h-0.8zM373.2 306.01h0.8v0.8h-0.8zM372.89 300.88h0.8v0.8h-0.8zM381.58 298.35h0.8v0.8h-0.8zM368.11 310.13h0.8v0.8h-0.8zM374.17 303.88h0.8v0.8h-0.8zM380.15 299.99h0.8v0.8h-0.8zM369.69 305.71h0.8v0.8h-0.8zM371.23 299h0.8v0.8h-0.8zM378.34 302.48h0.8v0.8h-0.8zM368.17 308.57h0.8v0.8h-0.8zM368.26 309.72h0.8v0.8h-0.8zM375.8 306.47h0.8v0.8h-0.8zM383.33 293.78h0.8v0.8h-0.8zM376.91 297.43h0.8v0.8h-0.8zM377.01 299.22h0.8v0.8h-0.8zM373.62 310h0.8v0.8h-0.8zM377.62 301.12h0.8v0.8h-0.8zM372.58 300.96h0.8v0.8h-0.8zM369.82 304.55h0.8v0.8h-0.8zM375.52 297.27h0.8v0.8h-0.8zM380 299.35h0.8v0.8h-0.8zM369.81 306.38h0.8v0.8h-0.8zM371.26 308.04h0.8v0.8h-0.8zM372.4 311.62h0.8v0.8h-0.8zM381.32 300.82h0.8v0.8h-0.8zM376.48 303.12h0.8v0.8h-0.8zM382.02 298.07h0.8v0.8h-0.8zM373.07 309.32h0.8v0.8h-0.8zM371.08 301.69h0.8v0.8h-0.8zM378.8 291.69h0.8v0.8h-0.8zM372.16 302.01h0.8v0.8h-0.8zM385.2 297.75h0.8v0.8h-0.8zM380.45 298.4h0.8v0.8h-0.8zM373.67 303.26h0.8v0.8h-0.8zM366.75 309h0.8v0.8h-0.8zM372.78 302.75h0.8v0.8h-0.8zM368.47 302.54h0.8v0.8h-0.8zM376.64 309.12h0.8v0.8h-0.8zM368.52 314.98h0.8v0.8h-0.8zM371.37 304.99h0.8v0.8h-0.8zM374.02 304.55h0.8v0.8h-0.8zM370.6 298.98h0.8v0.8h-0.8zM378.89 301.36h0.8v0.8h-0.8zM371.21 304.18h0.8v0.8h-0.8zM379.63 304.15h0.8v0.8h-0.8zM372.93 299.54h0.8v0.8h-0.8zM380.92 299.03h0.8v0.8h-0.8zM371.7 306.15h0.8v0.8h-0.8zM379 295.96h0.8v0.8h-0.8zM373.7 307.16h0.8v0.8h-0.8zM368.8 311.71h0.8v0.8h-0.8zM365.91 308.04h0.8v0.8h-0.8zM371.12 315.27h0.8v0.8h-0.8zM375.15 299.87h0.8v0.8h-0.8zM376.27 302.06h0.8v0.8h-0.8zM372.53 304.69h0.8v0.8h-0.8zM366.89 304.19h0.8v0.8h-0.8zM366.36 311.04h0.8v0.8h-0.8zM375.94 300.63h0.8v0.8h-0.8zM370.1 312.28h0.8v0.8h-0.8zM369.71 301.34h0.8v0.8h-0.8zM379.74 297.18h0.8v0.8h-0.8zM375.16 302.1h0.8v0.8h-0.8zM370.45 304.73h0.8v0.8h-0.8zM375.28 300.01h0.8v0.8h-0.8zM367.12 312.36h0.8v0.8h-0.8zM377.49 298.44h0.8v0.8h-0.8zM378.35 300.73h0.8v0.8h-0.8zM376.18 305.05h0.8v0.8h-0.8zM366.83 306.91h0.8v0.8h-0.8zM368.91 308.55h0.8v0.8h-0.8zM365.83 306.19h0.8v0.8h-0.8zM367.83 308.7h0.8v0.8h-0.8zM365.08 316.27h0.8v0.8h-0.8zM367.33 303.08h0.8v0.8h-0.8zM367.15 305h0.8v0.8h-0.8zM364.8 306.21h0.8v0.8h-0.8zM362.67 308.14h0.8v0.8h-0.8zM363.19 314.01h0.8v0.8h-0.8zM363.93 312.86h0.8v0.8h-0.8zM367.21 311.89h0.8v0.8h-0.8zM365.7 310.8h0.8v0.8h-0.8zM367.04 305.51h0.8v0.8h-0.8zM367.59 305.42h0.8v0.8h-0.8zM369.05 309.9h0.8v0.8h-0.8zM364.69 310.81h0.8v0.8h-0.8zM367.2 309.05h0.8v0.8h-0.8zM367.54 306.65h0.8v0.8h-0.8zM363.91 304.79h0.8v0.8h-0.8zM366.27 308.9h0.8v0.8h-0.8zM363.99 307.18h0.8v0.8h-0.8zM365.5 308.08h0.8v0.8h-0.8zM366.92 305.7h0.8v0.8h-0.8zM362.27 315.32h0.8v0.8h-0.8zM364.08 311.79h0.8v0.8h-0.8zM364.23 317.36h0.8v0.8h-0.8zM366.2 307.95h0.8v0.8h-0.8zM364.38 310.23h0.8v0.8h-0.8zM366.81 309.01h0.8v0.8h-0.8zM364.12 310.08h0.8v0.8h-0.8zM364.87 308.98h0.8v0.8h-0.8zM367.32 309.34h0.8v0.8h-0.8zM366.69 302.16h0.8v0.8h-0.8zM366.33 308.91h0.8v0.8h-0.8zM365.91 312.74h0.8v0.8h-0.8zM368.19 302.25h0.8v0.8h-0.8zM369 308.61h0.8v0.8h-0.8zM365.18 312.27h0.8v0.8h-0.8zM364.41 315.03h0.8v0.8h-0.8zM363.72 309.66h0.8v0.8h-0.8zM369.79 311.81h0.8v0.8h-0.8zM364.04 316.96h0.8v0.8h-0.8zM363.1 315.15h0.8v0.8h-0.8zM366.58 308.2h0.8v0.8h-0.8zM368.29 307.59h0.8v0.8h-0.8zM363.29 314.04h0.8v0.8h-0.8zM365.72 310.88h0.8v0.8h-0.8zM362.86 307.84h0.8v0.8h-0.8zM364.47 309.08h0.8v0.8h-0.8zM369.55 311.25h0.8v0.8h-0.8zM366.36 309.2h0.8v0.8h-0.8zM365.43 308.99h0.8v0.8h-0.8zM366.15 309.06h0.8v0.8h-0.8zM366.61 304.07h0.8v0.8h-0.8zM365.77 316.89h0.8v0.8h-0.8zM363.4 314.84h0.8v0.8h-0.8zM363.41 316.01h0.8v0.8h-0.8zM370.39 309.46h0.8v0.8h-0.8zM364.32 310.49h0.8v0.8h-0.8zM368.61 312.28h0.8v0.8h-0.8zM364.43 313.26h0.8v0.8h-0.8zM368.84 302.74h0.8v0.8h-0.8zM367.52 311.4h0.8v0.8h-0.8zM365.54 306.03h0.8v0.8h-0.8zM370.39 309.71h0.8v0.8h-0.8zM363.95 307.36h0.8v0.8h-0.8zM365.48 316.76h0.8v0.8h-0.8zM364.12 312.13h0.8v0.8h-0.8z" fill="#333"/>
<rect x="363.3" y="302.9" width="5.4" height="13.4" fill="none" stroke="#111" stroke-width="0.9"/>
<line x1="272.4" y1="331" x2="272.4" y2="273.8" stroke="#000" stroke-width="2.3"/>
<path d="M272.4 266.8L269.8 274.8L275 274.8z" fill="#000"/>
<line x1="271.3" y1="330" x2="402.9" y2="330" stroke="#000" stroke-width="2.3"/>
<path d="M411.4 330L401.9 327.4L401.9 332.6z" fill="#000"/>
<text x="265.4" y="316.7" font-size="7.8" font-weight="bold" stroke="#000" stroke-width="0.32" textLength="33" lengthAdjust="spacingAndGlyphs" transform="rotate(-90 265.4 316.7)">Pyronin Y</text>
<text x="316.5" y="341.2" font-size="8" font-weight="bold" stroke="#000" stroke-width="0.32" textLength="51.5" lengthAdjust="spacingAndGlyphs">Hoechst 33342</text>
<text x="60.8" y="362.2" font-size="10.6" stroke="#111" stroke-width="0.45">J</text>
<line x1="86.3" y1="437.7" x2="139.8" y2="437.7" stroke="#9a9a9a" stroke-width="0.7"/>
<text x="81.6" y="440.7" font-size="6.5" font-weight="bold" fill="#222" stroke="#222" stroke-width="0.32" text-anchor="end">0</text>
<line x1="86.3" y1="425.6" x2="139.8" y2="425.6" stroke="#9a9a9a" stroke-width="0.7"/>
<text x="81.6" y="428.6" font-size="6.5" font-weight="bold" fill="#222" stroke="#222" stroke-width="0.32" text-anchor="end">10</text>
<line x1="86.3" y1="413.5" x2="139.8" y2="413.5" stroke="#9a9a9a" stroke-width="0.7"/>
<text x="81.6" y="416.5" font-size="6.5" font-weight="bold" fill="#222" stroke="#222" stroke-width="0.32" text-anchor="end">20</text>
<line x1="86.3" y1="401.4" x2="139.8" y2="401.4" stroke="#9a9a9a" stroke-width="0.7"/>
<text x="81.6" y="404.4" font-size="6.5" font-weight="bold" fill="#222" stroke="#222" stroke-width="0.32" text-anchor="end">30</text>
<line x1="86.3" y1="389.3" x2="139.8" y2="389.3" stroke="#9a9a9a" stroke-width="0.7"/>
<text x="81.6" y="392.3" font-size="6.5" font-weight="bold" fill="#222" stroke="#222" stroke-width="0.32" text-anchor="end">40</text>
<line x1="86.3" y1="377.2" x2="139.8" y2="377.2" stroke="#9a9a9a" stroke-width="0.7"/>
<text x="81.6" y="380.2" font-size="6.5" font-weight="bold" fill="#222" stroke="#222" stroke-width="0.32" text-anchor="end">50</text>
<line x1="86.3" y1="377.2" x2="86.3" y2="437.7" stroke="#9a9a9a" stroke-width="0.7"/>
<line x1="86.5" y1="437.7" x2="86.5" y2="439.2" stroke="#999" stroke-width="0.5"/>
<text x="86.5" y="449.3" font-size="6.3" font-weight="bold" fill="#222" stroke="#222" stroke-width="0.32" text-anchor="middle">0</text>
<line x1="95.24" y1="437.7" x2="95.24" y2="439.2" stroke="#999" stroke-width="0.5"/>
<text x="95.24" y="449.3" font-size="6.3" font-weight="bold" fill="#222" stroke="#222" stroke-width="0.32" text-anchor="middle">2</text>
<line x1="103.98" y1="437.7" x2="103.98" y2="439.2" stroke="#999" stroke-width="0.5"/>
<text x="103.98" y="449.3" font-size="6.3" font-weight="bold" fill="#222" stroke="#222" stroke-width="0.32" text-anchor="middle">4</text>
<line x1="112.72" y1="437.7" x2="112.72" y2="439.2" stroke="#999" stroke-width="0.5"/>
<text x="112.72" y="449.3" font-size="6.3" font-weight="bold" fill="#222" stroke="#222" stroke-width="0.32" text-anchor="middle">6</text>
<line x1="121.46" y1="437.7" x2="121.46" y2="439.2" stroke="#999" stroke-width="0.5"/>
<text x="121.46" y="449.3" font-size="6.3" font-weight="bold" fill="#222" stroke="#222" stroke-width="0.32" text-anchor="middle">8</text>
<line x1="130.2" y1="437.7" x2="130.2" y2="439.2" stroke="#999" stroke-width="0.5"/>
<text x="130.2" y="449.3" font-size="6.3" font-weight="bold" fill="#222" stroke="#222" stroke-width="0.32" text-anchor="middle">10</text>
<line x1="138.94" y1="437.7" x2="138.94" y2="439.2" stroke="#999" stroke-width="0.5"/>
<text x="138.94" y="449.3" font-size="6.3" font-weight="bold" fill="#222" stroke="#222" stroke-width="0.32" text-anchor="middle">12</text>
<path d="M86.5 436.49 C87.96 435.18 90.87 432.36 95.24 428.62 C99.61 424.89 106.89 420.46 112.72 414.11 C118.55 407.75 127.29 394.44 130.2 390.51" fill="none" stroke="#8a8a8a" stroke-width="1.3" stroke-dasharray="4 2.4"/>
<circle cx="86.5" cy="436.49" r="1.8" fill="#999" stroke="#888" stroke-width="0.4"/>
<circle cx="95.24" cy="428.62" r="1.8" fill="#999" stroke="#888" stroke-width="0.4"/>
<circle cx="112.72" cy="414.11" r="1.8" fill="#999" stroke="#888" stroke-width="0.4"/>
<circle cx="130.2" cy="390.51" r="1.8" fill="#999" stroke="#888" stroke-width="0.4"/>
<path d="M86.5 436.49 C87.96 436.29 90.87 435.78 95.24 435.28 C99.61 434.78 106.89 434.47 112.72 433.46 C118.55 432.46 127.29 429.94 130.2 429.23" fill="none" stroke="#000" stroke-width="2.8"/>
<rect x="84.3" y="434.29" width="4.4" height="4.4" fill="#000"/>
<rect x="93.04" y="433.08" width="4.4" height="4.4" fill="#000"/>
<rect x="110.52" y="431.26" width="4.4" height="4.4" fill="#000"/>
<rect x="128" y="427.03" width="4.4" height="4.4" fill="#000"/>
<rect x="91" y="367.2" width="38.7" height="18.5" fill="#fff" stroke="#999" stroke-width="0.6"/>
<line x1="93.5" y1="372.8" x2="106.5" y2="372.8" stroke="#8a8a8a" stroke-width="1.3" stroke-dasharray="4 2"/>
<circle cx="100" cy="372.8" r="1.9" fill="#a0a0a0" stroke="#808080" stroke-width="0.6"/>
<text x="107.8" y="375" font-size="6.2" font-weight="bold" fill="#222" stroke="#222" stroke-width="0.32" textLength="18.2" lengthAdjust="spacingAndGlyphs">Vector</text>
<line x1="93.5" y1="381.3" x2="108" y2="381.3" stroke="#000" stroke-width="2.8"/>
<rect x="97.8" y="379.1" width="4.4" height="4.4" fill="#000"/>
<text x="108.3" y="383.5" font-size="6.2" font-weight="bold" fill="#222" stroke="#222" stroke-width="0.32" textLength="18.5" lengthAdjust="spacingAndGlyphs">GATA-2</text>
<text x="71.5" y="450.8" font-size="7.2" font-weight="bold" stroke="#000" stroke-width="0.32" textLength="78.5" lengthAdjust="spacingAndGlyphs" transform="rotate(-90 71.5 450.8)">Proliferation relative to d0</text>
<text x="104.3" y="460" font-size="8.5" font-weight="bold" stroke="#000" stroke-width="0.32" textLength="19" lengthAdjust="spacingAndGlyphs">Days</text>
<text x="151.3" y="362.1" font-size="10.8" stroke="#111" stroke-width="0.45">K</text>
<line x1="170.4" y1="437.3" x2="209.8" y2="437.3" stroke="#9a9a9a" stroke-width="0.7"/>
<text x="166.1" y="439.5" font-size="6.2" font-weight="bold" fill="#333" stroke="#333" stroke-width="0.32" text-anchor="end">0</text>
<line x1="170.4" y1="423.45" x2="209.8" y2="423.45" stroke="#9a9a9a" stroke-width="0.7"/>
<text x="166.1" y="425.65" font-size="6.2" font-weight="bold" fill="#333" stroke="#333" stroke-width="0.32" text-anchor="end">5</text>
<line x1="170.4" y1="409.6" x2="209.8" y2="409.6" stroke="#9a9a9a" stroke-width="0.7"/>
<text x="166.1" y="411.8" font-size="6.2" font-weight="bold" fill="#333" stroke="#333" stroke-width="0.32" text-anchor="end">10</text>
<line x1="170.4" y1="395.75" x2="209.8" y2="395.75" stroke="#9a9a9a" stroke-width="0.7"/>
<text x="166.1" y="397.95" font-size="6.2" font-weight="bold" fill="#333" stroke="#333" stroke-width="0.32" text-anchor="end">15</text>
<line x1="170.4" y1="381.9" x2="209.8" y2="381.9" stroke="#9a9a9a" stroke-width="0.7"/>
<text x="166.1" y="384.1" font-size="6.2" font-weight="bold" fill="#333" stroke="#333" stroke-width="0.32" text-anchor="end">20</text>
<line x1="170.4" y1="368.05" x2="209.8" y2="368.05" stroke="#9a9a9a" stroke-width="0.7"/>
<text x="166.1" y="370.25" font-size="6.2" font-weight="bold" fill="#333" stroke="#333" stroke-width="0.32" text-anchor="end">25</text>
<line x1="170.4" y1="368.05" x2="170.4" y2="437.3" stroke="#9a9a9a" stroke-width="0.7"/>
<line x1="209.8" y1="437.3" x2="209.8" y2="438.8" stroke="#9a9a9a" stroke-width="0.6"/>
<line x1="170.4" y1="437.3" x2="170.4" y2="438.8" stroke="#9a9a9a" stroke-width="0.6"/>
<rect x="179.2" y="384.12" width="10.8" height="53.18" fill="#7f7f7f"/>
<rect x="190" y="397.13" width="10.9" height="40.17" fill="#161616"/>
<rect x="183.9" y="365.05" width="31.9" height="13" fill="#fff"/>
<rect x="185.4" y="367.05" width="2.3" height="2.3" fill="#8a8a8a" stroke="#555" stroke-width="0.4"/>
<text x="190.3" y="370.55" font-size="6" font-weight="bold" fill="#222" stroke="#222" stroke-width="0.32" textLength="16.8" lengthAdjust="spacingAndGlyphs">Vector</text>
<rect x="185.4" y="373.25" width="2.3" height="2.4" fill="#000"/>
<text x="190.3" y="376.55" font-size="6" font-weight="bold" fill="#222" stroke="#222" stroke-width="0.32" textLength="20.2" lengthAdjust="spacingAndGlyphs">GATA-2</text>
<text x="180.5" y="448.8" font-size="8.2" font-weight="bold" stroke="#000" stroke-width="0.32" textLength="19" lengthAdjust="spacingAndGlyphs">Day 2</text>
<text x="157.1" y="422" font-size="5.2" font-weight="bold" fill="#333" stroke="#333" stroke-width="0.32" textLength="37" lengthAdjust="spacingAndGlyphs" transform="rotate(-90 157.1 422)">% Annexin V+</text>
<line x1="236" y1="437.3" x2="276.5" y2="437.3" stroke="#9a9a9a" stroke-width="0.7"/>
<text x="231.7" y="439.5" font-size="6.2" font-weight="bold" fill="#333" stroke="#333" stroke-width="0.32" text-anchor="end">0</text>
<line x1="236" y1="425.7" x2="276.5" y2="425.7" stroke="#9a9a9a" stroke-width="0.7"/>
<text x="231.7" y="427.9" font-size="6.2" font-weight="bold" fill="#333" stroke="#333" stroke-width="0.32" text-anchor="end">5</text>
<line x1="236" y1="414.1" x2="276.5" y2="414.1" stroke="#9a9a9a" stroke-width="0.7"/>
<text x="231.7" y="416.3" font-size="6.2" font-weight="bold" fill="#333" stroke="#333" stroke-width="0.32" text-anchor="end">10</text>
<line x1="236" y1="402.5" x2="276.5" y2="402.5" stroke="#9a9a9a" stroke-width="0.7"/>
<text x="231.7" y="404.7" font-size="6.2" font-weight="bold" fill="#333" stroke="#333" stroke-width="0.32" text-anchor="end">15</text>
<line x1="236" y1="390.9" x2="276.5" y2="390.9" stroke="#9a9a9a" stroke-width="0.7"/>
<text x="231.7" y="393.1" font-size="6.2" font-weight="bold" fill="#333" stroke="#333" stroke-width="0.32" text-anchor="end">20</text>
<line x1="236" y1="379.3" x2="276.5" y2="379.3" stroke="#9a9a9a" stroke-width="0.7"/>
<text x="231.7" y="381.5" font-size="6.2" font-weight="bold" fill="#333" stroke="#333" stroke-width="0.32" text-anchor="end">25</text>
<line x1="236" y1="367.7" x2="276.5" y2="367.7" stroke="#9a9a9a" stroke-width="0.7"/>
<text x="231.7" y="369.9" font-size="6.2" font-weight="bold" fill="#333" stroke="#333" stroke-width="0.32" text-anchor="end">30</text>
<line x1="236" y1="367.7" x2="236" y2="437.3" stroke="#9a9a9a" stroke-width="0.7"/>
<line x1="276.5" y1="437.3" x2="276.5" y2="438.8" stroke="#9a9a9a" stroke-width="0.6"/>
<line x1="236" y1="437.3" x2="236" y2="438.8" stroke="#9a9a9a" stroke-width="0.6"/>
<rect x="245" y="377.21" width="10.8" height="60.09" fill="#7f7f7f"/>
<rect x="255.8" y="405.98" width="11.5" height="31.32" fill="#161616"/>
<rect x="256.4" y="364.7" width="26.1" height="13" fill="#fff"/>
<rect x="257.9" y="366.7" width="2.3" height="2.3" fill="#8a8a8a" stroke="#555" stroke-width="0.4"/>
<text x="262.8" y="370.2" font-size="6" font-weight="bold" fill="#222" stroke="#222" stroke-width="0.32" textLength="16.8" lengthAdjust="spacingAndGlyphs">Vector</text>
<rect x="257.9" y="372.9" width="2.3" height="2.4" fill="#000"/>
<text x="262.8" y="376.2" font-size="6" font-weight="bold" fill="#222" stroke="#222" stroke-width="0.32" textLength="20.2" lengthAdjust="spacingAndGlyphs">GATA-2</text>
<text x="245.8" y="448.8" font-size="8.2" font-weight="bold" stroke="#000" stroke-width="0.32" textLength="22.2" lengthAdjust="spacingAndGlyphs">Day 11</text>
<text x="222.8" y="425.4" font-size="5.2" font-weight="bold" fill="#333" stroke="#333" stroke-width="0.32" textLength="36.4" lengthAdjust="spacingAndGlyphs" transform="rotate(-90 222.8 425.4)">% Annexin V+</text>
<text x="293.6" y="362.8" font-size="10.8" stroke="#111" stroke-width="0.45">L</text>
<line x1="326.3" y1="450.7" x2="450.5" y2="450.7" stroke="#a8a8a8" stroke-width="0.7"/>
<text x="323" y="452.3" font-size="4.8" font-weight="bold" fill="#333" stroke="#333" stroke-width="0.32" text-anchor="end">0</text>
<line x1="326.3" y1="439" x2="450.5" y2="439" stroke="#a8a8a8" stroke-width="0.7"/>
<text x="323" y="440.6" font-size="4.8" font-weight="bold" fill="#333" stroke="#333" stroke-width="0.32" text-anchor="end">10</text>
<line x1="326.3" y1="427.3" x2="450.5" y2="427.3" stroke="#a8a8a8" stroke-width="0.7"/>
<text x="323" y="428.9" font-size="4.8" font-weight="bold" fill="#333" stroke="#333" stroke-width="0.32" text-anchor="end">20</text>
<line x1="326.3" y1="415.6" x2="450.5" y2="415.6" stroke="#a8a8a8" stroke-width="0.7"/>
<text x="323" y="417.2" font-size="4.8" font-weight="bold" fill="#333" stroke="#333" stroke-width="0.32" text-anchor="end">30</text>
<line x1="326.3" y1="403.9" x2="450.5" y2="403.9" stroke="#a8a8a8" stroke-width="0.7"/>
<text x="323" y="405.5" font-size="4.8" font-weight="bold" fill="#333" stroke="#333" stroke-width="0.32" text-anchor="end">40</text>
<line x1="326.3" y1="392.2" x2="450.5" y2="392.2" stroke="#a8a8a8" stroke-width="0.7"/>
<text x="323" y="393.8" font-size="4.8" font-weight="bold" fill="#333" stroke="#333" stroke-width="0.32" text-anchor="end">50</text>
<line x1="326.3" y1="380.5" x2="450.5" y2="380.5" stroke="#a8a8a8" stroke-width="0.7"/>
<text x="323" y="382.1" font-size="4.8" font-weight="bold" fill="#333" stroke="#333" stroke-width="0.32" text-anchor="end">60</text>
<line x1="326.3" y1="368.8" x2="450.5" y2="368.8" stroke="#a8a8a8" stroke-width="0.7"/>
<text x="323" y="370.4" font-size="4.8" font-weight="bold" fill="#333" stroke="#333" stroke-width="0.32" text-anchor="end">70</text>
<line x1="326.3" y1="368.8" x2="326.3" y2="450.7" stroke="#a8a8a8" stroke-width="0.7"/>
<line x1="326.4" y1="450.7" x2="326.4" y2="452.2" stroke="#999" stroke-width="0.5"/>
<text x="326.4" y="462.9" font-size="6.9" font-weight="bold" fill="#222" stroke="#222" stroke-width="0.32" text-anchor="middle">0</text>
<line x1="347.05" y1="450.7" x2="347.05" y2="452.2" stroke="#999" stroke-width="0.5"/>
<text x="347.05" y="462.9" font-size="6.9" font-weight="bold" fill="#222" stroke="#222" stroke-width="0.32" text-anchor="middle">1</text>
<line x1="367.7" y1="450.7" x2="367.7" y2="452.2" stroke="#999" stroke-width="0.5"/>
<text x="367.7" y="462.9" font-size="6.9" font-weight="bold" fill="#222" stroke="#222" stroke-width="0.32" text-anchor="middle">2</text>
<line x1="388.35" y1="450.7" x2="388.35" y2="452.2" stroke="#999" stroke-width="0.5"/>
<text x="388.35" y="462.9" font-size="6.9" font-weight="bold" fill="#222" stroke="#222" stroke-width="0.32" text-anchor="middle">3</text>
<line x1="409" y1="450.7" x2="409" y2="452.2" stroke="#999" stroke-width="0.5"/>
<text x="409" y="462.9" font-size="6.9" font-weight="bold" fill="#222" stroke="#222" stroke-width="0.32" text-anchor="middle">4</text>
<line x1="429.65" y1="450.7" x2="429.65" y2="452.2" stroke="#999" stroke-width="0.5"/>
<text x="429.65" y="462.9" font-size="6.9" font-weight="bold" fill="#222" stroke="#222" stroke-width="0.32" text-anchor="middle">5</text>
<line x1="450.3" y1="450.7" x2="450.3" y2="452.2" stroke="#999" stroke-width="0.5"/>
<text x="450.3" y="462.9" font-size="6.9" font-weight="bold" fill="#222" stroke="#222" stroke-width="0.32" text-anchor="middle">6</text>
<rect x="328" y="367.5" width="61.8" height="41.5" fill="#fff"/>
<path d="M326.4 449.53 L409 446.02 L450.3 419.11" fill="none" stroke="#7a7a7a" stroke-width="2"/>
<path d="M326.4 449.53 L409 439 L450.3 393.37" fill="none" stroke="#8a8a8a" stroke-width="1.2" stroke-dasharray="4.5 2.5"/>
<path d="M326.4 449.53 L409 444.85 L450.3 444.85" fill="none" stroke="#222" stroke-width="1.2" stroke-dasharray="1.2 2.6"/>
<path d="M326.4 449.53 L409 431.98 L450.3 381.67" fill="none" stroke="#000" stroke-width="2.2"/>
<path d="M326.4 447.43l2.1 2.1l-2.1 2.1l-2.1 -2.1z" fill="#888"/>
<path d="M409 436.9l2.1 2.1l-2.1 2.1l-2.1 -2.1z" fill="#888"/>
<path d="M450.3 391.27l2.1 2.1l-2.1 2.1l-2.1 -2.1z" fill="#888"/>
<rect x="324.5" y="447.63" width="3.8" height="3.8" fill="#888"/>
<rect x="407.1" y="444.12" width="3.8" height="3.8" fill="#888"/>
<rect x="448.4" y="417.21" width="3.8" height="3.8" fill="#888"/>
<path d="M409 442.45l2.4 4h-4.8z" fill="#000"/>
<path d="M450.3 442.45l2.4 4h-4.8z" fill="#000"/>
<line x1="331.5" y1="373.3" x2="342" y2="373.3" stroke="#999" stroke-width="1" stroke-dasharray="3 1.5"/>
<path d="M336.7 371.7l1.6 1.6l-1.6 1.6l-1.6 -1.6z" fill="#888"/>
<text x="343.8" y="375.4" font-size="5.3" font-weight="bold" fill="#222" stroke="#222" stroke-width="0.32" textLength="45" lengthAdjust="spacingAndGlyphs">VECTOR HIGH GFP</text>
<line x1="331.5" y1="384.3" x2="344" y2="384.3" stroke="#7a7a7a" stroke-width="2"/>
<rect x="335.5" y="382.8" width="3" height="3" fill="#888"/>
<text x="343.8" y="386.4" font-size="5.3" font-weight="bold" fill="#222" stroke="#222" stroke-width="0.32" textLength="45" lengthAdjust="spacingAndGlyphs">VECTOR LOW GFP</text>
<line x1="331.5" y1="395.2" x2="342" y2="395.2" stroke="#222" stroke-width="1" stroke-dasharray="1 2.4"/>
<path d="M336.7 393.2l2 3.4h-4z" fill="#000"/>
<text x="343.8" y="397.2" font-size="5.3" font-weight="bold" fill="#222" stroke="#222" stroke-width="0.32" textLength="43.2" lengthAdjust="spacingAndGlyphs">GATA-2 HIGH GFP</text>
<line x1="331.5" y1="405.8" x2="344" y2="405.8" stroke="#000" stroke-width="2.2"/>
<text x="343.8" y="408" font-size="5.3" font-weight="bold" fill="#222" stroke="#222" stroke-width="0.32" textLength="42.4" lengthAdjust="spacingAndGlyphs">GATA-2 LOW GFP</text>
<text x="309" y="450.6" font-size="6.6" font-weight="bold" stroke="#000" stroke-width="0.32" textLength="73" lengthAdjust="spacingAndGlyphs" transform="rotate(-90 309 450.6)">Proliferation relative to d0</text>
<text x="382.6" y="473.4" font-size="7.2" font-weight="bold" stroke="#000" stroke-width="0.32" textLength="15.3" lengthAdjust="spacingAndGlyphs">Days</text>
</svg>
</body></html>
